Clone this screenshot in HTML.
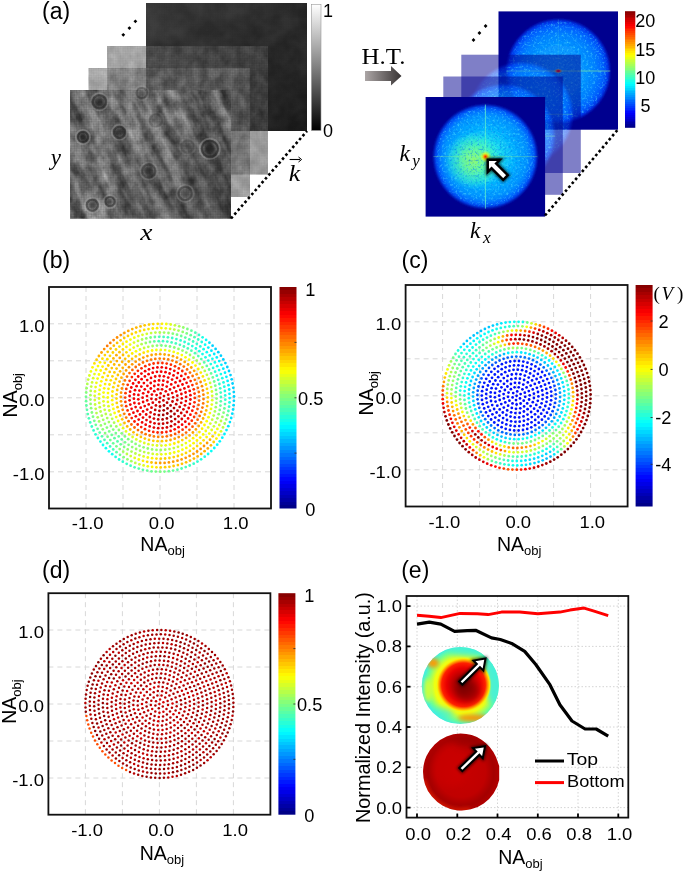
<!DOCTYPE html>
<html><head><meta charset="utf-8"><title>Figure</title>
<style>html,body{margin:0;padding:0;background:#fff;width:685px;height:873px;overflow:hidden}svg{display:block;font-family:"Liberation Sans",sans-serif;will-change:transform}</style>
</head><body>
<svg width="685" height="873" viewBox="0 0 685 873">
<defs>
<linearGradient id="jetv" x1="0" y1="1" x2="0" y2="0"><stop offset="0.0000" stop-color="#000087"/><stop offset="0.0156" stop-color="#000087"/><stop offset="0.0156" stop-color="#000097"/><stop offset="0.0312" stop-color="#000097"/><stop offset="0.0312" stop-color="#0000a7"/><stop offset="0.0469" stop-color="#0000a7"/><stop offset="0.0469" stop-color="#0000b7"/><stop offset="0.0625" stop-color="#0000b7"/><stop offset="0.0625" stop-color="#0000c7"/><stop offset="0.0781" stop-color="#0000c7"/><stop offset="0.0781" stop-color="#0000d7"/><stop offset="0.0938" stop-color="#0000d7"/><stop offset="0.0938" stop-color="#0000e7"/><stop offset="0.1094" stop-color="#0000e7"/><stop offset="0.1094" stop-color="#0000f7"/><stop offset="0.1250" stop-color="#0000f7"/><stop offset="0.1250" stop-color="#0008ff"/><stop offset="0.1406" stop-color="#0008ff"/><stop offset="0.1406" stop-color="#0018ff"/><stop offset="0.1562" stop-color="#0018ff"/><stop offset="0.1562" stop-color="#0028ff"/><stop offset="0.1719" stop-color="#0028ff"/><stop offset="0.1719" stop-color="#0038ff"/><stop offset="0.1875" stop-color="#0038ff"/><stop offset="0.1875" stop-color="#0048ff"/><stop offset="0.2031" stop-color="#0048ff"/><stop offset="0.2031" stop-color="#0058ff"/><stop offset="0.2188" stop-color="#0058ff"/><stop offset="0.2188" stop-color="#0068ff"/><stop offset="0.2344" stop-color="#0068ff"/><stop offset="0.2344" stop-color="#0078ff"/><stop offset="0.2500" stop-color="#0078ff"/><stop offset="0.2500" stop-color="#0087ff"/><stop offset="0.2656" stop-color="#0087ff"/><stop offset="0.2656" stop-color="#0097ff"/><stop offset="0.2812" stop-color="#0097ff"/><stop offset="0.2812" stop-color="#00a7ff"/><stop offset="0.2969" stop-color="#00a7ff"/><stop offset="0.2969" stop-color="#00b7ff"/><stop offset="0.3125" stop-color="#00b7ff"/><stop offset="0.3125" stop-color="#00c7ff"/><stop offset="0.3281" stop-color="#00c7ff"/><stop offset="0.3281" stop-color="#00d7ff"/><stop offset="0.3438" stop-color="#00d7ff"/><stop offset="0.3438" stop-color="#00e7ff"/><stop offset="0.3594" stop-color="#00e7ff"/><stop offset="0.3594" stop-color="#00f7ff"/><stop offset="0.3750" stop-color="#00f7ff"/><stop offset="0.3750" stop-color="#08fff7"/><stop offset="0.3906" stop-color="#08fff7"/><stop offset="0.3906" stop-color="#18ffe7"/><stop offset="0.4062" stop-color="#18ffe7"/><stop offset="0.4062" stop-color="#28ffd7"/><stop offset="0.4219" stop-color="#28ffd7"/><stop offset="0.4219" stop-color="#38ffc7"/><stop offset="0.4375" stop-color="#38ffc7"/><stop offset="0.4375" stop-color="#48ffb7"/><stop offset="0.4531" stop-color="#48ffb7"/><stop offset="0.4531" stop-color="#58ffa7"/><stop offset="0.4688" stop-color="#58ffa7"/><stop offset="0.4688" stop-color="#68ff97"/><stop offset="0.4844" stop-color="#68ff97"/><stop offset="0.4844" stop-color="#78ff87"/><stop offset="0.5000" stop-color="#78ff87"/><stop offset="0.5000" stop-color="#87ff78"/><stop offset="0.5156" stop-color="#87ff78"/><stop offset="0.5156" stop-color="#97ff68"/><stop offset="0.5312" stop-color="#97ff68"/><stop offset="0.5312" stop-color="#a7ff58"/><stop offset="0.5469" stop-color="#a7ff58"/><stop offset="0.5469" stop-color="#b7ff48"/><stop offset="0.5625" stop-color="#b7ff48"/><stop offset="0.5625" stop-color="#c7ff38"/><stop offset="0.5781" stop-color="#c7ff38"/><stop offset="0.5781" stop-color="#d7ff28"/><stop offset="0.5938" stop-color="#d7ff28"/><stop offset="0.5938" stop-color="#e7ff18"/><stop offset="0.6094" stop-color="#e7ff18"/><stop offset="0.6094" stop-color="#f7ff08"/><stop offset="0.6250" stop-color="#f7ff08"/><stop offset="0.6250" stop-color="#fff700"/><stop offset="0.6406" stop-color="#fff700"/><stop offset="0.6406" stop-color="#ffe700"/><stop offset="0.6562" stop-color="#ffe700"/><stop offset="0.6562" stop-color="#ffd700"/><stop offset="0.6719" stop-color="#ffd700"/><stop offset="0.6719" stop-color="#ffc700"/><stop offset="0.6875" stop-color="#ffc700"/><stop offset="0.6875" stop-color="#ffb700"/><stop offset="0.7031" stop-color="#ffb700"/><stop offset="0.7031" stop-color="#ffa700"/><stop offset="0.7188" stop-color="#ffa700"/><stop offset="0.7188" stop-color="#ff9700"/><stop offset="0.7344" stop-color="#ff9700"/><stop offset="0.7344" stop-color="#ff8700"/><stop offset="0.7500" stop-color="#ff8700"/><stop offset="0.7500" stop-color="#ff7800"/><stop offset="0.7656" stop-color="#ff7800"/><stop offset="0.7656" stop-color="#ff6800"/><stop offset="0.7812" stop-color="#ff6800"/><stop offset="0.7812" stop-color="#ff5800"/><stop offset="0.7969" stop-color="#ff5800"/><stop offset="0.7969" stop-color="#ff4800"/><stop offset="0.8125" stop-color="#ff4800"/><stop offset="0.8125" stop-color="#ff3800"/><stop offset="0.8281" stop-color="#ff3800"/><stop offset="0.8281" stop-color="#ff2800"/><stop offset="0.8438" stop-color="#ff2800"/><stop offset="0.8438" stop-color="#ff1800"/><stop offset="0.8594" stop-color="#ff1800"/><stop offset="0.8594" stop-color="#ff0800"/><stop offset="0.8750" stop-color="#ff0800"/><stop offset="0.8750" stop-color="#f70000"/><stop offset="0.8906" stop-color="#f70000"/><stop offset="0.8906" stop-color="#e70000"/><stop offset="0.9062" stop-color="#e70000"/><stop offset="0.9062" stop-color="#d70000"/><stop offset="0.9219" stop-color="#d70000"/><stop offset="0.9219" stop-color="#c70000"/><stop offset="0.9375" stop-color="#c70000"/><stop offset="0.9375" stop-color="#b70000"/><stop offset="0.9531" stop-color="#b70000"/><stop offset="0.9531" stop-color="#a70000"/><stop offset="0.9688" stop-color="#a70000"/><stop offset="0.9688" stop-color="#970000"/><stop offset="0.9844" stop-color="#970000"/><stop offset="0.9844" stop-color="#870000"/><stop offset="1.0000" stop-color="#870000"/></linearGradient>
<linearGradient id="grayv" x1="0" y1="1" x2="0" y2="0"><stop offset="0" stop-color="#000"/><stop offset="1" stop-color="#fff"/></linearGradient>
<linearGradient id="arrowg" x1="0" y1="0" x2="1" y2="0"><stop offset="0" stop-color="#aca6a6"/><stop offset="1" stop-color="#383434"/></linearGradient>
<filter id="noise" x="0" y="0" width="100%" height="100%">
  <feTurbulence type="fractalNoise" baseFrequency="0.9" numOctaves="2" seed="3" result="n"/>
  <feColorMatrix type="matrix" values="0 0 0 0 0  0 0 0 0 0  0 0 0 0 0  0.9 0 0 0 -0.2" result="na"/>
  <feComposite in="na" in2="SourceGraphic" operator="in"/>
</filter>
<filter id="speck" x="0" y="0" width="100%" height="100%">
  <feTurbulence type="fractalNoise" baseFrequency="0.8" numOctaves="1" seed="7" result="n"/>
  <feColorMatrix in="n" type="matrix" values="0 0 0 0 0.0  0 0 0 0 0.0  0 0 0 0 0.3  0 0 0 1.2 -0.55" result="na"/>
  <feComposite in="na" in2="SourceGraphic" operator="in"/>
</filter>
<radialGradient id="fft" cx="0.5" cy="0.5" r="0.5">
  <stop offset="0" stop-color="#30f0d0"/>
  <stop offset="0.3" stop-color="#18d8f0"/>
  <stop offset="0.55" stop-color="#00b0ff"/>
  <stop offset="0.8" stop-color="#0090ff"/>
  <stop offset="0.9" stop-color="#0064ff"/>
  <stop offset="0.96" stop-color="#0038e8"/>
  <stop offset="1" stop-color="#00008f"/>
</radialGradient>
<radialGradient id="fftb" cx="0.5" cy="0.5" r="0.5">
  <stop offset="0" stop-color="#10a8ff"/>
  <stop offset="0.45" stop-color="#0898ff"/>
  <stop offset="0.7" stop-color="#0080ff"/>
  <stop offset="0.86" stop-color="#005cff"/>
  <stop offset="0.95" stop-color="#0030e8"/>
  <stop offset="1" stop-color="#00008f"/>
</radialGradient>
<radialGradient id="spotb" cx="0.5" cy="0.5" r="0.5">
  <stop offset="0" stop-color="#d00000"/>
  <stop offset="0.35" stop-color="#ff4000"/>
  <stop offset="0.7" stop-color="#ffc000" stop-opacity="0.4"/>
  <stop offset="1" stop-color="#c0ff40" stop-opacity="0"/>
</radialGradient>
<radialGradient id="greenz" cx="0.5" cy="0.5" r="0.5">
  <stop offset="0" stop-color="#a0ff60" stop-opacity="0.9"/>
  <stop offset="0.4" stop-color="#70ff90" stop-opacity="0.8"/>
  <stop offset="0.75" stop-color="#40f8c0" stop-opacity="0.5"/>
  <stop offset="1" stop-color="#30f0e0" stop-opacity="0"/>
</radialGradient>
<radialGradient id="spot" cx="0.5" cy="0.5" r="0.5">
  <stop offset="0" stop-color="#ff2000"/>
  <stop offset="0.25" stop-color="#ff9000"/>
  <stop offset="0.55" stop-color="#ffff00" stop-opacity="0.6"/>
  <stop offset="1" stop-color="#c0ff40" stop-opacity="0"/>
</radialGradient>
<filter id="speckd" x="0" y="0" width="100%" height="100%">
  <feTurbulence type="fractalNoise" baseFrequency="0.45" numOctaves="2" seed="7" result="n"/>
  <feColorMatrix in="n" type="matrix" values="0 0 0 0 0  0 0 0 0 0.2  0 0 0 0 0.9  0 0 0 2.6 -1.3" result="na"/>
  <feComposite in="na" in2="SourceGraphic" operator="in"/>
</filter>
<filter id="speckl" x="0" y="0" width="100%" height="100%">
  <feTurbulence type="fractalNoise" baseFrequency="0.45" numOctaves="2" seed="19" result="n"/>
  <feColorMatrix in="n" type="matrix" values="0 0 0 0 0.1  0 0 0 0 0.8  0 0 0 0 1  0 0 0 2.6 -1.35" result="na"/>
  <feComposite in="na" in2="SourceGraphic" operator="in"/>
</filter>
<filter id="soft" x="-10%" y="-10%" width="120%" height="120%"><feGaussianBlur stdDeviation="1.2"/></filter>
<radialGradient id="ins1" cx="0.5" cy="0.5" r="0.5">
  <stop offset="0" stop-color="#7a0000"/>
  <stop offset="0.3" stop-color="#a80000"/>
  <stop offset="0.6" stop-color="#e80000"/>
  <stop offset="0.78" stop-color="#ff2000"/>
  <stop offset="0.86" stop-color="#ff9000"/>
  <stop offset="0.93" stop-color="#ffe800"/>
  <stop offset="1" stop-color="#d0ff40" stop-opacity="0"/>
</radialGradient>
<radialGradient id="ins1o" cx="0.53" cy="0.5" r="0.5">
  <stop offset="0" stop-color="#f0ff10"/>
  <stop offset="0.72" stop-color="#f0ff10"/>
  <stop offset="0.8" stop-color="#b8ff48"/>
  <stop offset="0.9" stop-color="#70ff90"/>
  <stop offset="1" stop-color="#48f0d8"/>
</radialGradient>
<radialGradient id="ins2" cx="0.5" cy="0.5" r="0.5">
  <stop offset="0" stop-color="#c80000"/>
  <stop offset="0.6" stop-color="#c00000"/>
  <stop offset="0.8" stop-color="#a40000"/>
  <stop offset="0.93" stop-color="#b00000"/>
  <stop offset="1" stop-color="#c00000"/>
</radialGradient>
<filter id="blur3" x="-50%" y="-50%" width="200%" height="200%"><feGaussianBlur stdDeviation="3"/></filter>
<filter id="blur2" x="-50%" y="-50%" width="200%" height="200%"><feGaussianBlur stdDeviation="2"/></filter>
<clipPath id="c_ins1"><circle cx="460.3" cy="685.5" r="38.6"/></clipPath>
<clipPath id="c_ins2"><path d="M460.5,733.5 A38.5,38.5 0 0 1 496,757 L499.2,766 L499.2,780 A38.5,38.5 0 1 1 460.5,733.5 Z"/></clipPath>
<linearGradient id="backg" x1="0" y1="0" x2="1" y2="1"><stop offset="0" stop-color="#383838"/><stop offset="0.5" stop-color="#282828"/><stop offset="1" stop-color="#181818"/></linearGradient>
<linearGradient id="f2g" x1="0" y1="0" x2="1" y2="1"><stop offset="0" stop-color="#666"/><stop offset="1" stop-color="#444"/></linearGradient>
<linearGradient id="f3g" x1="0" y1="0" x2="1" y2="1"><stop offset="0" stop-color="#7a7a7a"/><stop offset="1" stop-color="#626262"/></linearGradient>
<linearGradient id="frontv" x1="0" y1="0" x2="1" y2="0.6"><stop offset="0" stop-color="#000" stop-opacity="0.12"/><stop offset="0.45" stop-color="#000" stop-opacity="0"/><stop offset="1" stop-color="#000" stop-opacity="0.28"/></linearGradient>
<filter id="gnoise" x="0" y="0" width="100%" height="100%" color-interpolation-filters="sRGB">
  <feTurbulence type="fractalNoise" baseFrequency="0.11 0.09" numOctaves="3" seed="5"/>
  <feColorMatrix type="matrix" values="1.6 0 0 0 -0.3  1.6 0 0 0 -0.3  1.6 0 0 0 -0.3  0 0 0 0 1"/>
</filter>
<filter id="gnoise2" x="0" y="0" width="100%" height="100%" color-interpolation-filters="sRGB">
  <feTurbulence type="fractalNoise" baseFrequency="0.05" numOctaves="3" seed="11"/>
  <feColorMatrix type="matrix" values="2 0 0 0 -0.5  2 0 0 0 -0.5  2 0 0 0 -0.5  0 0 0 0 1"/>
</filter>
<pattern id="hatch" width="2.4" height="2.4" patternUnits="userSpaceOnUse" patternTransform="rotate(45)">
  <rect width="1.2" height="1.2" fill="rgba(0,0,0,0.2)"/><rect x="1.2" y="1.2" width="1.2" height="1.2" fill="rgba(0,0,0,0.2)"/>
</pattern>
<pattern id="bands" width="18" height="18" patternUnits="userSpaceOnUse" patternTransform="rotate(-30)">
  <rect width="18" height="5" fill="rgba(255,255,255,0.13)"/>
  <rect y="9" width="18" height="5" fill="rgba(0,0,0,0.10)"/>
</pattern>
<filter id="blur1" x="-50%" y="-50%" width="200%" height="200%"><feGaussianBlur stdDeviation="1.5"/></filter>
<filter id="streak" x="0" y="0" width="100%" height="100%" color-interpolation-filters="sRGB">
  <feTurbulence type="fractalNoise" baseFrequency="0.075 0.012" numOctaves="3" seed="23"/>
  <feColorMatrix type="matrix" values="2.4 0 0 0 -0.7  2.4 0 0 0 -0.7  2.4 0 0 0 -0.7  0 0 0 0 1"/>
</filter>
<pattern id="diag" width="6" height="6" patternUnits="userSpaceOnUse" patternTransform="rotate(45)">
  <rect width="6" height="3" fill="rgba(255,255,255,0.08)"/>
</pattern>
</defs>
<text x="42" y="19" font-size="23" font-family="Liberation Sans, sans-serif">(a)</text>
<rect x="146" y="3" width="161" height="128" fill="url(#backg)"/>
<rect x="146" y="3" width="161" height="128" filter="url(#gnoise2)" opacity="0.05"/>
<rect x="146" y="3" width="161" height="128" fill="url(#hatch)" opacity="0.3"/>
<g opacity="0.56"><rect x="107" y="46" width="161" height="128.5" fill="url(#f2g)"/><rect x="107" y="46" width="161" height="128.5" filter="url(#gnoise)" opacity="0.2"/><rect x="107" y="46" width="161" height="128.5" fill="url(#hatch)"/></g>
<g opacity="0.6"><rect x="88.6" y="68" width="161.4" height="129" fill="url(#f3g)"/><rect x="88.6" y="68" width="161.4" height="129" filter="url(#gnoise)" opacity="0.2"/><rect x="88.6" y="68" width="161.4" height="129" fill="url(#hatch)"/></g>
<rect x="70" y="90" width="161" height="128.6" fill="#747474"/>
<clipPath id="frontclip"><rect x="70" y="90" width="161" height="128.6"/></clipPath>
<g clip-path="url(#frontclip)"><g transform="rotate(-26 150 154)"><rect x="40" y="40" width="230" height="230" filter="url(#streak)" opacity="0.42"/></g></g>
<rect x="70" y="90" width="161" height="128.6" filter="url(#gnoise)" opacity="0.24"/>
<rect x="70" y="90" width="161" height="128.6" fill="url(#hatch)"/>
<rect x="70" y="90" width="161" height="128.6" fill="url(#frontv)"/>
<circle cx="99.4" cy="101.8" r="8.7" fill="none" stroke="#d8d8d8" stroke-width="1.6" opacity="0.20"/>
<circle cx="99.4" cy="101.8" r="6.5" fill="none" stroke="#262626" stroke-width="2" opacity="0.48"/>
<circle cx="99.4" cy="101.8" r="3.9" fill="#1a1a1a" opacity="0.60" filter="url(#blur1)"/>
<circle cx="82.9" cy="137.0" r="7.2" fill="none" stroke="#d8d8d8" stroke-width="1.6" opacity="0.25"/>
<circle cx="82.9" cy="137.0" r="5.0" fill="none" stroke="#262626" stroke-width="2" opacity="0.60"/>
<circle cx="82.9" cy="137.0" r="3.0" fill="#1a1a1a" opacity="0.75" filter="url(#blur1)"/>
<circle cx="119.4" cy="132.3" r="7.7" fill="none" stroke="#d8d8d8" stroke-width="1.6" opacity="0.20"/>
<circle cx="119.4" cy="132.3" r="5.5" fill="none" stroke="#262626" stroke-width="2" opacity="0.48"/>
<circle cx="119.4" cy="132.3" r="3.3" fill="#1a1a1a" opacity="0.60" filter="url(#blur1)"/>
<circle cx="209.8" cy="148.8" r="10.2" fill="none" stroke="#d8d8d8" stroke-width="1.6" opacity="0.25"/>
<circle cx="209.8" cy="148.8" r="8.0" fill="none" stroke="#262626" stroke-width="2" opacity="0.60"/>
<circle cx="209.8" cy="148.8" r="4.8" fill="#1a1a1a" opacity="0.75" filter="url(#blur1)"/>
<circle cx="148.7" cy="171.0" r="8.7" fill="none" stroke="#d8d8d8" stroke-width="1.6" opacity="0.15"/>
<circle cx="148.7" cy="171.0" r="6.5" fill="none" stroke="#262626" stroke-width="2" opacity="0.36"/>
<circle cx="148.7" cy="171.0" r="3.9" fill="#1a1a1a" opacity="0.45" filter="url(#blur1)"/>
<circle cx="185.2" cy="193.4" r="8.7" fill="none" stroke="#d8d8d8" stroke-width="1.6" opacity="0.15"/>
<circle cx="185.2" cy="193.4" r="6.5" fill="none" stroke="#262626" stroke-width="2" opacity="0.36"/>
<circle cx="185.2" cy="193.4" r="3.9" fill="#1a1a1a" opacity="0.45" filter="url(#blur1)"/>
<circle cx="92.3" cy="205.2" r="7.7" fill="none" stroke="#d8d8d8" stroke-width="1.6" opacity="0.20"/>
<circle cx="92.3" cy="205.2" r="5.5" fill="none" stroke="#262626" stroke-width="2" opacity="0.48"/>
<circle cx="92.3" cy="205.2" r="3.3" fill="#1a1a1a" opacity="0.60" filter="url(#blur1)"/>
<circle cx="110.0" cy="201.6" r="6.7" fill="none" stroke="#d8d8d8" stroke-width="1.6" opacity="0.20"/>
<circle cx="110.0" cy="201.6" r="4.5" fill="none" stroke="#262626" stroke-width="2" opacity="0.48"/>
<circle cx="110.0" cy="201.6" r="2.7" fill="#1a1a1a" opacity="0.60" filter="url(#blur1)"/>
<circle cx="141.7" cy="93.0" r="7.2" fill="none" stroke="#d8d8d8" stroke-width="1.6" opacity="0.12"/>
<circle cx="141.7" cy="93.0" r="5.0" fill="none" stroke="#262626" stroke-width="2" opacity="0.30"/>
<circle cx="141.7" cy="93.0" r="3.0" fill="#1a1a1a" opacity="0.38" filter="url(#blur1)"/>
<circle cx="155.8" cy="120.5" r="8.2" fill="none" stroke="#d8d8d8" stroke-width="1.6" opacity="0.07"/>
<circle cx="155.8" cy="120.5" r="6.0" fill="none" stroke="#262626" stroke-width="2" opacity="0.18"/>
<circle cx="155.8" cy="120.5" r="3.6" fill="#1a1a1a" opacity="0.22" filter="url(#blur1)"/>
<circle cx="187.5" cy="146.4" r="8.2" fill="none" stroke="#d8d8d8" stroke-width="1.6" opacity="0.07"/>
<circle cx="187.5" cy="146.4" r="6.0" fill="none" stroke="#262626" stroke-width="2" opacity="0.18"/>
<circle cx="187.5" cy="146.4" r="3.6" fill="#1a1a1a" opacity="0.22" filter="url(#blur1)"/>
<path d="M123.3,32.9 l1.9,1.9 l-1.9,1.9 l-1.9,-1.9 Z" fill="#000"/>
<path d="M129.4,26.2 l1.9,1.9 l-1.9,1.9 l-1.9,-1.9 Z" fill="#000"/>
<path d="M135.4,19.4 l1.9,1.9 l-1.9,1.9 l-1.9,-1.9 Z" fill="#000"/>
<line x1="231" y1="218.5" x2="307" y2="131" stroke="#000" stroke-width="2.6" stroke-dasharray="2.6 2.6"/>
<rect x="311.4" y="4.5" width="9.6" height="126" fill="url(#grayv)" stroke="#9a9a9a" stroke-width="0.6"/>
<text x="323" y="17" font-size="18" font-family="Liberation Sans, sans-serif">1</text>
<text x="323" y="137" font-size="18" font-family="Liberation Sans, sans-serif">0</text>
<text x="50.8" y="165.2" font-size="23" font-style="italic" font-family="Liberation Serif, serif">y</text>
<text x="140.2" y="240" font-size="23.5" font-style="italic" textLength="12.2" lengthAdjust="spacingAndGlyphs" font-family="Liberation Serif, serif">x</text>
<text x="288.8" y="180.5" font-size="23.5" font-style="italic" textLength="11.5" lengthAdjust="spacingAndGlyphs" font-family="Liberation Serif, serif">k</text>
<line x1="289.6" y1="159.5" x2="300" y2="159.5" stroke="#000" stroke-width="1.1"/>
<path d="M298.5,157 L301.6,159.5 L298.5,162" fill="none" stroke="#000" stroke-width="1"/>
<text x="361.6" y="63.9" font-size="23.4" textLength="43.8" lengthAdjust="spacingAndGlyphs" font-family="Liberation Serif, serif">H.T.</text>
<path d="M365,71 L391,71 L391,66 L401.5,76 L391,85.5 L391,81 L365,81 Z" fill="url(#arrowg)"/>
<path d="M473.5,38.1 l1.9,1.9 l-1.9,1.9 l-1.9,-1.9 Z" fill="#000"/>
<path d="M479.4,31.1 l1.9,1.9 l-1.9,1.9 l-1.9,-1.9 Z" fill="#000"/>
<path d="M485.6,24.1 l1.9,1.9 l-1.9,1.9 l-1.9,-1.9 Z" fill="#000"/>
<g opacity="1.00"><rect x="498.5" y="11.4" width="119.5" height="118.3" fill="#00008f"/><circle cx="558.3" cy="71.0" r="52.5" fill="url(#fftb)" filter="url(#soft)"/><circle cx="558.3" cy="71.0" r="50.5" fill="#000" filter="url(#speckd)" opacity="0.7"/><circle cx="558.3" cy="71.0" r="49" fill="#000" filter="url(#speckl)" opacity="0.6"/><line x1="558.3" y1="19.0" x2="558.3" y2="123.0" stroke="#70ffc0" stroke-width="0.9" opacity="0.15"/><line x1="506.3" y1="71.0" x2="610.3" y2="71.0" stroke="#a0ff80" stroke-width="0.9" opacity="0.60"/><ellipse cx="558.3" cy="71.0" rx="4.5" ry="2.6" fill="url(#spotb)"/></g>
<g opacity="0.50"><rect x="461.3" y="54.7" width="119.5" height="118.3" fill="#00008f"/><circle cx="521.1" cy="114.3" r="52.5" fill="url(#fftb)" filter="url(#soft)"/><circle cx="521.1" cy="114.3" r="50.5" fill="#000" filter="url(#speckd)" opacity="0.7"/><circle cx="521.1" cy="114.3" r="49" fill="#000" filter="url(#speckl)" opacity="0.6"/><line x1="521.1" y1="62.3" x2="521.1" y2="166.3" stroke="#70ffc0" stroke-width="0.9" opacity="0.15"/><line x1="469.1" y1="114.3" x2="573.1" y2="114.3" stroke="#a0ff80" stroke-width="0.9" opacity="0.60"/><ellipse cx="521.1" cy="114.3" rx="4.5" ry="2.6" fill="url(#spotb)"/></g>
<g opacity="0.50"><rect x="443.3" y="76.5" width="119.5" height="118.3" fill="#00008f"/><circle cx="503.1" cy="136.1" r="52.5" fill="url(#fftb)" filter="url(#soft)"/><circle cx="503.1" cy="136.1" r="50.5" fill="#000" filter="url(#speckd)" opacity="0.7"/><circle cx="503.1" cy="136.1" r="49" fill="#000" filter="url(#speckl)" opacity="0.6"/><line x1="503.1" y1="84.1" x2="503.1" y2="188.1" stroke="#70ffc0" stroke-width="0.9" opacity="0.15"/><line x1="451.1" y1="136.1" x2="555.1" y2="136.1" stroke="#a0ff80" stroke-width="0.9" opacity="0.60"/><ellipse cx="503.1" cy="136.1" rx="4.5" ry="2.6" fill="url(#spotb)"/></g>
<g opacity="1.00"><rect x="425.6" y="97.0" width="119.5" height="119.6" fill="#00008f"/><circle cx="485.4" cy="156.6" r="52.5" fill="url(#fft)" filter="url(#soft)"/><circle cx="473.4" cy="160.6" r="29" fill="url(#greenz)"/><circle cx="485.4" cy="156.6" r="50.5" fill="#000" filter="url(#speckd)" opacity="0.7"/><circle cx="485.4" cy="156.6" r="49" fill="#000" filter="url(#speckl)" opacity="0.6"/><line x1="485.4" y1="104.6" x2="485.4" y2="208.6" stroke="#70ffc0" stroke-width="0.9" opacity="0.75"/><line x1="433.4" y1="156.6" x2="537.4" y2="156.6" stroke="#a0ff80" stroke-width="0.9" opacity="0.35"/><circle cx="485.4" cy="156.6" r="6" fill="url(#spot)"/></g>
<g transform="translate(487.8,159.8) rotate(-45)"><path d="M0,0 L8.5,8.5 L3.2,8.5 L3.2,25 L-3.2,25 L-3.2,8.5 L-8.5,8.5 Z" fill="#000" stroke="#000" stroke-width="4" filter="url(#blur1)" opacity="0.8"/><path d="M0,0 L8.5,8.5 L3.2,8.5 L3.2,25 L-3.2,25 L-3.2,8.5 L-8.5,8.5 Z" fill="#fff" stroke="#000" stroke-width="2.4" stroke-linejoin="miter"/></g>
<line x1="545" y1="215.5" x2="617.5" y2="130" stroke="#000" stroke-width="2.6" stroke-dasharray="2.6 2.6"/>
<rect x="625" y="11.2" width="10.3" height="116.6" fill="url(#jetv)"/>
<text x="635.3" y="26.8" font-size="18" font-family="Liberation Sans, sans-serif">20</text>
<text x="635.3" y="55.5" font-size="18" font-family="Liberation Sans, sans-serif">15</text>
<text x="635.3" y="84.0" font-size="18" font-family="Liberation Sans, sans-serif">10</text>
<text x="640.6" y="112.0" font-size="18" font-family="Liberation Sans, sans-serif">5</text>
<text x="399.6" y="161.3" font-size="23.5" font-style="italic" font-family="Liberation Serif, serif">k<tspan font-size="17" dx="2.3" dy="5">y</tspan></text>
<text x="470" y="237.8" font-size="23.5" font-style="italic" font-family="Liberation Serif, serif">k<tspan font-size="17.5" dx="2.6" dy="5">x</tspan></text>
<text x="42.0" y="268.0" font-size="23" font-family="Liberation Sans, sans-serif">(b)</text>
<line x1="86.0" y1="287.0" x2="86.0" y2="508.5" stroke="#d8d8d8" stroke-width="1" stroke-dasharray="5 4"/>
<line x1="49.0" y1="471.8" x2="271.0" y2="471.8" stroke="#d8d8d8" stroke-width="1" stroke-dasharray="5 4"/>
<line x1="123.0" y1="287.0" x2="123.0" y2="508.5" stroke="#d8d8d8" stroke-width="1" stroke-dasharray="5 4"/>
<line x1="49.0" y1="434.8" x2="271.0" y2="434.8" stroke="#d8d8d8" stroke-width="1" stroke-dasharray="5 4"/>
<line x1="160.0" y1="287.0" x2="160.0" y2="508.5" stroke="#d8d8d8" stroke-width="1" stroke-dasharray="5 4"/>
<line x1="49.0" y1="397.8" x2="271.0" y2="397.8" stroke="#d8d8d8" stroke-width="1" stroke-dasharray="5 4"/>
<line x1="197.0" y1="287.0" x2="197.0" y2="508.5" stroke="#d8d8d8" stroke-width="1" stroke-dasharray="5 4"/>
<line x1="49.0" y1="360.8" x2="271.0" y2="360.8" stroke="#d8d8d8" stroke-width="1" stroke-dasharray="5 4"/>
<line x1="234.0" y1="287.0" x2="234.0" y2="508.5" stroke="#d8d8d8" stroke-width="1" stroke-dasharray="5 4"/>
<line x1="49.0" y1="323.8" x2="271.0" y2="323.8" stroke="#d8d8d8" stroke-width="1" stroke-dasharray="5 4"/>
<circle cx="160.0" cy="397.8" r="1.38" fill="#da0000"/>
<circle cx="164.0" cy="396.1" r="1.38" fill="#db0000"/>
<circle cx="160.6" cy="393.4" r="1.38" fill="#e70000"/>
<circle cx="156.6" cy="395.1" r="1.38" fill="#e70000"/>
<circle cx="156.0" cy="399.4" r="1.38" fill="#de0000"/>
<circle cx="159.4" cy="402.1" r="1.38" fill="#cb0000"/>
<circle cx="163.4" cy="400.4" r="1.38" fill="#c90000"/>
<circle cx="168.2" cy="394.7" r="1.38" fill="#df0000"/>
<circle cx="165.8" cy="391.3" r="1.38" fill="#e90000"/>
<circle cx="162.1" cy="389.3" r="1.38" fill="#ee0000"/>
<circle cx="158.0" cy="389.3" r="1.38" fill="#f00000"/>
<circle cx="154.3" cy="391.2" r="1.38" fill="#f00000"/>
<circle cx="151.9" cy="394.6" r="1.38" fill="#ee0000"/>
<circle cx="151.4" cy="398.8" r="1.38" fill="#e90000"/>
<circle cx="152.8" cy="402.7" r="1.38" fill="#df0000"/>
<circle cx="155.9" cy="405.4" r="1.38" fill="#cd0000"/>
<circle cx="160.0" cy="406.5" r="1.38" fill="#b90000"/>
<circle cx="164.0" cy="405.5" r="1.38" fill="#af0000"/>
<circle cx="167.1" cy="402.7" r="1.38" fill="#ba0000"/>
<circle cx="168.6" cy="398.8" r="1.38" fill="#ce0000"/>
<circle cx="173.1" cy="397.3" r="1.38" fill="#d90000"/>
<circle cx="172.2" cy="393.1" r="1.38" fill="#e60000"/>
<circle cx="170.0" cy="389.4" r="1.38" fill="#ed0000"/>
<circle cx="166.7" cy="386.6" r="1.38" fill="#f10000"/>
<circle cx="162.7" cy="385.0" r="1.38" fill="#f20000"/>
<circle cx="158.4" cy="384.8" r="1.38" fill="#f30000"/>
<circle cx="154.3" cy="386.0" r="1.38" fill="#f30000"/>
<circle cx="150.8" cy="388.5" r="1.38" fill="#f30000"/>
<circle cx="148.3" cy="392.0" r="1.38" fill="#f20000"/>
<circle cx="147.0" cy="396.1" r="1.38" fill="#f10000"/>
<circle cx="147.2" cy="400.4" r="1.38" fill="#ee0000"/>
<circle cx="148.7" cy="404.4" r="1.38" fill="#e70000"/>
<circle cx="151.5" cy="407.7" r="1.38" fill="#db0000"/>
<circle cx="155.2" cy="409.9" r="1.38" fill="#c80000"/>
<circle cx="159.4" cy="410.8" r="1.38" fill="#b10000"/>
<circle cx="163.7" cy="410.3" r="1.38" fill="#a10000"/>
<circle cx="167.5" cy="408.4" r="1.38" fill="#a00000"/>
<circle cx="170.6" cy="405.4" r="1.38" fill="#af0000"/>
<circle cx="172.5" cy="401.5" r="1.38" fill="#c60000"/>
<circle cx="177.3" cy="395.7" r="1.38" fill="#e50000"/>
<circle cx="176.2" cy="391.4" r="1.38" fill="#ec0000"/>
<circle cx="174.1" cy="387.6" r="1.38" fill="#f00000"/>
<circle cx="171.2" cy="384.4" r="1.38" fill="#f20000"/>
<circle cx="167.5" cy="382.0" r="1.38" fill="#f30000"/>
<circle cx="163.3" cy="380.7" r="1.38" fill="#f40000"/>
<circle cx="159.0" cy="380.4" r="1.38" fill="#f40000"/>
<circle cx="154.7" cy="381.2" r="1.38" fill="#f40000"/>
<circle cx="150.7" cy="383.0" r="1.38" fill="#f40000"/>
<circle cx="147.4" cy="385.8" r="1.38" fill="#f40000"/>
<circle cx="144.8" cy="389.3" r="1.38" fill="#f40000"/>
<circle cx="143.2" cy="393.3" r="1.38" fill="#f40000"/>
<circle cx="142.6" cy="397.7" r="1.38" fill="#f30000"/>
<circle cx="143.1" cy="402.0" r="1.38" fill="#f10000"/>
<circle cx="144.7" cy="406.1" r="1.38" fill="#ee0000"/>
<circle cx="147.2" cy="409.6" r="1.38" fill="#e70000"/>
<circle cx="150.6" cy="412.4" r="1.38" fill="#dc0000"/>
<circle cx="154.5" cy="414.3" r="1.38" fill="#ca0000"/>
<circle cx="158.8" cy="415.1" r="1.38" fill="#b50000"/>
<circle cx="163.2" cy="414.9" r="1.38" fill="#a20000"/>
<circle cx="167.3" cy="413.5" r="1.38" fill="#990000"/>
<circle cx="171.0" cy="411.2" r="1.38" fill="#9f0000"/>
<circle cx="174.0" cy="408.1" r="1.38" fill="#b00000"/>
<circle cx="176.2" cy="404.2" r="1.38" fill="#c60000"/>
<circle cx="177.3" cy="400.0" r="1.38" fill="#d80000"/>
<circle cx="181.4" cy="394.0" r="1.38" fill="#ed0000"/>
<circle cx="180.3" cy="389.8" r="1.38" fill="#f10000"/>
<circle cx="178.2" cy="385.9" r="1.38" fill="#f30000"/>
<circle cx="175.5" cy="382.4" r="1.38" fill="#f40000"/>
<circle cx="172.1" cy="379.6" r="1.38" fill="#f40000"/>
<circle cx="168.2" cy="377.6" r="1.38" fill="#f40000"/>
<circle cx="163.9" cy="376.3" r="1.38" fill="#f50000"/>
<circle cx="159.6" cy="376.0" r="1.38" fill="#f50000"/>
<circle cx="155.2" cy="376.5" r="1.38" fill="#f50000"/>
<circle cx="151.0" cy="377.9" r="1.38" fill="#f50000"/>
<circle cx="147.2" cy="380.1" r="1.38" fill="#f50000"/>
<circle cx="143.9" cy="383.1" r="1.38" fill="#f50000"/>
<circle cx="141.3" cy="386.6" r="1.38" fill="#f50000"/>
<circle cx="139.4" cy="390.6" r="1.38" fill="#f50000"/>
<circle cx="138.4" cy="394.9" r="1.38" fill="#f40000"/>
<circle cx="138.3" cy="399.3" r="1.38" fill="#f40000"/>
<circle cx="139.0" cy="403.6" r="1.38" fill="#f30000"/>
<circle cx="140.7" cy="407.7" r="1.38" fill="#f20000"/>
<circle cx="143.1" cy="411.4" r="1.38" fill="#ef0000"/>
<circle cx="146.2" cy="414.5" r="1.38" fill="#e90000"/>
<circle cx="149.8" cy="417.0" r="1.38" fill="#e00000"/>
<circle cx="153.9" cy="418.6" r="1.38" fill="#d30000"/>
<circle cx="158.2" cy="419.4" r="1.38" fill="#c20000"/>
<circle cx="162.6" cy="419.4" r="1.38" fill="#b20000"/>
<circle cx="166.9" cy="418.4" r="1.38" fill="#a60000"/>
<circle cx="170.9" cy="416.6" r="1.38" fill="#a40000"/>
<circle cx="174.5" cy="414.0" r="1.38" fill="#ad0000"/>
<circle cx="177.5" cy="410.7" r="1.38" fill="#bc0000"/>
<circle cx="179.7" cy="406.9" r="1.38" fill="#cd0000"/>
<circle cx="181.2" cy="402.8" r="1.38" fill="#dc0000"/>
<circle cx="181.8" cy="398.4" r="1.38" fill="#e60000"/>
<circle cx="186.1" cy="396.8" r="1.38" fill="#ef0000"/>
<circle cx="185.6" cy="392.5" r="1.38" fill="#f20000"/>
<circle cx="184.4" cy="388.4" r="1.38" fill="#f30000"/>
<circle cx="182.5" cy="384.5" r="1.38" fill="#f40000"/>
<circle cx="180.0" cy="381.0" r="1.38" fill="#f40000"/>
<circle cx="177.0" cy="377.9" r="1.38" fill="#f50000"/>
<circle cx="173.5" cy="375.4" r="1.38" fill="#f50000"/>
<circle cx="169.6" cy="373.5" r="1.38" fill="#f50000"/>
<circle cx="165.5" cy="372.2" r="1.38" fill="#f50000"/>
<circle cx="161.2" cy="371.7" r="1.38" fill="#f50000"/>
<circle cx="156.9" cy="371.8" r="1.38" fill="#f50000"/>
<circle cx="152.7" cy="372.7" r="1.38" fill="#f50000"/>
<circle cx="148.6" cy="374.2" r="1.38" fill="#f50000"/>
<circle cx="144.9" cy="376.4" r="1.38" fill="#f50000"/>
<circle cx="141.6" cy="379.2" r="1.38" fill="#f50000"/>
<circle cx="138.8" cy="382.5" r="1.38" fill="#f50000"/>
<circle cx="136.6" cy="386.2" r="1.38" fill="#f50000"/>
<circle cx="135.0" cy="390.2" r="1.38" fill="#f50000"/>
<circle cx="134.1" cy="394.4" r="1.38" fill="#f50000"/>
<circle cx="133.9" cy="398.7" r="1.38" fill="#f50000"/>
<circle cx="134.4" cy="403.0" r="1.38" fill="#f40000"/>
<circle cx="135.6" cy="407.1" r="1.38" fill="#f40000"/>
<circle cx="137.5" cy="411.0" r="1.38" fill="#f30000"/>
<circle cx="140.0" cy="414.5" r="1.38" fill="#f20000"/>
<circle cx="143.0" cy="417.6" r="1.38" fill="#ef0000"/>
<circle cx="146.5" cy="420.1" r="1.38" fill="#eb0000"/>
<circle cx="150.4" cy="422.0" r="1.38" fill="#e50000"/>
<circle cx="154.5" cy="423.3" r="1.38" fill="#db0000"/>
<circle cx="158.8" cy="423.8" r="1.38" fill="#d00000"/>
<circle cx="163.1" cy="423.7" r="1.38" fill="#c50000"/>
<circle cx="167.3" cy="422.8" r="1.38" fill="#bc0000"/>
<circle cx="171.4" cy="421.3" r="1.38" fill="#b80000"/>
<circle cx="175.1" cy="419.1" r="1.38" fill="#bb0000"/>
<circle cx="178.4" cy="416.3" r="1.38" fill="#c30000"/>
<circle cx="181.2" cy="413.0" r="1.38" fill="#ce0000"/>
<circle cx="183.4" cy="409.3" r="1.38" fill="#da0000"/>
<circle cx="185.0" cy="405.3" r="1.38" fill="#e30000"/>
<circle cx="185.9" cy="401.1" r="1.38" fill="#ea0000"/>
<circle cx="190.4" cy="395.2" r="1.38" fill="#f30000"/>
<circle cx="189.7" cy="390.9" r="1.38" fill="#f40000"/>
<circle cx="188.4" cy="386.7" r="1.38" fill="#f40000"/>
<circle cx="186.6" cy="382.8" r="1.38" fill="#f40000"/>
<circle cx="184.2" cy="379.2" r="1.38" fill="#f50000"/>
<circle cx="181.3" cy="375.9" r="1.38" fill="#f50000"/>
<circle cx="177.9" cy="373.1" r="1.38" fill="#f50000"/>
<circle cx="174.3" cy="370.8" r="1.38" fill="#f50000"/>
<circle cx="170.3" cy="369.1" r="1.38" fill="#f50000"/>
<circle cx="166.1" cy="367.9" r="1.38" fill="#f50000"/>
<circle cx="161.8" cy="367.3" r="1.38" fill="#f50000"/>
<circle cx="157.4" cy="367.4" r="1.38" fill="#f50000"/>
<circle cx="153.1" cy="368.1" r="1.38" fill="#f50000"/>
<circle cx="149.0" cy="369.3" r="1.38" fill="#f50000"/>
<circle cx="145.1" cy="371.2" r="1.38" fill="#f50000"/>
<circle cx="141.4" cy="373.6" r="1.38" fill="#f50000"/>
<circle cx="138.2" cy="376.5" r="1.38" fill="#f50000"/>
<circle cx="135.4" cy="379.8" r="1.38" fill="#f50000"/>
<circle cx="133.1" cy="383.5" r="1.38" fill="#f50000"/>
<circle cx="131.3" cy="387.5" r="1.38" fill="#f50000"/>
<circle cx="130.1" cy="391.7" r="1.38" fill="#f50000"/>
<circle cx="129.6" cy="396.0" r="1.38" fill="#f50000"/>
<circle cx="129.6" cy="400.3" r="1.38" fill="#f50000"/>
<circle cx="130.3" cy="404.6" r="1.38" fill="#f50000"/>
<circle cx="131.6" cy="408.8" r="1.38" fill="#f50000"/>
<circle cx="133.4" cy="412.7" r="1.38" fill="#f40000"/>
<circle cx="135.8" cy="416.3" r="1.38" fill="#f40000"/>
<circle cx="138.7" cy="419.6" r="1.38" fill="#f30000"/>
<circle cx="142.1" cy="422.4" r="1.38" fill="#f20000"/>
<circle cx="145.7" cy="424.7" r="1.38" fill="#ef0000"/>
<circle cx="149.7" cy="426.4" r="1.38" fill="#ec0000"/>
<circle cx="153.9" cy="427.6" r="1.38" fill="#e70000"/>
<circle cx="158.2" cy="428.2" r="1.38" fill="#e00000"/>
<circle cx="162.6" cy="428.1" r="1.38" fill="#d90000"/>
<circle cx="166.9" cy="427.4" r="1.38" fill="#d30000"/>
<circle cx="171.0" cy="426.2" r="1.38" fill="#d00000"/>
<circle cx="174.9" cy="424.3" r="1.38" fill="#cf0000"/>
<circle cx="178.6" cy="421.9" r="1.38" fill="#d20000"/>
<circle cx="181.8" cy="419.0" r="1.38" fill="#d70000"/>
<circle cx="184.6" cy="415.7" r="1.38" fill="#de0000"/>
<circle cx="186.9" cy="412.0" r="1.38" fill="#e50000"/>
<circle cx="188.7" cy="408.0" r="1.38" fill="#ea0000"/>
<circle cx="189.9" cy="403.8" r="1.38" fill="#ee0000"/>
<circle cx="190.4" cy="399.5" r="1.38" fill="#f10000"/>
<circle cx="194.6" cy="393.6" r="1.38" fill="#ff2b00"/>
<circle cx="193.8" cy="389.3" r="1.38" fill="#ff2900"/>
<circle cx="192.4" cy="385.1" r="1.38" fill="#ff2700"/>
<circle cx="190.6" cy="381.1" r="1.38" fill="#ff2600"/>
<circle cx="188.3" cy="377.4" r="1.38" fill="#ff2400"/>
<circle cx="185.5" cy="374.0" r="1.38" fill="#ff2200"/>
<circle cx="182.3" cy="371.0" r="1.38" fill="#ff2400"/>
<circle cx="178.8" cy="368.4" r="1.38" fill="#ff2600"/>
<circle cx="175.0" cy="366.3" r="1.38" fill="#ff2900"/>
<circle cx="170.9" cy="364.7" r="1.38" fill="#ff2b00"/>
<circle cx="166.7" cy="363.6" r="1.38" fill="#ff2e00"/>
<circle cx="162.4" cy="363.0" r="1.38" fill="#ff3000"/>
<circle cx="158.0" cy="363.0" r="1.38" fill="#ff3000"/>
<circle cx="153.6" cy="363.5" r="1.38" fill="#ff2e00"/>
<circle cx="149.4" cy="364.6" r="1.38" fill="#ff2b00"/>
<circle cx="145.3" cy="366.2" r="1.38" fill="#ff2900"/>
<circle cx="141.5" cy="368.3" r="1.38" fill="#ff2600"/>
<circle cx="137.9" cy="370.8" r="1.38" fill="#ff2400"/>
<circle cx="134.7" cy="373.8" r="1.38" fill="#ff2300"/>
<circle cx="131.9" cy="377.1" r="1.38" fill="#ff2700"/>
<circle cx="129.6" cy="380.8" r="1.38" fill="#ff2b00"/>
<circle cx="127.7" cy="384.8" r="1.38" fill="#ff2f00"/>
<circle cx="126.3" cy="388.9" r="1.38" fill="#ff3400"/>
<circle cx="125.5" cy="393.2" r="1.38" fill="#ff3800"/>
<circle cx="125.2" cy="397.6" r="1.38" fill="#ff3c00"/>
<circle cx="125.4" cy="401.9" r="1.38" fill="#ff3600"/>
<circle cx="126.2" cy="406.2" r="1.38" fill="#ff3100"/>
<circle cx="127.6" cy="410.4" r="1.38" fill="#ff2b00"/>
<circle cx="129.4" cy="414.4" r="1.38" fill="#ff2500"/>
<circle cx="131.7" cy="418.1" r="1.38" fill="#ff1f00"/>
<circle cx="134.5" cy="421.5" r="1.38" fill="#ff1900"/>
<circle cx="137.7" cy="424.5" r="1.38" fill="#ff1a00"/>
<circle cx="141.2" cy="427.1" r="1.38" fill="#ff1d00"/>
<circle cx="145.0" cy="429.2" r="1.38" fill="#ff1f00"/>
<circle cx="149.1" cy="430.8" r="1.38" fill="#ff2200"/>
<circle cx="153.3" cy="431.9" r="1.38" fill="#ff2400"/>
<circle cx="157.6" cy="432.5" r="1.38" fill="#ff2600"/>
<circle cx="162.0" cy="432.5" r="1.38" fill="#ff2200"/>
<circle cx="166.4" cy="432.0" r="1.38" fill="#ff1800"/>
<circle cx="170.6" cy="430.9" r="1.38" fill="#ff0f00"/>
<circle cx="174.7" cy="429.3" r="1.38" fill="#ff0600"/>
<circle cx="178.5" cy="427.2" r="1.38" fill="#fd0000"/>
<circle cx="182.1" cy="424.7" r="1.38" fill="#f50000"/>
<circle cx="185.3" cy="421.7" r="1.38" fill="#f20000"/>
<circle cx="188.1" cy="418.4" r="1.38" fill="#fc0000"/>
<circle cx="190.4" cy="414.7" r="1.38" fill="#ff0700"/>
<circle cx="192.3" cy="410.7" r="1.38" fill="#ff1100"/>
<circle cx="193.7" cy="406.6" r="1.38" fill="#ff1a00"/>
<circle cx="194.5" cy="402.3" r="1.38" fill="#ff2300"/>
<circle cx="194.8" cy="397.9" r="1.38" fill="#ff2c00"/>
<circle cx="199.2" cy="396.3" r="1.38" fill="#ff6a00"/>
<circle cx="198.8" cy="392.0" r="1.38" fill="#ff6a00"/>
<circle cx="197.9" cy="387.8" r="1.38" fill="#ff6a00"/>
<circle cx="196.6" cy="383.7" r="1.38" fill="#ff6a00"/>
<circle cx="194.8" cy="379.8" r="1.38" fill="#ff6a00"/>
<circle cx="192.6" cy="376.0" r="1.38" fill="#ff6a00"/>
<circle cx="190.0" cy="372.6" r="1.38" fill="#ff6a00"/>
<circle cx="187.1" cy="369.4" r="1.38" fill="#ff6b00"/>
<circle cx="183.8" cy="366.6" r="1.38" fill="#ff6e00"/>
<circle cx="180.2" cy="364.2" r="1.38" fill="#ff7100"/>
<circle cx="176.4" cy="362.2" r="1.38" fill="#ff7400"/>
<circle cx="172.4" cy="360.6" r="1.38" fill="#ff7700"/>
<circle cx="168.2" cy="359.4" r="1.38" fill="#ff7a00"/>
<circle cx="164.0" cy="358.8" r="1.38" fill="#ff7d00"/>
<circle cx="159.7" cy="358.6" r="1.38" fill="#ff8000"/>
<circle cx="155.3" cy="358.9" r="1.38" fill="#ff7c00"/>
<circle cx="151.1" cy="359.6" r="1.38" fill="#ff7800"/>
<circle cx="147.0" cy="360.8" r="1.38" fill="#ff7400"/>
<circle cx="143.0" cy="362.5" r="1.38" fill="#ff7000"/>
<circle cx="139.2" cy="364.6" r="1.38" fill="#ff6c00"/>
<circle cx="135.7" cy="367.0" r="1.38" fill="#ff6900"/>
<circle cx="132.4" cy="369.9" r="1.38" fill="#ff6500"/>
<circle cx="129.5" cy="373.1" r="1.38" fill="#ff6c00"/>
<circle cx="127.0" cy="376.6" r="1.38" fill="#ff7400"/>
<circle cx="124.9" cy="380.4" r="1.38" fill="#ff7c00"/>
<circle cx="123.2" cy="384.3" r="1.38" fill="#ff8400"/>
<circle cx="121.9" cy="388.5" r="1.38" fill="#ff8c00"/>
<circle cx="121.1" cy="392.7" r="1.38" fill="#ff9400"/>
<circle cx="120.8" cy="397.0" r="1.38" fill="#ff9c00"/>
<circle cx="121.0" cy="401.3" r="1.38" fill="#ff9700"/>
<circle cx="121.6" cy="405.6" r="1.38" fill="#ff8e00"/>
<circle cx="122.7" cy="409.8" r="1.38" fill="#ff8600"/>
<circle cx="124.3" cy="413.8" r="1.38" fill="#ff7e00"/>
<circle cx="126.2" cy="417.6" r="1.38" fill="#ff7500"/>
<circle cx="128.6" cy="421.2" r="1.38" fill="#ff6d00"/>
<circle cx="131.4" cy="424.5" r="1.38" fill="#ff6500"/>
<circle cx="134.5" cy="427.5" r="1.38" fill="#ff6600"/>
<circle cx="138.0" cy="430.1" r="1.38" fill="#ff6b00"/>
<circle cx="141.7" cy="432.4" r="1.38" fill="#ff7000"/>
<circle cx="145.6" cy="434.2" r="1.38" fill="#ff7600"/>
<circle cx="149.7" cy="435.5" r="1.38" fill="#ff7b00"/>
<circle cx="153.9" cy="436.4" r="1.38" fill="#ff8000"/>
<circle cx="158.2" cy="436.9" r="1.38" fill="#ff8600"/>
<circle cx="162.5" cy="436.8" r="1.38" fill="#ff7f00"/>
<circle cx="166.8" cy="436.3" r="1.38" fill="#ff6f00"/>
<circle cx="171.0" cy="435.4" r="1.38" fill="#ff6000"/>
<circle cx="175.1" cy="433.9" r="1.38" fill="#ff5000"/>
<circle cx="178.9" cy="432.0" r="1.38" fill="#ff4100"/>
<circle cx="182.6" cy="429.7" r="1.38" fill="#ff3100"/>
<circle cx="186.0" cy="427.1" r="1.38" fill="#ff2100"/>
<circle cx="189.1" cy="424.0" r="1.38" fill="#ff1e00"/>
<circle cx="191.8" cy="420.7" r="1.38" fill="#ff2900"/>
<circle cx="194.1" cy="417.0" r="1.38" fill="#ff3500"/>
<circle cx="196.0" cy="413.2" r="1.38" fill="#ff4000"/>
<circle cx="197.5" cy="409.1" r="1.38" fill="#ff4c00"/>
<circle cx="198.5" cy="404.9" r="1.38" fill="#ff5700"/>
<circle cx="199.1" cy="400.6" r="1.38" fill="#ff6200"/>
<circle cx="203.4" cy="394.7" r="1.38" fill="#ff8000"/>
<circle cx="202.9" cy="390.4" r="1.38" fill="#ff8500"/>
<circle cx="202.0" cy="386.2" r="1.38" fill="#ff8b00"/>
<circle cx="200.6" cy="382.0" r="1.38" fill="#ff9000"/>
<circle cx="198.8" cy="378.1" r="1.38" fill="#ff9500"/>
<circle cx="196.7" cy="374.3" r="1.38" fill="#ff9b00"/>
<circle cx="194.2" cy="370.8" r="1.38" fill="#ffa000"/>
<circle cx="191.3" cy="367.5" r="1.38" fill="#ffa600"/>
<circle cx="188.1" cy="364.5" r="1.38" fill="#ffa700"/>
<circle cx="184.7" cy="361.9" r="1.38" fill="#ffa700"/>
<circle cx="181.0" cy="359.6" r="1.38" fill="#ffa800"/>
<circle cx="177.1" cy="357.7" r="1.38" fill="#ffa800"/>
<circle cx="173.0" cy="356.2" r="1.38" fill="#ffa900"/>
<circle cx="168.8" cy="355.1" r="1.38" fill="#ffa900"/>
<circle cx="164.6" cy="354.5" r="1.38" fill="#ffaa00"/>
<circle cx="160.2" cy="354.2" r="1.38" fill="#ffaa00"/>
<circle cx="155.9" cy="354.4" r="1.38" fill="#ffa700"/>
<circle cx="151.6" cy="355.0" r="1.38" fill="#ffa500"/>
<circle cx="147.4" cy="356.1" r="1.38" fill="#ffa200"/>
<circle cx="143.3" cy="357.6" r="1.38" fill="#ff9f00"/>
<circle cx="139.4" cy="359.4" r="1.38" fill="#ff9d00"/>
<circle cx="135.7" cy="361.7" r="1.38" fill="#ff9a00"/>
<circle cx="132.2" cy="364.3" r="1.38" fill="#ff9700"/>
<circle cx="129.0" cy="367.2" r="1.38" fill="#ff9500"/>
<circle cx="126.1" cy="370.4" r="1.38" fill="#ff9e00"/>
<circle cx="123.6" cy="374.0" r="1.38" fill="#ffa700"/>
<circle cx="121.4" cy="377.7" r="1.38" fill="#ffaf00"/>
<circle cx="119.6" cy="381.6" r="1.38" fill="#ffb800"/>
<circle cx="118.2" cy="385.8" r="1.38" fill="#ffc100"/>
<circle cx="117.2" cy="390.0" r="1.38" fill="#ffca00"/>
<circle cx="116.6" cy="394.3" r="1.38" fill="#ffd200"/>
<circle cx="116.5" cy="398.6" r="1.38" fill="#ffd900"/>
<circle cx="116.8" cy="402.9" r="1.38" fill="#ffd400"/>
<circle cx="117.5" cy="407.2" r="1.38" fill="#ffd000"/>
<circle cx="118.7" cy="411.4" r="1.38" fill="#ffcb00"/>
<circle cx="120.2" cy="415.5" r="1.38" fill="#ffc700"/>
<circle cx="122.2" cy="419.3" r="1.38" fill="#ffc200"/>
<circle cx="124.5" cy="423.0" r="1.38" fill="#ffbe00"/>
<circle cx="127.2" cy="426.4" r="1.38" fill="#ffb900"/>
<circle cx="130.2" cy="429.5" r="1.38" fill="#ffb700"/>
<circle cx="133.5" cy="432.3" r="1.38" fill="#ffbb00"/>
<circle cx="137.1" cy="434.8" r="1.38" fill="#ffbf00"/>
<circle cx="140.9" cy="436.9" r="1.38" fill="#ffc400"/>
<circle cx="144.9" cy="438.6" r="1.38" fill="#ffc800"/>
<circle cx="149.0" cy="439.9" r="1.38" fill="#ffcc00"/>
<circle cx="153.3" cy="440.8" r="1.38" fill="#ffd000"/>
<circle cx="157.6" cy="441.2" r="1.38" fill="#ffd400"/>
<circle cx="162.0" cy="441.2" r="1.38" fill="#ffcf00"/>
<circle cx="166.3" cy="440.8" r="1.38" fill="#ffbe00"/>
<circle cx="170.5" cy="440.0" r="1.38" fill="#ffae00"/>
<circle cx="174.7" cy="438.7" r="1.38" fill="#ff9d00"/>
<circle cx="178.7" cy="437.1" r="1.38" fill="#ff8d00"/>
<circle cx="182.5" cy="435.0" r="1.38" fill="#ff7d00"/>
<circle cx="186.1" cy="432.6" r="1.38" fill="#ff6c00"/>
<circle cx="189.4" cy="429.8" r="1.38" fill="#ff5c00"/>
<circle cx="192.5" cy="426.7" r="1.38" fill="#ff5800"/>
<circle cx="195.2" cy="423.3" r="1.38" fill="#ff5d00"/>
<circle cx="197.6" cy="419.7" r="1.38" fill="#ff6200"/>
<circle cx="199.6" cy="415.9" r="1.38" fill="#ff6700"/>
<circle cx="201.2" cy="411.8" r="1.38" fill="#ff6c00"/>
<circle cx="202.4" cy="407.6" r="1.38" fill="#ff7100"/>
<circle cx="203.2" cy="403.4" r="1.38" fill="#ff7500"/>
<circle cx="203.5" cy="399.1" r="1.38" fill="#ff7a00"/>
<circle cx="207.9" cy="397.4" r="1.38" fill="#ffc800"/>
<circle cx="207.7" cy="393.1" r="1.38" fill="#ffce00"/>
<circle cx="207.0" cy="388.8" r="1.38" fill="#ffd400"/>
<circle cx="206.0" cy="384.5" r="1.38" fill="#ffda00"/>
<circle cx="204.6" cy="380.4" r="1.38" fill="#ffe000"/>
<circle cx="202.9" cy="376.4" r="1.38" fill="#ffe500"/>
<circle cx="200.8" cy="372.6" r="1.38" fill="#ffeb00"/>
<circle cx="198.3" cy="369.0" r="1.38" fill="#fff100"/>
<circle cx="195.5" cy="365.6" r="1.38" fill="#fff700"/>
<circle cx="192.5" cy="362.5" r="1.38" fill="#fffc00"/>
<circle cx="189.1" cy="359.7" r="1.38" fill="#ffff00"/>
<circle cx="185.5" cy="357.3" r="1.38" fill="#fdff02"/>
<circle cx="181.8" cy="355.1" r="1.38" fill="#faff05"/>
<circle cx="177.8" cy="353.3" r="1.38" fill="#f7ff08"/>
<circle cx="173.7" cy="351.9" r="1.38" fill="#f4ff0b"/>
<circle cx="169.4" cy="350.8" r="1.38" fill="#f2ff0d"/>
<circle cx="165.1" cy="350.1" r="1.38" fill="#efff10"/>
<circle cx="160.8" cy="349.9" r="1.38" fill="#ecff13"/>
<circle cx="156.4" cy="350.0" r="1.38" fill="#f6ff09"/>
<circle cx="152.1" cy="350.5" r="1.38" fill="#fffc00"/>
<circle cx="147.8" cy="351.4" r="1.38" fill="#fff000"/>
<circle cx="143.7" cy="352.7" r="1.38" fill="#ffe300"/>
<circle cx="139.7" cy="354.4" r="1.38" fill="#ffd700"/>
<circle cx="135.8" cy="356.4" r="1.38" fill="#ffca00"/>
<circle cx="132.1" cy="358.8" r="1.38" fill="#ffbe00"/>
<circle cx="128.7" cy="361.5" r="1.38" fill="#ffb200"/>
<circle cx="125.5" cy="364.5" r="1.38" fill="#ffa900"/>
<circle cx="122.7" cy="367.8" r="1.38" fill="#ffb200"/>
<circle cx="120.1" cy="371.3" r="1.38" fill="#ffbb00"/>
<circle cx="117.9" cy="375.0" r="1.38" fill="#ffc400"/>
<circle cx="116.0" cy="379.0" r="1.38" fill="#ffcd00"/>
<circle cx="114.4" cy="383.0" r="1.38" fill="#ffd600"/>
<circle cx="113.3" cy="387.2" r="1.38" fill="#ffde00"/>
<circle cx="112.5" cy="391.5" r="1.38" fill="#ffe700"/>
<circle cx="112.2" cy="395.9" r="1.38" fill="#fff000"/>
<circle cx="112.2" cy="400.2" r="1.38" fill="#fff700"/>
<circle cx="112.6" cy="404.6" r="1.38" fill="#fffb00"/>
<circle cx="113.4" cy="408.9" r="1.38" fill="#feff01"/>
<circle cx="114.6" cy="413.0" r="1.38" fill="#f9ff06"/>
<circle cx="116.2" cy="417.1" r="1.38" fill="#f4ff0b"/>
<circle cx="118.1" cy="421.0" r="1.38" fill="#efff10"/>
<circle cx="120.4" cy="424.7" r="1.38" fill="#ebff14"/>
<circle cx="123.1" cy="428.2" r="1.38" fill="#e6ff19"/>
<circle cx="126.0" cy="431.4" r="1.38" fill="#e1ff1e"/>
<circle cx="129.2" cy="434.4" r="1.38" fill="#e0ff1f"/>
<circle cx="132.6" cy="437.0" r="1.38" fill="#dfff20"/>
<circle cx="136.3" cy="439.4" r="1.38" fill="#deff21"/>
<circle cx="140.2" cy="441.3" r="1.38" fill="#deff21"/>
<circle cx="144.3" cy="443.0" r="1.38" fill="#ddff22"/>
<circle cx="148.4" cy="444.2" r="1.38" fill="#dcff23"/>
<circle cx="152.7" cy="445.1" r="1.38" fill="#dbff24"/>
<circle cx="157.0" cy="445.5" r="1.38" fill="#dbff24"/>
<circle cx="161.4" cy="445.6" r="1.38" fill="#dfff20"/>
<circle cx="165.7" cy="445.3" r="1.38" fill="#eeff11"/>
<circle cx="170.0" cy="444.6" r="1.38" fill="#feff01"/>
<circle cx="174.3" cy="443.5" r="1.38" fill="#fff100"/>
<circle cx="178.4" cy="442.0" r="1.38" fill="#ffe100"/>
<circle cx="182.3" cy="440.1" r="1.38" fill="#ffd200"/>
<circle cx="186.1" cy="437.9" r="1.38" fill="#ffc300"/>
<circle cx="189.6" cy="435.4" r="1.38" fill="#ffb300"/>
<circle cx="192.9" cy="432.5" r="1.38" fill="#ffa400"/>
<circle cx="195.9" cy="429.4" r="1.38" fill="#ffa300"/>
<circle cx="198.7" cy="426.0" r="1.38" fill="#ffa700"/>
<circle cx="201.1" cy="422.4" r="1.38" fill="#ffac00"/>
<circle cx="203.1" cy="418.5" r="1.38" fill="#ffb100"/>
<circle cx="204.8" cy="414.5" r="1.38" fill="#ffb500"/>
<circle cx="206.2" cy="410.4" r="1.38" fill="#ffba00"/>
<circle cx="207.1" cy="406.1" r="1.38" fill="#ffbf00"/>
<circle cx="207.7" cy="401.8" r="1.38" fill="#ffc300"/>
<circle cx="212.2" cy="395.8" r="1.38" fill="#daff25"/>
<circle cx="211.9" cy="391.5" r="1.38" fill="#d5ff2a"/>
<circle cx="211.1" cy="387.1" r="1.38" fill="#cfff30"/>
<circle cx="210.1" cy="382.9" r="1.38" fill="#caff35"/>
<circle cx="208.7" cy="378.8" r="1.38" fill="#c4ff3b"/>
<circle cx="206.9" cy="374.8" r="1.38" fill="#bfff40"/>
<circle cx="204.8" cy="370.9" r="1.38" fill="#b9ff46"/>
<circle cx="202.4" cy="367.3" r="1.38" fill="#b4ff4b"/>
<circle cx="199.7" cy="363.8" r="1.38" fill="#afff50"/>
<circle cx="196.7" cy="360.6" r="1.38" fill="#a9ff56"/>
<circle cx="193.5" cy="357.7" r="1.38" fill="#a4ff5b"/>
<circle cx="190.0" cy="355.0" r="1.38" fill="#9fff60"/>
<circle cx="186.3" cy="352.6" r="1.38" fill="#9aff65"/>
<circle cx="182.5" cy="350.6" r="1.38" fill="#95ff6a"/>
<circle cx="178.5" cy="348.9" r="1.38" fill="#90ff6f"/>
<circle cx="174.3" cy="347.5" r="1.38" fill="#8aff75"/>
<circle cx="170.0" cy="346.5" r="1.38" fill="#85ff7a"/>
<circle cx="165.7" cy="345.8" r="1.38" fill="#80ff7f"/>
<circle cx="161.4" cy="345.5" r="1.38" fill="#7bff84"/>
<circle cx="157.0" cy="345.6" r="1.38" fill="#89ff76"/>
<circle cx="152.6" cy="346.0" r="1.38" fill="#a0ff5f"/>
<circle cx="148.3" cy="346.8" r="1.38" fill="#b6ff49"/>
<circle cx="144.1" cy="348.0" r="1.38" fill="#cdff32"/>
<circle cx="140.0" cy="349.5" r="1.38" fill="#e3ff1c"/>
<circle cx="136.0" cy="351.3" r="1.38" fill="#faff05"/>
<circle cx="132.2" cy="353.5" r="1.38" fill="#ffee00"/>
<circle cx="128.6" cy="356.0" r="1.38" fill="#ffd700"/>
<circle cx="125.2" cy="358.8" r="1.38" fill="#ffc100"/>
<circle cx="122.1" cy="361.8" r="1.38" fill="#ffb400"/>
<circle cx="119.2" cy="365.1" r="1.38" fill="#ffbd00"/>
<circle cx="116.6" cy="368.6" r="1.38" fill="#ffc600"/>
<circle cx="114.4" cy="372.4" r="1.38" fill="#ffcf00"/>
<circle cx="112.4" cy="376.3" r="1.38" fill="#ffd800"/>
<circle cx="110.8" cy="380.3" r="1.38" fill="#ffe100"/>
<circle cx="109.5" cy="384.5" r="1.38" fill="#ffea00"/>
<circle cx="108.5" cy="388.8" r="1.38" fill="#fff300"/>
<circle cx="108.0" cy="393.1" r="1.38" fill="#fffc00"/>
<circle cx="107.8" cy="397.5" r="1.38" fill="#f9ff06"/>
<circle cx="107.9" cy="401.9" r="1.38" fill="#ecff13"/>
<circle cx="108.5" cy="406.2" r="1.38" fill="#dfff20"/>
<circle cx="109.3" cy="410.5" r="1.38" fill="#d2ff2d"/>
<circle cx="110.6" cy="414.7" r="1.38" fill="#c5ff3a"/>
<circle cx="112.2" cy="418.8" r="1.38" fill="#b7ff48"/>
<circle cx="114.1" cy="422.7" r="1.38" fill="#aaff55"/>
<circle cx="116.3" cy="426.4" r="1.38" fill="#9dff62"/>
<circle cx="118.9" cy="430.0" r="1.38" fill="#90ff6f"/>
<circle cx="121.7" cy="433.3" r="1.38" fill="#82ff7d"/>
<circle cx="124.9" cy="436.4" r="1.38" fill="#7eff81"/>
<circle cx="128.2" cy="439.2" r="1.38" fill="#82ff7d"/>
<circle cx="131.8" cy="441.7" r="1.38" fill="#85ff7a"/>
<circle cx="135.6" cy="443.9" r="1.38" fill="#88ff77"/>
<circle cx="139.5" cy="445.8" r="1.38" fill="#8cff73"/>
<circle cx="143.6" cy="447.3" r="1.38" fill="#8fff70"/>
<circle cx="147.8" cy="448.5" r="1.38" fill="#92ff6d"/>
<circle cx="152.1" cy="449.4" r="1.38" fill="#96ff69"/>
<circle cx="156.5" cy="449.9" r="1.38" fill="#99ff66"/>
<circle cx="160.8" cy="450.0" r="1.38" fill="#9eff61"/>
<circle cx="165.2" cy="449.7" r="1.38" fill="#abff54"/>
<circle cx="169.5" cy="449.1" r="1.38" fill="#b9ff46"/>
<circle cx="173.8" cy="448.1" r="1.38" fill="#c6ff39"/>
<circle cx="178.0" cy="446.8" r="1.38" fill="#d3ff2c"/>
<circle cx="182.0" cy="445.1" r="1.38" fill="#e0ff1f"/>
<circle cx="185.9" cy="443.1" r="1.38" fill="#edff12"/>
<circle cx="189.6" cy="440.8" r="1.38" fill="#faff05"/>
<circle cx="193.1" cy="438.2" r="1.38" fill="#fff600"/>
<circle cx="196.4" cy="435.3" r="1.38" fill="#ffe900"/>
<circle cx="199.4" cy="432.1" r="1.38" fill="#ffec00"/>
<circle cx="202.1" cy="428.7" r="1.38" fill="#fff200"/>
<circle cx="204.5" cy="425.0" r="1.38" fill="#fff800"/>
<circle cx="206.7" cy="421.2" r="1.38" fill="#ffff00"/>
<circle cx="208.5" cy="417.2" r="1.38" fill="#f9ff06"/>
<circle cx="209.9" cy="413.1" r="1.38" fill="#f3ff0c"/>
<circle cx="211.0" cy="408.9" r="1.38" fill="#edff12"/>
<circle cx="211.8" cy="404.6" r="1.38" fill="#e6ff19"/>
<circle cx="212.2" cy="400.2" r="1.38" fill="#e0ff1f"/>
<circle cx="216.5" cy="394.2" r="1.38" fill="#7eff81"/>
<circle cx="216.0" cy="389.9" r="1.38" fill="#79ff86"/>
<circle cx="215.3" cy="385.7" r="1.38" fill="#75ff8a"/>
<circle cx="214.2" cy="381.5" r="1.38" fill="#70ff8f"/>
<circle cx="212.8" cy="377.4" r="1.38" fill="#6bff94"/>
<circle cx="211.1" cy="373.4" r="1.38" fill="#66ff99"/>
<circle cx="209.1" cy="369.5" r="1.38" fill="#61ff9e"/>
<circle cx="206.8" cy="365.9" r="1.38" fill="#5cffa3"/>
<circle cx="204.2" cy="362.4" r="1.38" fill="#57ffa8"/>
<circle cx="201.3" cy="359.1" r="1.38" fill="#52ffad"/>
<circle cx="198.3" cy="356.1" r="1.38" fill="#4fffb0"/>
<circle cx="195.0" cy="353.2" r="1.38" fill="#4dffb2"/>
<circle cx="191.4" cy="350.7" r="1.38" fill="#4bffb4"/>
<circle cx="187.8" cy="348.4" r="1.38" fill="#49ffb6"/>
<circle cx="183.9" cy="346.5" r="1.38" fill="#47ffb8"/>
<circle cx="179.9" cy="344.8" r="1.38" fill="#46ffb9"/>
<circle cx="175.8" cy="343.4" r="1.38" fill="#44ffbb"/>
<circle cx="171.6" cy="342.4" r="1.38" fill="#42ffbd"/>
<circle cx="167.3" cy="341.6" r="1.38" fill="#40ffbf"/>
<circle cx="163.0" cy="341.2" r="1.38" fill="#3fffc0"/>
<circle cx="158.7" cy="341.2" r="1.38" fill="#46ffb9"/>
<circle cx="154.3" cy="341.4" r="1.38" fill="#62ff9d"/>
<circle cx="150.0" cy="342.0" r="1.38" fill="#7dff82"/>
<circle cx="145.8" cy="343.0" r="1.38" fill="#99ff66"/>
<circle cx="141.6" cy="344.2" r="1.38" fill="#b5ff4a"/>
<circle cx="137.6" cy="345.8" r="1.38" fill="#d0ff2f"/>
<circle cx="133.7" cy="347.6" r="1.38" fill="#ecff13"/>
<circle cx="129.9" cy="349.8" r="1.38" fill="#fff700"/>
<circle cx="126.4" cy="352.3" r="1.38" fill="#ffdb00"/>
<circle cx="123.0" cy="355.0" r="1.38" fill="#ffbf00"/>
<circle cx="119.8" cy="357.9" r="1.38" fill="#ffa600"/>
<circle cx="116.9" cy="361.1" r="1.38" fill="#ffb000"/>
<circle cx="114.2" cy="364.5" r="1.38" fill="#ffbb00"/>
<circle cx="111.8" cy="368.1" r="1.38" fill="#ffc600"/>
<circle cx="109.7" cy="371.9" r="1.38" fill="#ffd000"/>
<circle cx="107.8" cy="375.8" r="1.38" fill="#ffdb00"/>
<circle cx="106.3" cy="379.9" r="1.38" fill="#ffe500"/>
<circle cx="105.1" cy="384.1" r="1.38" fill="#fff000"/>
<circle cx="104.2" cy="388.3" r="1.38" fill="#fffa00"/>
<circle cx="103.6" cy="392.6" r="1.38" fill="#f9ff06"/>
<circle cx="103.4" cy="396.9" r="1.38" fill="#efff10"/>
<circle cx="103.5" cy="401.3" r="1.38" fill="#e1ff1e"/>
<circle cx="104.0" cy="405.6" r="1.38" fill="#d4ff2b"/>
<circle cx="104.7" cy="409.8" r="1.38" fill="#c6ff39"/>
<circle cx="105.8" cy="414.0" r="1.38" fill="#b8ff47"/>
<circle cx="107.2" cy="418.1" r="1.38" fill="#aaff55"/>
<circle cx="108.9" cy="422.1" r="1.38" fill="#9cff63"/>
<circle cx="110.9" cy="426.0" r="1.38" fill="#8eff71"/>
<circle cx="113.2" cy="429.6" r="1.38" fill="#80ff7f"/>
<circle cx="115.8" cy="433.1" r="1.38" fill="#72ff8d"/>
<circle cx="118.7" cy="436.4" r="1.38" fill="#65ff9a"/>
<circle cx="121.7" cy="439.4" r="1.38" fill="#66ff99"/>
<circle cx="125.0" cy="442.3" r="1.38" fill="#74ff8b"/>
<circle cx="128.6" cy="444.8" r="1.38" fill="#81ff7e"/>
<circle cx="132.2" cy="447.1" r="1.38" fill="#8fff70"/>
<circle cx="136.1" cy="449.0" r="1.38" fill="#9cff63"/>
<circle cx="140.1" cy="450.7" r="1.38" fill="#aaff55"/>
<circle cx="144.2" cy="452.1" r="1.38" fill="#b8ff47"/>
<circle cx="148.4" cy="453.1" r="1.38" fill="#c5ff3a"/>
<circle cx="152.7" cy="453.9" r="1.38" fill="#d3ff2c"/>
<circle cx="157.0" cy="454.3" r="1.38" fill="#e0ff1f"/>
<circle cx="161.3" cy="454.3" r="1.38" fill="#ebff14"/>
<circle cx="165.7" cy="454.1" r="1.38" fill="#eeff11"/>
<circle cx="170.0" cy="453.5" r="1.38" fill="#f1ff0e"/>
<circle cx="174.2" cy="452.5" r="1.38" fill="#f5ff0a"/>
<circle cx="178.4" cy="451.3" r="1.38" fill="#f8ff07"/>
<circle cx="182.4" cy="449.7" r="1.38" fill="#fbff04"/>
<circle cx="186.3" cy="447.9" r="1.38" fill="#feff01"/>
<circle cx="190.1" cy="445.7" r="1.38" fill="#fffc00"/>
<circle cx="193.6" cy="443.2" r="1.38" fill="#fff900"/>
<circle cx="197.0" cy="440.5" r="1.38" fill="#fff600"/>
<circle cx="200.2" cy="437.6" r="1.38" fill="#fff400"/>
<circle cx="203.1" cy="434.4" r="1.38" fill="#fdff02"/>
<circle cx="205.8" cy="431.0" r="1.38" fill="#f0ff0f"/>
<circle cx="208.2" cy="427.4" r="1.38" fill="#e2ff1d"/>
<circle cx="210.3" cy="423.6" r="1.38" fill="#d5ff2a"/>
<circle cx="212.2" cy="419.7" r="1.38" fill="#c8ff37"/>
<circle cx="213.7" cy="415.6" r="1.38" fill="#baff45"/>
<circle cx="214.9" cy="411.4" r="1.38" fill="#adff52"/>
<circle cx="215.8" cy="407.2" r="1.38" fill="#a0ff5f"/>
<circle cx="216.4" cy="402.9" r="1.38" fill="#92ff6d"/>
<circle cx="216.6" cy="398.6" r="1.38" fill="#85ff7a"/>
<circle cx="220.9" cy="397.0" r="1.38" fill="#40ffbf"/>
<circle cx="220.7" cy="392.6" r="1.38" fill="#3cffc3"/>
<circle cx="220.2" cy="388.3" r="1.38" fill="#38ffc7"/>
<circle cx="219.4" cy="384.0" r="1.38" fill="#34ffcb"/>
<circle cx="218.2" cy="379.8" r="1.38" fill="#30ffcf"/>
<circle cx="216.8" cy="375.7" r="1.38" fill="#2cffd3"/>
<circle cx="215.1" cy="371.7" r="1.38" fill="#28ffd7"/>
<circle cx="213.1" cy="367.9" r="1.38" fill="#24ffdb"/>
<circle cx="210.8" cy="364.1" r="1.38" fill="#20ffdf"/>
<circle cx="208.3" cy="360.6" r="1.38" fill="#1cffe3"/>
<circle cx="205.5" cy="357.3" r="1.38" fill="#18ffe7"/>
<circle cx="202.5" cy="354.1" r="1.38" fill="#15ffea"/>
<circle cx="199.3" cy="351.2" r="1.38" fill="#1affe5"/>
<circle cx="195.9" cy="348.5" r="1.38" fill="#1effe1"/>
<circle cx="192.3" cy="346.1" r="1.38" fill="#23ffdc"/>
<circle cx="188.5" cy="343.9" r="1.38" fill="#27ffd8"/>
<circle cx="184.6" cy="342.0" r="1.38" fill="#2bffd4"/>
<circle cx="180.6" cy="340.4" r="1.38" fill="#30ffcf"/>
<circle cx="176.4" cy="339.1" r="1.38" fill="#34ffcb"/>
<circle cx="172.2" cy="338.0" r="1.38" fill="#38ffc7"/>
<circle cx="167.9" cy="337.3" r="1.38" fill="#3dffc2"/>
<circle cx="163.6" cy="336.9" r="1.38" fill="#41ffbe"/>
<circle cx="159.2" cy="336.8" r="1.38" fill="#49ffb6"/>
<circle cx="154.9" cy="337.0" r="1.38" fill="#62ff9d"/>
<circle cx="150.6" cy="337.5" r="1.38" fill="#7aff85"/>
<circle cx="146.3" cy="338.4" r="1.38" fill="#92ff6d"/>
<circle cx="142.1" cy="339.5" r="1.38" fill="#abff54"/>
<circle cx="138.0" cy="340.9" r="1.38" fill="#c3ff3c"/>
<circle cx="134.0" cy="342.6" r="1.38" fill="#dcff23"/>
<circle cx="130.1" cy="344.6" r="1.38" fill="#f4ff0b"/>
<circle cx="126.4" cy="346.9" r="1.38" fill="#fff100"/>
<circle cx="122.9" cy="349.4" r="1.38" fill="#ffd900"/>
<circle cx="119.5" cy="352.2" r="1.38" fill="#ffc100"/>
<circle cx="116.4" cy="355.2" r="1.38" fill="#ffae00"/>
<circle cx="113.4" cy="358.4" r="1.38" fill="#ffb900"/>
<circle cx="110.7" cy="361.9" r="1.38" fill="#ffc300"/>
<circle cx="108.3" cy="365.5" r="1.38" fill="#ffcd00"/>
<circle cx="106.1" cy="369.2" r="1.38" fill="#ffd700"/>
<circle cx="104.2" cy="373.1" r="1.38" fill="#ffe200"/>
<circle cx="102.6" cy="377.2" r="1.38" fill="#ffec00"/>
<circle cx="101.3" cy="381.3" r="1.38" fill="#fff600"/>
<circle cx="100.3" cy="385.6" r="1.38" fill="#feff01"/>
<circle cx="99.6" cy="389.9" r="1.38" fill="#f3ff0c"/>
<circle cx="99.2" cy="394.2" r="1.38" fill="#e9ff16"/>
<circle cx="99.1" cy="398.5" r="1.38" fill="#deff21"/>
<circle cx="99.3" cy="402.9" r="1.38" fill="#d2ff2d"/>
<circle cx="99.8" cy="407.2" r="1.38" fill="#c5ff3a"/>
<circle cx="100.6" cy="411.5" r="1.38" fill="#b8ff47"/>
<circle cx="101.8" cy="415.7" r="1.38" fill="#abff54"/>
<circle cx="103.2" cy="419.8" r="1.38" fill="#9eff61"/>
<circle cx="104.9" cy="423.8" r="1.38" fill="#91ff6e"/>
<circle cx="106.9" cy="427.6" r="1.38" fill="#85ff7a"/>
<circle cx="109.2" cy="431.4" r="1.38" fill="#78ff87"/>
<circle cx="111.7" cy="434.9" r="1.38" fill="#6bff94"/>
<circle cx="114.5" cy="438.2" r="1.38" fill="#5effa1"/>
<circle cx="117.5" cy="441.4" r="1.38" fill="#57ffa8"/>
<circle cx="120.7" cy="444.3" r="1.38" fill="#6bff94"/>
<circle cx="124.1" cy="447.0" r="1.38" fill="#7fff80"/>
<circle cx="127.7" cy="449.4" r="1.38" fill="#93ff6c"/>
<circle cx="131.5" cy="451.6" r="1.38" fill="#a7ff58"/>
<circle cx="135.4" cy="453.5" r="1.38" fill="#bbff44"/>
<circle cx="139.4" cy="455.1" r="1.38" fill="#ceff31"/>
<circle cx="143.6" cy="456.4" r="1.38" fill="#e2ff1d"/>
<circle cx="147.8" cy="457.5" r="1.38" fill="#f6ff09"/>
<circle cx="152.1" cy="458.2" r="1.38" fill="#fff400"/>
<circle cx="156.4" cy="458.6" r="1.38" fill="#ffe000"/>
<circle cx="160.8" cy="458.7" r="1.38" fill="#ffd000"/>
<circle cx="165.1" cy="458.5" r="1.38" fill="#ffd100"/>
<circle cx="169.4" cy="458.0" r="1.38" fill="#ffd300"/>
<circle cx="173.7" cy="457.1" r="1.38" fill="#ffd400"/>
<circle cx="177.9" cy="456.0" r="1.38" fill="#ffd500"/>
<circle cx="182.0" cy="454.6" r="1.38" fill="#ffd600"/>
<circle cx="186.0" cy="452.9" r="1.38" fill="#ffd700"/>
<circle cx="189.9" cy="450.9" r="1.38" fill="#ffd900"/>
<circle cx="193.6" cy="448.6" r="1.38" fill="#ffda00"/>
<circle cx="197.1" cy="446.1" r="1.38" fill="#ffdb00"/>
<circle cx="200.5" cy="443.3" r="1.38" fill="#ffdc00"/>
<circle cx="203.6" cy="440.3" r="1.38" fill="#ffe100"/>
<circle cx="206.6" cy="437.1" r="1.38" fill="#fff500"/>
<circle cx="209.3" cy="433.6" r="1.38" fill="#f4ff0b"/>
<circle cx="211.7" cy="430.0" r="1.38" fill="#e0ff1f"/>
<circle cx="213.9" cy="426.3" r="1.38" fill="#ccff33"/>
<circle cx="215.8" cy="422.4" r="1.38" fill="#b7ff48"/>
<circle cx="217.4" cy="418.3" r="1.38" fill="#a3ff5c"/>
<circle cx="218.7" cy="414.2" r="1.38" fill="#8eff71"/>
<circle cx="219.7" cy="409.9" r="1.38" fill="#7aff85"/>
<circle cx="220.4" cy="405.6" r="1.38" fill="#66ff99"/>
<circle cx="220.8" cy="401.3" r="1.38" fill="#51ffae"/>
<circle cx="225.2" cy="395.4" r="1.38" fill="#21ffde"/>
<circle cx="224.9" cy="391.0" r="1.38" fill="#1fffe0"/>
<circle cx="224.3" cy="386.7" r="1.38" fill="#1dffe2"/>
<circle cx="223.5" cy="382.4" r="1.38" fill="#1bffe4"/>
<circle cx="222.3" cy="378.2" r="1.38" fill="#19ffe6"/>
<circle cx="220.9" cy="374.1" r="1.38" fill="#16ffe9"/>
<circle cx="219.1" cy="370.1" r="1.38" fill="#14ffeb"/>
<circle cx="217.2" cy="366.2" r="1.38" fill="#12ffed"/>
<circle cx="214.9" cy="362.4" r="1.38" fill="#10ffef"/>
<circle cx="212.4" cy="358.8" r="1.38" fill="#0efff1"/>
<circle cx="209.7" cy="355.4" r="1.38" fill="#0bfff4"/>
<circle cx="206.8" cy="352.2" r="1.38" fill="#09fff6"/>
<circle cx="203.6" cy="349.2" r="1.38" fill="#14ffeb"/>
<circle cx="200.3" cy="346.4" r="1.38" fill="#22ffdd"/>
<circle cx="196.8" cy="343.8" r="1.38" fill="#31ffce"/>
<circle cx="193.1" cy="341.5" r="1.38" fill="#3fffc0"/>
<circle cx="189.3" cy="339.4" r="1.38" fill="#4dffb2"/>
<circle cx="185.3" cy="337.6" r="1.38" fill="#5cffa3"/>
<circle cx="181.2" cy="336.0" r="1.38" fill="#6aff95"/>
<circle cx="177.0" cy="334.7" r="1.38" fill="#78ff87"/>
<circle cx="172.8" cy="333.7" r="1.38" fill="#87ff78"/>
<circle cx="168.5" cy="333.0" r="1.38" fill="#95ff6a"/>
<circle cx="164.1" cy="332.6" r="1.38" fill="#a3ff5c"/>
<circle cx="159.8" cy="332.5" r="1.38" fill="#b1ff4e"/>
<circle cx="155.4" cy="332.6" r="1.38" fill="#bcff43"/>
<circle cx="151.1" cy="333.1" r="1.38" fill="#c6ff39"/>
<circle cx="146.8" cy="333.8" r="1.38" fill="#d1ff2e"/>
<circle cx="142.5" cy="334.8" r="1.38" fill="#dcff23"/>
<circle cx="138.4" cy="336.1" r="1.38" fill="#e6ff19"/>
<circle cx="134.3" cy="337.7" r="1.38" fill="#f1ff0e"/>
<circle cx="130.4" cy="339.6" r="1.38" fill="#fcff03"/>
<circle cx="126.5" cy="341.7" r="1.38" fill="#fff800"/>
<circle cx="122.9" cy="344.0" r="1.38" fill="#ffed00"/>
<circle cx="119.4" cy="346.6" r="1.38" fill="#ffe300"/>
<circle cx="116.0" cy="349.5" r="1.38" fill="#ffd800"/>
<circle cx="112.9" cy="352.5" r="1.38" fill="#ffd300"/>
<circle cx="110.0" cy="355.8" r="1.38" fill="#ffda00"/>
<circle cx="107.3" cy="359.2" r="1.38" fill="#ffe200"/>
<circle cx="104.8" cy="362.8" r="1.38" fill="#ffe900"/>
<circle cx="102.6" cy="366.6" r="1.38" fill="#fff100"/>
<circle cx="100.7" cy="370.5" r="1.38" fill="#fff900"/>
<circle cx="99.0" cy="374.5" r="1.38" fill="#feff01"/>
<circle cx="97.6" cy="378.6" r="1.38" fill="#f6ff09"/>
<circle cx="96.4" cy="382.8" r="1.38" fill="#efff10"/>
<circle cx="95.6" cy="387.1" r="1.38" fill="#e7ff18"/>
<circle cx="95.0" cy="391.4" r="1.38" fill="#e0ff1f"/>
<circle cx="94.7" cy="395.8" r="1.38" fill="#d8ff27"/>
<circle cx="94.8" cy="400.1" r="1.38" fill="#d0ff2f"/>
<circle cx="95.1" cy="404.5" r="1.38" fill="#c6ff39"/>
<circle cx="95.7" cy="408.8" r="1.38" fill="#bdff42"/>
<circle cx="96.5" cy="413.1" r="1.38" fill="#b3ff4c"/>
<circle cx="97.7" cy="417.3" r="1.38" fill="#aaff55"/>
<circle cx="99.1" cy="421.4" r="1.38" fill="#a0ff5f"/>
<circle cx="100.9" cy="425.4" r="1.38" fill="#97ff68"/>
<circle cx="102.8" cy="429.3" r="1.38" fill="#8dff72"/>
<circle cx="105.1" cy="433.1" r="1.38" fill="#84ff7b"/>
<circle cx="107.6" cy="436.7" r="1.38" fill="#7aff85"/>
<circle cx="110.3" cy="440.1" r="1.38" fill="#71ff8e"/>
<circle cx="113.2" cy="443.3" r="1.38" fill="#68ff97"/>
<circle cx="116.4" cy="446.3" r="1.38" fill="#77ff88"/>
<circle cx="119.7" cy="449.1" r="1.38" fill="#8dff72"/>
<circle cx="123.2" cy="451.7" r="1.38" fill="#a2ff5d"/>
<circle cx="126.9" cy="454.0" r="1.38" fill="#b8ff47"/>
<circle cx="130.7" cy="456.1" r="1.38" fill="#ceff31"/>
<circle cx="134.7" cy="457.9" r="1.38" fill="#e3ff1c"/>
<circle cx="138.8" cy="459.5" r="1.38" fill="#f9ff06"/>
<circle cx="143.0" cy="460.8" r="1.38" fill="#ffef00"/>
<circle cx="147.2" cy="461.8" r="1.38" fill="#ffda00"/>
<circle cx="151.5" cy="462.5" r="1.38" fill="#ffc400"/>
<circle cx="155.9" cy="462.9" r="1.38" fill="#ffae00"/>
<circle cx="160.2" cy="463.0" r="1.38" fill="#ff9a00"/>
<circle cx="164.6" cy="462.9" r="1.38" fill="#ff9900"/>
<circle cx="168.9" cy="462.4" r="1.38" fill="#ff9900"/>
<circle cx="173.2" cy="461.7" r="1.38" fill="#ff9900"/>
<circle cx="177.5" cy="460.7" r="1.38" fill="#ff9800"/>
<circle cx="181.6" cy="459.4" r="1.38" fill="#ff9800"/>
<circle cx="185.7" cy="457.8" r="1.38" fill="#ff9700"/>
<circle cx="189.6" cy="455.9" r="1.38" fill="#ff9700"/>
<circle cx="193.5" cy="453.8" r="1.38" fill="#ff9700"/>
<circle cx="197.1" cy="451.5" r="1.38" fill="#ff9600"/>
<circle cx="200.6" cy="448.9" r="1.38" fill="#ff9600"/>
<circle cx="204.0" cy="446.0" r="1.38" fill="#ff9500"/>
<circle cx="207.1" cy="443.0" r="1.38" fill="#ff9d00"/>
<circle cx="210.0" cy="439.7" r="1.38" fill="#ffb900"/>
<circle cx="212.7" cy="436.3" r="1.38" fill="#ffd500"/>
<circle cx="215.2" cy="432.7" r="1.38" fill="#fff100"/>
<circle cx="217.4" cy="428.9" r="1.38" fill="#f1ff0e"/>
<circle cx="219.3" cy="425.0" r="1.38" fill="#d6ff29"/>
<circle cx="221.0" cy="421.0" r="1.38" fill="#baff45"/>
<circle cx="222.4" cy="416.9" r="1.38" fill="#9eff61"/>
<circle cx="223.6" cy="412.7" r="1.38" fill="#82ff7d"/>
<circle cx="224.4" cy="408.4" r="1.38" fill="#67ff98"/>
<circle cx="225.0" cy="404.1" r="1.38" fill="#4bffb4"/>
<circle cx="225.3" cy="399.7" r="1.38" fill="#2fffd0"/>
<circle cx="229.5" cy="393.8" r="1.38" fill="#00f6ff"/>
<circle cx="229.2" cy="389.5" r="1.38" fill="#00f5ff"/>
<circle cx="228.5" cy="385.2" r="1.38" fill="#00f4ff"/>
<circle cx="227.6" cy="380.9" r="1.38" fill="#00f3ff"/>
<circle cx="226.4" cy="376.8" r="1.38" fill="#00f2ff"/>
<circle cx="225.0" cy="372.7" r="1.38" fill="#00f1ff"/>
<circle cx="223.3" cy="368.7" r="1.38" fill="#00f0ff"/>
<circle cx="221.4" cy="364.8" r="1.38" fill="#00efff"/>
<circle cx="219.2" cy="361.1" r="1.38" fill="#00eeff"/>
<circle cx="216.8" cy="357.4" r="1.38" fill="#00edff"/>
<circle cx="214.2" cy="354.0" r="1.38" fill="#00edff"/>
<circle cx="211.4" cy="350.7" r="1.38" fill="#00ecff"/>
<circle cx="208.3" cy="347.6" r="1.38" fill="#00f2ff"/>
<circle cx="205.1" cy="344.7" r="1.38" fill="#09fff6"/>
<circle cx="201.7" cy="342.0" r="1.38" fill="#20ffdf"/>
<circle cx="198.2" cy="339.5" r="1.38" fill="#37ffc8"/>
<circle cx="194.5" cy="337.2" r="1.38" fill="#4effb1"/>
<circle cx="190.7" cy="335.2" r="1.38" fill="#65ff9a"/>
<circle cx="186.7" cy="333.4" r="1.38" fill="#7cff83"/>
<circle cx="182.7" cy="331.9" r="1.38" fill="#92ff6d"/>
<circle cx="178.5" cy="330.6" r="1.38" fill="#a9ff56"/>
<circle cx="174.3" cy="329.6" r="1.38" fill="#c0ff3f"/>
<circle cx="170.1" cy="328.8" r="1.38" fill="#d7ff28"/>
<circle cx="165.8" cy="328.3" r="1.38" fill="#eeff11"/>
<circle cx="161.4" cy="328.1" r="1.38" fill="#fffa00"/>
<circle cx="157.1" cy="328.2" r="1.38" fill="#ffef00"/>
<circle cx="152.8" cy="328.5" r="1.38" fill="#ffeb00"/>
<circle cx="148.5" cy="329.1" r="1.38" fill="#ffe600"/>
<circle cx="144.2" cy="329.9" r="1.38" fill="#ffe200"/>
<circle cx="140.0" cy="331.0" r="1.38" fill="#ffdd00"/>
<circle cx="135.9" cy="332.4" r="1.38" fill="#ffd900"/>
<circle cx="131.9" cy="334.0" r="1.38" fill="#ffd400"/>
<circle cx="128.0" cy="335.9" r="1.38" fill="#ffd000"/>
<circle cx="124.2" cy="338.0" r="1.38" fill="#ffcb00"/>
<circle cx="120.6" cy="340.3" r="1.38" fill="#ffc700"/>
<circle cx="117.1" cy="342.9" r="1.38" fill="#ffc200"/>
<circle cx="113.8" cy="345.7" r="1.38" fill="#ffbe00"/>
<circle cx="110.6" cy="348.6" r="1.38" fill="#ffba00"/>
<circle cx="107.7" cy="351.8" r="1.38" fill="#ffc700"/>
<circle cx="104.9" cy="355.1" r="1.38" fill="#ffd500"/>
<circle cx="102.4" cy="358.7" r="1.38" fill="#ffe200"/>
<circle cx="100.0" cy="362.3" r="1.38" fill="#ffef00"/>
<circle cx="98.0" cy="366.1" r="1.38" fill="#fffc00"/>
<circle cx="96.1" cy="370.0" r="1.38" fill="#f5ff0a"/>
<circle cx="94.5" cy="374.1" r="1.38" fill="#e8ff17"/>
<circle cx="93.2" cy="378.2" r="1.38" fill="#dbff24"/>
<circle cx="92.1" cy="382.4" r="1.38" fill="#ceff31"/>
<circle cx="91.2" cy="386.6" r="1.38" fill="#c1ff3e"/>
<circle cx="90.7" cy="390.9" r="1.38" fill="#b3ff4c"/>
<circle cx="90.4" cy="395.2" r="1.38" fill="#a6ff59"/>
<circle cx="90.4" cy="399.6" r="1.38" fill="#9bff64"/>
<circle cx="90.6" cy="403.9" r="1.38" fill="#93ff6c"/>
<circle cx="91.1" cy="408.2" r="1.38" fill="#8bff74"/>
<circle cx="91.9" cy="412.5" r="1.38" fill="#83ff7c"/>
<circle cx="93.0" cy="416.7" r="1.38" fill="#7bff84"/>
<circle cx="94.3" cy="420.8" r="1.38" fill="#73ff8c"/>
<circle cx="95.8" cy="424.8" r="1.38" fill="#6bff94"/>
<circle cx="97.6" cy="428.8" r="1.38" fill="#63ff9c"/>
<circle cx="99.7" cy="432.6" r="1.38" fill="#5bffa4"/>
<circle cx="102.0" cy="436.3" r="1.38" fill="#53ffac"/>
<circle cx="104.5" cy="439.8" r="1.38" fill="#4bffb4"/>
<circle cx="107.2" cy="443.2" r="1.38" fill="#42ffbd"/>
<circle cx="110.1" cy="446.4" r="1.38" fill="#3affc5"/>
<circle cx="113.2" cy="449.4" r="1.38" fill="#48ffb7"/>
<circle cx="116.5" cy="452.2" r="1.38" fill="#5bffa4"/>
<circle cx="120.0" cy="454.8" r="1.38" fill="#6eff91"/>
<circle cx="123.6" cy="457.2" r="1.38" fill="#81ff7e"/>
<circle cx="127.4" cy="459.3" r="1.38" fill="#94ff6b"/>
<circle cx="131.3" cy="461.2" r="1.38" fill="#a7ff58"/>
<circle cx="135.3" cy="462.9" r="1.38" fill="#baff45"/>
<circle cx="139.4" cy="464.3" r="1.38" fill="#cdff32"/>
<circle cx="143.6" cy="465.4" r="1.38" fill="#e0ff1f"/>
<circle cx="147.8" cy="466.3" r="1.38" fill="#f3ff0c"/>
<circle cx="152.1" cy="466.9" r="1.38" fill="#fff800"/>
<circle cx="156.4" cy="467.3" r="1.38" fill="#ffe500"/>
<circle cx="160.7" cy="467.4" r="1.38" fill="#ffd500"/>
<circle cx="165.1" cy="467.2" r="1.38" fill="#ffd100"/>
<circle cx="169.4" cy="466.8" r="1.38" fill="#ffce00"/>
<circle cx="173.6" cy="466.0" r="1.38" fill="#ffca00"/>
<circle cx="177.9" cy="465.1" r="1.38" fill="#ffc700"/>
<circle cx="182.0" cy="463.8" r="1.38" fill="#ffc300"/>
<circle cx="186.1" cy="462.3" r="1.38" fill="#ffc000"/>
<circle cx="190.0" cy="460.6" r="1.38" fill="#ffbc00"/>
<circle cx="193.9" cy="458.6" r="1.38" fill="#ffb900"/>
<circle cx="197.6" cy="456.4" r="1.38" fill="#ffb500"/>
<circle cx="201.2" cy="453.9" r="1.38" fill="#ffb200"/>
<circle cx="204.6" cy="451.2" r="1.38" fill="#ffaf00"/>
<circle cx="207.8" cy="448.4" r="1.38" fill="#ffab00"/>
<circle cx="210.9" cy="445.3" r="1.38" fill="#ffb900"/>
<circle cx="213.7" cy="442.0" r="1.38" fill="#ffd400"/>
<circle cx="216.4" cy="438.6" r="1.38" fill="#fff000"/>
<circle cx="218.8" cy="435.0" r="1.38" fill="#f3ff0c"/>
<circle cx="221.0" cy="431.3" r="1.38" fill="#d7ff28"/>
<circle cx="223.0" cy="427.4" r="1.38" fill="#bbff44"/>
<circle cx="224.7" cy="423.5" r="1.38" fill="#a0ff5f"/>
<circle cx="226.2" cy="419.4" r="1.38" fill="#84ff7b"/>
<circle cx="227.4" cy="415.2" r="1.38" fill="#69ff96"/>
<circle cx="228.4" cy="411.0" r="1.38" fill="#4dffb2"/>
<circle cx="229.1" cy="406.7" r="1.38" fill="#31ffce"/>
<circle cx="229.5" cy="402.4" r="1.38" fill="#16ffe9"/>
<circle cx="229.6" cy="398.1" r="1.38" fill="#00f9ff"/>
<circle cx="234.0" cy="396.5" r="1.38" fill="#00d1ff"/>
<circle cx="233.8" cy="392.1" r="1.38" fill="#00d1ff"/>
<circle cx="233.3" cy="387.8" r="1.38" fill="#00d1ff"/>
<circle cx="232.6" cy="383.5" r="1.38" fill="#00d1ff"/>
<circle cx="231.7" cy="379.3" r="1.38" fill="#00d1ff"/>
<circle cx="230.5" cy="375.1" r="1.38" fill="#00d1ff"/>
<circle cx="229.0" cy="371.0" r="1.38" fill="#00d1ff"/>
<circle cx="227.3" cy="367.0" r="1.38" fill="#00d1ff"/>
<circle cx="225.4" cy="363.1" r="1.38" fill="#00d1ff"/>
<circle cx="223.3" cy="359.4" r="1.38" fill="#00d1ff"/>
<circle cx="220.9" cy="355.7" r="1.38" fill="#00d1ff"/>
<circle cx="218.3" cy="352.2" r="1.38" fill="#00d1ff"/>
<circle cx="215.6" cy="348.9" r="1.38" fill="#00d1ff"/>
<circle cx="212.6" cy="345.7" r="1.38" fill="#00d1ff"/>
<circle cx="209.4" cy="342.7" r="1.38" fill="#00e7ff"/>
<circle cx="206.1" cy="339.9" r="1.38" fill="#01fffe"/>
<circle cx="202.6" cy="337.3" r="1.38" fill="#19ffe6"/>
<circle cx="199.0" cy="334.9" r="1.38" fill="#32ffcd"/>
<circle cx="195.3" cy="332.7" r="1.38" fill="#4affb5"/>
<circle cx="191.4" cy="330.7" r="1.38" fill="#62ff9d"/>
<circle cx="187.4" cy="329.0" r="1.38" fill="#7bff84"/>
<circle cx="183.3" cy="327.5" r="1.38" fill="#93ff6c"/>
<circle cx="179.2" cy="326.3" r="1.38" fill="#acff53"/>
<circle cx="174.9" cy="325.3" r="1.38" fill="#c4ff3b"/>
<circle cx="170.7" cy="324.5" r="1.38" fill="#dcff23"/>
<circle cx="166.3" cy="324.0" r="1.38" fill="#f5ff0a"/>
<circle cx="162.0" cy="323.8" r="1.38" fill="#fff100"/>
<circle cx="157.7" cy="323.8" r="1.38" fill="#ffe100"/>
<circle cx="153.3" cy="324.1" r="1.38" fill="#ffd900"/>
<circle cx="149.0" cy="324.6" r="1.38" fill="#ffd000"/>
<circle cx="144.7" cy="325.3" r="1.38" fill="#ffc800"/>
<circle cx="140.5" cy="326.4" r="1.38" fill="#ffbf00"/>
<circle cx="136.3" cy="327.6" r="1.38" fill="#ffb700"/>
<circle cx="132.3" cy="329.1" r="1.38" fill="#ffaf00"/>
<circle cx="128.3" cy="330.9" r="1.38" fill="#ffa600"/>
<circle cx="124.4" cy="332.9" r="1.38" fill="#ff9e00"/>
<circle cx="120.7" cy="335.1" r="1.38" fill="#ff9500"/>
<circle cx="117.1" cy="337.5" r="1.38" fill="#ff8d00"/>
<circle cx="113.6" cy="340.1" r="1.38" fill="#ff8500"/>
<circle cx="110.3" cy="342.9" r="1.38" fill="#ff7c00"/>
<circle cx="107.2" cy="345.9" r="1.38" fill="#ff7900"/>
<circle cx="104.2" cy="349.1" r="1.38" fill="#ff8e00"/>
<circle cx="101.5" cy="352.5" r="1.38" fill="#ffa400"/>
<circle cx="98.9" cy="356.0" r="1.38" fill="#ffb900"/>
<circle cx="96.6" cy="359.7" r="1.38" fill="#ffce00"/>
<circle cx="94.4" cy="363.4" r="1.38" fill="#ffe400"/>
<circle cx="92.5" cy="367.3" r="1.38" fill="#fff900"/>
<circle cx="90.9" cy="371.4" r="1.38" fill="#f0ff0f"/>
<circle cx="89.4" cy="375.5" r="1.38" fill="#daff25"/>
<circle cx="88.2" cy="379.6" r="1.38" fill="#c5ff3a"/>
<circle cx="87.3" cy="383.9" r="1.38" fill="#b0ff4f"/>
<circle cx="86.6" cy="388.2" r="1.38" fill="#9aff65"/>
<circle cx="86.2" cy="392.5" r="1.38" fill="#85ff7a"/>
<circle cx="86.0" cy="396.8" r="1.38" fill="#70ff8f"/>
<circle cx="86.1" cy="401.2" r="1.38" fill="#65ff9a"/>
<circle cx="86.4" cy="405.5" r="1.38" fill="#5dffa2"/>
<circle cx="87.0" cy="409.8" r="1.38" fill="#56ffa9"/>
<circle cx="87.8" cy="414.1" r="1.38" fill="#4effb1"/>
<circle cx="88.9" cy="418.3" r="1.38" fill="#47ffb8"/>
<circle cx="90.2" cy="422.4" r="1.38" fill="#3fffc0"/>
<circle cx="91.8" cy="426.5" r="1.38" fill="#37ffc8"/>
<circle cx="93.6" cy="430.4" r="1.38" fill="#30ffcf"/>
<circle cx="95.6" cy="434.3" r="1.38" fill="#28ffd7"/>
<circle cx="97.9" cy="438.0" r="1.38" fill="#20ffdf"/>
<circle cx="100.4" cy="441.6" r="1.38" fill="#19ffe6"/>
<circle cx="103.0" cy="445.0" r="1.38" fill="#11ffee"/>
<circle cx="105.9" cy="448.2" r="1.38" fill="#0afff5"/>
<circle cx="109.0" cy="451.3" r="1.38" fill="#09fff6"/>
<circle cx="112.2" cy="454.2" r="1.38" fill="#12ffed"/>
<circle cx="115.6" cy="456.9" r="1.38" fill="#1bffe4"/>
<circle cx="119.1" cy="459.5" r="1.38" fill="#24ffdb"/>
<circle cx="122.8" cy="461.7" r="1.38" fill="#2effd1"/>
<circle cx="126.7" cy="463.8" r="1.38" fill="#37ffc8"/>
<circle cx="130.6" cy="465.7" r="1.38" fill="#40ffbf"/>
<circle cx="134.6" cy="467.3" r="1.38" fill="#49ffb6"/>
<circle cx="138.8" cy="468.6" r="1.38" fill="#52ffad"/>
<circle cx="142.9" cy="469.8" r="1.38" fill="#5bffa4"/>
<circle cx="147.2" cy="470.6" r="1.38" fill="#64ff9b"/>
<circle cx="151.5" cy="471.3" r="1.38" fill="#6eff91"/>
<circle cx="155.8" cy="471.6" r="1.38" fill="#77ff88"/>
<circle cx="160.2" cy="471.7" r="1.38" fill="#7fff80"/>
<circle cx="164.5" cy="471.6" r="1.38" fill="#76ff89"/>
<circle cx="168.8" cy="471.2" r="1.38" fill="#6dff92"/>
<circle cx="173.1" cy="470.6" r="1.38" fill="#64ff9b"/>
<circle cx="177.4" cy="469.7" r="1.38" fill="#5bffa4"/>
<circle cx="181.6" cy="468.5" r="1.38" fill="#51ffae"/>
<circle cx="185.7" cy="467.1" r="1.38" fill="#48ffb7"/>
<circle cx="189.7" cy="465.5" r="1.38" fill="#3fffc0"/>
<circle cx="193.7" cy="463.7" r="1.38" fill="#36ffc9"/>
<circle cx="197.5" cy="461.6" r="1.38" fill="#2dffd2"/>
<circle cx="201.1" cy="459.3" r="1.38" fill="#24ffdb"/>
<circle cx="204.7" cy="456.7" r="1.38" fill="#1affe5"/>
<circle cx="208.1" cy="454.0" r="1.38" fill="#11ffee"/>
<circle cx="211.3" cy="451.1" r="1.38" fill="#08fff7"/>
<circle cx="214.3" cy="448.0" r="1.38" fill="#03fffc"/>
<circle cx="217.2" cy="444.7" r="1.38" fill="#00feff"/>
<circle cx="219.8" cy="441.3" r="1.38" fill="#00faff"/>
<circle cx="222.3" cy="437.7" r="1.38" fill="#00f6ff"/>
<circle cx="224.5" cy="434.0" r="1.38" fill="#00f2ff"/>
<circle cx="226.5" cy="430.1" r="1.38" fill="#00eeff"/>
<circle cx="228.3" cy="426.2" r="1.38" fill="#00ebff"/>
<circle cx="229.9" cy="422.1" r="1.38" fill="#00e7ff"/>
<circle cx="231.2" cy="418.0" r="1.38" fill="#00e3ff"/>
<circle cx="232.3" cy="413.7" r="1.38" fill="#00dfff"/>
<circle cx="233.1" cy="409.5" r="1.38" fill="#00dbff"/>
<circle cx="233.6" cy="405.2" r="1.38" fill="#00d8ff"/>
<circle cx="233.9" cy="400.8" r="1.38" fill="#00d4ff"/>
<rect x="49.0" y="287.0" width="222.0" height="221.5" fill="none" stroke="#111" stroke-width="1.8"/>
<text x="44.6" y="331.8" font-size="17" text-anchor="end" textLength="25.64" lengthAdjust="spacingAndGlyphs" font-family="Liberation Sans, sans-serif">1.0</text>
<text x="235.7" y="529.1" font-size="17" text-anchor="middle" textLength="25.64" lengthAdjust="spacingAndGlyphs" font-family="Liberation Sans, sans-serif">1.0</text>
<text x="44.6" y="405.8" font-size="17" text-anchor="end" textLength="25.64" lengthAdjust="spacingAndGlyphs" font-family="Liberation Sans, sans-serif">0.0</text>
<text x="161.7" y="529.1" font-size="17" text-anchor="middle" textLength="25.64" lengthAdjust="spacingAndGlyphs" font-family="Liberation Sans, sans-serif">0.0</text>
<text x="44.6" y="479.8" font-size="17" text-anchor="end" textLength="31.78" lengthAdjust="spacingAndGlyphs" font-family="Liberation Sans, sans-serif">-1.0</text>
<text x="87.7" y="529.1" font-size="17" text-anchor="middle" textLength="31.78" lengthAdjust="spacingAndGlyphs" font-family="Liberation Sans, sans-serif">-1.0</text>
<text x="162.6" y="550.8" font-size="19.5" text-anchor="middle" font-family="Liberation Sans, sans-serif">NA<tspan font-size="13" dy="4">obj</tspan></text>
<text transform="translate(16.8,395.2) rotate(-90)" font-size="19.5" text-anchor="middle" font-family="Liberation Sans, sans-serif">NA<tspan font-size="13" dy="5">obj</tspan></text>
<rect x="279.5" y="287.0" width="17" height="221.5" fill="url(#jetv)"/>
<text x="305.3" y="295.8" font-size="18.2" font-family="Liberation Sans, sans-serif">1</text>
<line x1="294.5" y1="397.8" x2="296.5" y2="397.8" stroke="#333" stroke-width="0.9"/>
<text x="298.1" y="404.6" font-size="18.2" font-family="Liberation Sans, sans-serif">0.5</text>
<text x="305.3" y="515.7" font-size="18.2" font-family="Liberation Sans, sans-serif">0</text>
<line x1="294.5" y1="342.4" x2="296.5" y2="342.4" stroke="#333" stroke-width="0.9"/>
<text x="296.5" y="349.2" font-size="18.2" font-family="Liberation Sans, sans-serif"></text>
<line x1="294.5" y1="453.1" x2="296.5" y2="453.1" stroke="#333" stroke-width="0.9"/>
<text x="296.5" y="459.9" font-size="18.2" font-family="Liberation Sans, sans-serif"></text>
<text x="401.5" y="268.0" font-size="23" font-family="Liberation Sans, sans-serif">(c)</text>
<line x1="442.6" y1="285.0" x2="442.6" y2="506.5" stroke="#d8d8d8" stroke-width="1" stroke-dasharray="5 4"/>
<line x1="405.6" y1="469.8" x2="627.6" y2="469.8" stroke="#d8d8d8" stroke-width="1" stroke-dasharray="5 4"/>
<line x1="479.6" y1="285.0" x2="479.6" y2="506.5" stroke="#d8d8d8" stroke-width="1" stroke-dasharray="5 4"/>
<line x1="405.6" y1="432.8" x2="627.6" y2="432.8" stroke="#d8d8d8" stroke-width="1" stroke-dasharray="5 4"/>
<line x1="516.6" y1="285.0" x2="516.6" y2="506.5" stroke="#d8d8d8" stroke-width="1" stroke-dasharray="5 4"/>
<line x1="405.6" y1="395.8" x2="627.6" y2="395.8" stroke="#d8d8d8" stroke-width="1" stroke-dasharray="5 4"/>
<line x1="553.6" y1="285.0" x2="553.6" y2="506.5" stroke="#d8d8d8" stroke-width="1" stroke-dasharray="5 4"/>
<line x1="405.6" y1="358.8" x2="627.6" y2="358.8" stroke="#d8d8d8" stroke-width="1" stroke-dasharray="5 4"/>
<line x1="590.6" y1="285.0" x2="590.6" y2="506.5" stroke="#d8d8d8" stroke-width="1" stroke-dasharray="5 4"/>
<line x1="405.6" y1="321.8" x2="627.6" y2="321.8" stroke="#d8d8d8" stroke-width="1" stroke-dasharray="5 4"/>
<circle cx="516.6" cy="395.8" r="1.38" fill="#0005ff"/>
<circle cx="520.6" cy="394.1" r="1.38" fill="#0007ff"/>
<circle cx="517.2" cy="391.4" r="1.38" fill="#0007ff"/>
<circle cx="513.2" cy="393.1" r="1.38" fill="#0007ff"/>
<circle cx="512.6" cy="397.4" r="1.38" fill="#0007ff"/>
<circle cx="516.0" cy="400.1" r="1.38" fill="#0007ff"/>
<circle cx="520.0" cy="398.4" r="1.38" fill="#0007ff"/>
<circle cx="524.8" cy="392.7" r="1.38" fill="#000aff"/>
<circle cx="522.4" cy="389.3" r="1.38" fill="#000aff"/>
<circle cx="518.7" cy="387.3" r="1.38" fill="#000aff"/>
<circle cx="514.6" cy="387.3" r="1.38" fill="#000aff"/>
<circle cx="510.9" cy="389.2" r="1.38" fill="#000aff"/>
<circle cx="508.5" cy="392.6" r="1.38" fill="#000aff"/>
<circle cx="508.0" cy="396.8" r="1.38" fill="#000aff"/>
<circle cx="509.4" cy="400.7" r="1.38" fill="#000aff"/>
<circle cx="512.5" cy="403.4" r="1.38" fill="#000aff"/>
<circle cx="516.6" cy="404.5" r="1.38" fill="#000aff"/>
<circle cx="520.6" cy="403.5" r="1.38" fill="#000aff"/>
<circle cx="523.7" cy="400.7" r="1.38" fill="#000aff"/>
<circle cx="525.2" cy="396.8" r="1.38" fill="#000aff"/>
<circle cx="529.7" cy="395.3" r="1.38" fill="#000cff"/>
<circle cx="528.8" cy="391.1" r="1.38" fill="#000cff"/>
<circle cx="526.6" cy="387.4" r="1.38" fill="#000cff"/>
<circle cx="523.3" cy="384.6" r="1.38" fill="#000cff"/>
<circle cx="519.3" cy="383.0" r="1.38" fill="#000cff"/>
<circle cx="515.0" cy="382.8" r="1.38" fill="#000cff"/>
<circle cx="510.9" cy="384.0" r="1.38" fill="#000cff"/>
<circle cx="507.4" cy="386.5" r="1.38" fill="#000cff"/>
<circle cx="504.9" cy="390.0" r="1.38" fill="#000cff"/>
<circle cx="503.6" cy="394.1" r="1.38" fill="#000cff"/>
<circle cx="503.8" cy="398.4" r="1.38" fill="#000cff"/>
<circle cx="505.3" cy="402.4" r="1.38" fill="#000cff"/>
<circle cx="508.1" cy="405.7" r="1.38" fill="#000cff"/>
<circle cx="511.8" cy="407.9" r="1.38" fill="#000cff"/>
<circle cx="516.0" cy="408.8" r="1.38" fill="#000cff"/>
<circle cx="520.3" cy="408.3" r="1.38" fill="#000cff"/>
<circle cx="524.1" cy="406.4" r="1.38" fill="#000cff"/>
<circle cx="527.2" cy="403.4" r="1.38" fill="#000cff"/>
<circle cx="529.1" cy="399.5" r="1.38" fill="#000cff"/>
<circle cx="533.9" cy="393.7" r="1.38" fill="#000fff"/>
<circle cx="532.8" cy="389.4" r="1.38" fill="#000fff"/>
<circle cx="530.7" cy="385.6" r="1.38" fill="#000fff"/>
<circle cx="527.8" cy="382.4" r="1.38" fill="#000fff"/>
<circle cx="524.1" cy="380.0" r="1.38" fill="#000fff"/>
<circle cx="519.9" cy="378.7" r="1.38" fill="#000fff"/>
<circle cx="515.6" cy="378.4" r="1.38" fill="#000fff"/>
<circle cx="511.3" cy="379.2" r="1.38" fill="#000fff"/>
<circle cx="507.3" cy="381.0" r="1.38" fill="#000fff"/>
<circle cx="504.0" cy="383.8" r="1.38" fill="#000fff"/>
<circle cx="501.4" cy="387.3" r="1.38" fill="#000fff"/>
<circle cx="499.8" cy="391.3" r="1.38" fill="#000fff"/>
<circle cx="499.2" cy="395.7" r="1.38" fill="#000fff"/>
<circle cx="499.7" cy="400.0" r="1.38" fill="#000fff"/>
<circle cx="501.3" cy="404.1" r="1.38" fill="#000fff"/>
<circle cx="503.8" cy="407.6" r="1.38" fill="#000fff"/>
<circle cx="507.2" cy="410.4" r="1.38" fill="#000fff"/>
<circle cx="511.1" cy="412.3" r="1.38" fill="#000fff"/>
<circle cx="515.4" cy="413.1" r="1.38" fill="#000fff"/>
<circle cx="519.8" cy="412.9" r="1.38" fill="#000fff"/>
<circle cx="523.9" cy="411.5" r="1.38" fill="#000fff"/>
<circle cx="527.6" cy="409.2" r="1.38" fill="#000fff"/>
<circle cx="530.6" cy="406.1" r="1.38" fill="#000fff"/>
<circle cx="532.8" cy="402.2" r="1.38" fill="#000fff"/>
<circle cx="533.9" cy="398.0" r="1.38" fill="#000fff"/>
<circle cx="538.0" cy="392.0" r="1.38" fill="#0011ff"/>
<circle cx="536.9" cy="387.8" r="1.38" fill="#0011ff"/>
<circle cx="534.8" cy="383.9" r="1.38" fill="#0011ff"/>
<circle cx="532.1" cy="380.4" r="1.38" fill="#0011ff"/>
<circle cx="528.7" cy="377.6" r="1.38" fill="#0011ff"/>
<circle cx="524.8" cy="375.6" r="1.38" fill="#0011ff"/>
<circle cx="520.5" cy="374.3" r="1.38" fill="#0011ff"/>
<circle cx="516.2" cy="374.0" r="1.38" fill="#0011ff"/>
<circle cx="511.8" cy="374.5" r="1.38" fill="#0011ff"/>
<circle cx="507.6" cy="375.9" r="1.38" fill="#0011ff"/>
<circle cx="503.8" cy="378.1" r="1.38" fill="#0011ff"/>
<circle cx="500.5" cy="381.1" r="1.38" fill="#0011ff"/>
<circle cx="497.9" cy="384.6" r="1.38" fill="#0011ff"/>
<circle cx="496.0" cy="388.6" r="1.38" fill="#0011ff"/>
<circle cx="495.0" cy="392.9" r="1.38" fill="#0011ff"/>
<circle cx="494.9" cy="397.3" r="1.38" fill="#0011ff"/>
<circle cx="495.6" cy="401.6" r="1.38" fill="#0011ff"/>
<circle cx="497.3" cy="405.7" r="1.38" fill="#0011ff"/>
<circle cx="499.7" cy="409.4" r="1.38" fill="#0011ff"/>
<circle cx="502.8" cy="412.5" r="1.38" fill="#0011ff"/>
<circle cx="506.4" cy="415.0" r="1.38" fill="#0011ff"/>
<circle cx="510.5" cy="416.6" r="1.38" fill="#0011ff"/>
<circle cx="514.8" cy="417.4" r="1.38" fill="#0011ff"/>
<circle cx="519.2" cy="417.4" r="1.38" fill="#0011ff"/>
<circle cx="523.5" cy="416.4" r="1.38" fill="#0011ff"/>
<circle cx="527.5" cy="414.6" r="1.38" fill="#0011ff"/>
<circle cx="531.1" cy="412.0" r="1.38" fill="#0011ff"/>
<circle cx="534.1" cy="408.7" r="1.38" fill="#0011ff"/>
<circle cx="536.3" cy="404.9" r="1.38" fill="#0011ff"/>
<circle cx="537.8" cy="400.8" r="1.38" fill="#0011ff"/>
<circle cx="538.4" cy="396.4" r="1.38" fill="#0011ff"/>
<circle cx="542.7" cy="394.8" r="1.38" fill="#0014ff"/>
<circle cx="542.2" cy="390.5" r="1.38" fill="#0014ff"/>
<circle cx="541.0" cy="386.4" r="1.38" fill="#0014ff"/>
<circle cx="539.1" cy="382.5" r="1.38" fill="#0014ff"/>
<circle cx="536.6" cy="379.0" r="1.38" fill="#0014ff"/>
<circle cx="533.6" cy="375.9" r="1.38" fill="#0014ff"/>
<circle cx="530.1" cy="373.4" r="1.38" fill="#0014ff"/>
<circle cx="526.2" cy="371.5" r="1.38" fill="#0014ff"/>
<circle cx="522.1" cy="370.2" r="1.38" fill="#0014ff"/>
<circle cx="517.8" cy="369.7" r="1.38" fill="#0014ff"/>
<circle cx="513.5" cy="369.8" r="1.38" fill="#0014ff"/>
<circle cx="509.3" cy="370.7" r="1.38" fill="#0014ff"/>
<circle cx="505.2" cy="372.2" r="1.38" fill="#0014ff"/>
<circle cx="501.5" cy="374.4" r="1.38" fill="#0014ff"/>
<circle cx="498.2" cy="377.2" r="1.38" fill="#0014ff"/>
<circle cx="495.4" cy="380.5" r="1.38" fill="#0014ff"/>
<circle cx="493.2" cy="384.2" r="1.38" fill="#0014ff"/>
<circle cx="491.6" cy="388.2" r="1.38" fill="#0014ff"/>
<circle cx="490.7" cy="392.4" r="1.38" fill="#0014ff"/>
<circle cx="490.5" cy="396.7" r="1.38" fill="#0014ff"/>
<circle cx="491.0" cy="401.0" r="1.38" fill="#0014ff"/>
<circle cx="492.2" cy="405.1" r="1.38" fill="#0014ff"/>
<circle cx="494.1" cy="409.0" r="1.38" fill="#0014ff"/>
<circle cx="496.6" cy="412.5" r="1.38" fill="#0014ff"/>
<circle cx="499.6" cy="415.6" r="1.38" fill="#0014ff"/>
<circle cx="503.1" cy="418.1" r="1.38" fill="#0014ff"/>
<circle cx="507.0" cy="420.0" r="1.38" fill="#0014ff"/>
<circle cx="511.1" cy="421.3" r="1.38" fill="#0014ff"/>
<circle cx="515.4" cy="421.8" r="1.38" fill="#0014ff"/>
<circle cx="519.7" cy="421.7" r="1.38" fill="#0014ff"/>
<circle cx="523.9" cy="420.8" r="1.38" fill="#0014ff"/>
<circle cx="528.0" cy="419.3" r="1.38" fill="#0014ff"/>
<circle cx="531.7" cy="417.1" r="1.38" fill="#0014ff"/>
<circle cx="535.0" cy="414.3" r="1.38" fill="#0014ff"/>
<circle cx="537.8" cy="411.0" r="1.38" fill="#0014ff"/>
<circle cx="540.0" cy="407.3" r="1.38" fill="#0014ff"/>
<circle cx="541.6" cy="403.3" r="1.38" fill="#0014ff"/>
<circle cx="542.5" cy="399.1" r="1.38" fill="#0014ff"/>
<circle cx="547.0" cy="393.2" r="1.38" fill="#0016ff"/>
<circle cx="546.3" cy="388.9" r="1.38" fill="#0016ff"/>
<circle cx="545.0" cy="384.7" r="1.38" fill="#0016ff"/>
<circle cx="543.2" cy="380.8" r="1.38" fill="#0016ff"/>
<circle cx="540.8" cy="377.2" r="1.38" fill="#0016ff"/>
<circle cx="537.9" cy="373.9" r="1.38" fill="#0016ff"/>
<circle cx="534.5" cy="371.1" r="1.38" fill="#0016ff"/>
<circle cx="530.9" cy="368.8" r="1.38" fill="#0016ff"/>
<circle cx="526.9" cy="367.1" r="1.38" fill="#0016ff"/>
<circle cx="522.7" cy="365.9" r="1.38" fill="#0016ff"/>
<circle cx="518.4" cy="365.3" r="1.38" fill="#0016ff"/>
<circle cx="514.0" cy="365.4" r="1.38" fill="#0016ff"/>
<circle cx="509.7" cy="366.1" r="1.38" fill="#0016ff"/>
<circle cx="505.6" cy="367.3" r="1.38" fill="#0016ff"/>
<circle cx="501.7" cy="369.2" r="1.38" fill="#0016ff"/>
<circle cx="498.0" cy="371.6" r="1.38" fill="#0016ff"/>
<circle cx="494.8" cy="374.5" r="1.38" fill="#0016ff"/>
<circle cx="492.0" cy="377.8" r="1.38" fill="#0016ff"/>
<circle cx="489.7" cy="381.5" r="1.38" fill="#0016ff"/>
<circle cx="487.9" cy="385.5" r="1.38" fill="#0016ff"/>
<circle cx="486.7" cy="389.7" r="1.38" fill="#0016ff"/>
<circle cx="486.2" cy="394.0" r="1.38" fill="#0016ff"/>
<circle cx="486.2" cy="398.3" r="1.38" fill="#0016ff"/>
<circle cx="486.9" cy="402.6" r="1.38" fill="#0016ff"/>
<circle cx="488.2" cy="406.8" r="1.38" fill="#0016ff"/>
<circle cx="490.0" cy="410.7" r="1.38" fill="#0016ff"/>
<circle cx="492.4" cy="414.3" r="1.38" fill="#0016ff"/>
<circle cx="495.3" cy="417.6" r="1.38" fill="#0016ff"/>
<circle cx="498.7" cy="420.4" r="1.38" fill="#0016ff"/>
<circle cx="502.3" cy="422.7" r="1.38" fill="#0016ff"/>
<circle cx="506.3" cy="424.4" r="1.38" fill="#0016ff"/>
<circle cx="510.5" cy="425.6" r="1.38" fill="#0016ff"/>
<circle cx="514.8" cy="426.2" r="1.38" fill="#0016ff"/>
<circle cx="519.2" cy="426.1" r="1.38" fill="#0016ff"/>
<circle cx="523.5" cy="425.4" r="1.38" fill="#0016ff"/>
<circle cx="527.6" cy="424.2" r="1.38" fill="#0016ff"/>
<circle cx="531.5" cy="422.3" r="1.38" fill="#0016ff"/>
<circle cx="535.2" cy="419.9" r="1.38" fill="#0016ff"/>
<circle cx="538.4" cy="417.0" r="1.38" fill="#0016ff"/>
<circle cx="541.2" cy="413.7" r="1.38" fill="#0016ff"/>
<circle cx="543.5" cy="410.0" r="1.38" fill="#0016ff"/>
<circle cx="545.3" cy="406.0" r="1.38" fill="#0016ff"/>
<circle cx="546.5" cy="401.8" r="1.38" fill="#0016ff"/>
<circle cx="547.0" cy="397.5" r="1.38" fill="#0016ff"/>
<circle cx="551.2" cy="391.6" r="1.38" fill="#0018ff"/>
<circle cx="550.4" cy="387.3" r="1.38" fill="#0018ff"/>
<circle cx="549.0" cy="383.1" r="1.38" fill="#0018ff"/>
<circle cx="547.2" cy="379.1" r="1.38" fill="#0018ff"/>
<circle cx="544.9" cy="375.4" r="1.38" fill="#0018ff"/>
<circle cx="542.1" cy="372.0" r="1.38" fill="#0018ff"/>
<circle cx="538.9" cy="369.0" r="1.38" fill="#0018ff"/>
<circle cx="535.4" cy="366.4" r="1.38" fill="#0018ff"/>
<circle cx="531.6" cy="364.3" r="1.38" fill="#0018ff"/>
<circle cx="527.5" cy="362.7" r="1.38" fill="#0018ff"/>
<circle cx="523.3" cy="361.6" r="1.38" fill="#0018ff"/>
<circle cx="519.0" cy="361.0" r="1.38" fill="#0018ff"/>
<circle cx="514.6" cy="361.0" r="1.38" fill="#0018ff"/>
<circle cx="510.2" cy="361.5" r="1.38" fill="#0018ff"/>
<circle cx="506.0" cy="362.6" r="1.38" fill="#0018ff"/>
<circle cx="501.9" cy="364.2" r="1.38" fill="#0018ff"/>
<circle cx="498.1" cy="366.3" r="1.38" fill="#0018ff"/>
<circle cx="494.5" cy="368.8" r="1.38" fill="#0018ff"/>
<circle cx="491.3" cy="371.8" r="1.38" fill="#0018ff"/>
<circle cx="488.5" cy="375.1" r="1.38" fill="#0018ff"/>
<circle cx="486.2" cy="378.8" r="1.38" fill="#0018ff"/>
<circle cx="484.3" cy="382.8" r="1.38" fill="#0018ff"/>
<circle cx="482.9" cy="386.9" r="1.38" fill="#0018ff"/>
<circle cx="482.1" cy="391.2" r="1.38" fill="#0018ff"/>
<circle cx="481.8" cy="395.6" r="1.38" fill="#0018ff"/>
<circle cx="482.0" cy="399.9" r="1.38" fill="#0018ff"/>
<circle cx="482.8" cy="404.2" r="1.38" fill="#0018ff"/>
<circle cx="484.2" cy="408.4" r="1.38" fill="#0018ff"/>
<circle cx="486.0" cy="412.4" r="1.38" fill="#0018ff"/>
<circle cx="488.3" cy="416.1" r="1.38" fill="#0018ff"/>
<circle cx="491.1" cy="419.5" r="1.38" fill="#0018ff"/>
<circle cx="494.3" cy="422.5" r="1.38" fill="#0018ff"/>
<circle cx="497.8" cy="425.1" r="1.38" fill="#0018ff"/>
<circle cx="501.6" cy="427.2" r="1.38" fill="#0018ff"/>
<circle cx="505.7" cy="428.8" r="1.38" fill="#0018ff"/>
<circle cx="509.9" cy="429.9" r="1.38" fill="#0018ff"/>
<circle cx="514.2" cy="430.5" r="1.38" fill="#0018ff"/>
<circle cx="518.6" cy="430.5" r="1.38" fill="#0018ff"/>
<circle cx="523.0" cy="430.0" r="1.38" fill="#0018ff"/>
<circle cx="527.2" cy="428.9" r="1.38" fill="#0018ff"/>
<circle cx="531.3" cy="427.3" r="1.38" fill="#0018ff"/>
<circle cx="535.1" cy="425.2" r="1.38" fill="#0018ff"/>
<circle cx="538.7" cy="422.7" r="1.38" fill="#0018ff"/>
<circle cx="541.9" cy="419.7" r="1.38" fill="#0018ff"/>
<circle cx="544.7" cy="416.4" r="1.38" fill="#0018ff"/>
<circle cx="547.0" cy="412.7" r="1.38" fill="#0018ff"/>
<circle cx="548.9" cy="408.7" r="1.38" fill="#0018ff"/>
<circle cx="550.3" cy="404.6" r="1.38" fill="#0018ff"/>
<circle cx="551.1" cy="400.3" r="1.38" fill="#0018ff"/>
<circle cx="551.4" cy="395.9" r="1.38" fill="#0018ff"/>
<circle cx="555.8" cy="394.3" r="1.38" fill="#0043ff"/>
<circle cx="555.4" cy="390.0" r="1.38" fill="#0043ff"/>
<circle cx="554.5" cy="385.8" r="1.38" fill="#0048ff"/>
<circle cx="553.2" cy="381.7" r="1.38" fill="#004fff"/>
<circle cx="551.4" cy="377.8" r="1.38" fill="#0055ff"/>
<circle cx="549.2" cy="374.0" r="1.38" fill="#005cff"/>
<circle cx="546.6" cy="370.6" r="1.38" fill="#0062ff"/>
<circle cx="543.7" cy="367.4" r="1.38" fill="#0068ff"/>
<circle cx="540.4" cy="364.6" r="1.38" fill="#006bff"/>
<circle cx="536.8" cy="362.2" r="1.38" fill="#006eff"/>
<circle cx="533.0" cy="360.2" r="1.38" fill="#0071ff"/>
<circle cx="529.0" cy="358.6" r="1.38" fill="#0073ff"/>
<circle cx="524.8" cy="357.4" r="1.38" fill="#0073ff"/>
<circle cx="520.6" cy="356.8" r="1.38" fill="#0073ff"/>
<circle cx="516.3" cy="356.6" r="1.38" fill="#0074ff"/>
<circle cx="511.9" cy="356.9" r="1.38" fill="#0070ff"/>
<circle cx="507.7" cy="357.6" r="1.38" fill="#0063ff"/>
<circle cx="503.6" cy="358.8" r="1.38" fill="#0057ff"/>
<circle cx="499.6" cy="360.5" r="1.38" fill="#0055ff"/>
<circle cx="495.8" cy="362.6" r="1.38" fill="#0055ff"/>
<circle cx="492.3" cy="365.0" r="1.38" fill="#0055ff"/>
<circle cx="489.0" cy="367.9" r="1.38" fill="#0055ff"/>
<circle cx="486.1" cy="371.1" r="1.38" fill="#0055ff"/>
<circle cx="483.6" cy="374.6" r="1.38" fill="#0055ff"/>
<circle cx="481.5" cy="378.4" r="1.38" fill="#0055ff"/>
<circle cx="479.8" cy="382.3" r="1.38" fill="#0055ff"/>
<circle cx="478.5" cy="386.5" r="1.38" fill="#0055ff"/>
<circle cx="477.7" cy="390.7" r="1.38" fill="#0055ff"/>
<circle cx="477.4" cy="395.0" r="1.38" fill="#0055ff"/>
<circle cx="477.6" cy="399.3" r="1.38" fill="#0056ff"/>
<circle cx="478.2" cy="403.6" r="1.38" fill="#005dff"/>
<circle cx="479.3" cy="407.8" r="1.38" fill="#0065ff"/>
<circle cx="480.9" cy="411.8" r="1.38" fill="#006aff"/>
<circle cx="482.8" cy="415.6" r="1.38" fill="#006dff"/>
<circle cx="485.2" cy="419.2" r="1.38" fill="#0070ff"/>
<circle cx="488.0" cy="422.5" r="1.38" fill="#0073ff"/>
<circle cx="491.1" cy="425.5" r="1.38" fill="#0071ff"/>
<circle cx="494.6" cy="428.1" r="1.38" fill="#006eff"/>
<circle cx="498.3" cy="430.4" r="1.38" fill="#006bff"/>
<circle cx="502.2" cy="432.2" r="1.38" fill="#0068ff"/>
<circle cx="506.3" cy="433.5" r="1.38" fill="#006bff"/>
<circle cx="510.5" cy="434.4" r="1.38" fill="#0070ff"/>
<circle cx="514.8" cy="434.9" r="1.38" fill="#0073ff"/>
<circle cx="519.1" cy="434.8" r="1.38" fill="#0073ff"/>
<circle cx="523.4" cy="434.3" r="1.38" fill="#0073ff"/>
<circle cx="527.6" cy="433.4" r="1.38" fill="#0073ff"/>
<circle cx="531.7" cy="431.9" r="1.38" fill="#0073ff"/>
<circle cx="535.5" cy="430.0" r="1.38" fill="#0073ff"/>
<circle cx="539.2" cy="427.7" r="1.38" fill="#006bff"/>
<circle cx="542.6" cy="425.1" r="1.38" fill="#0061ff"/>
<circle cx="545.7" cy="422.0" r="1.38" fill="#0057ff"/>
<circle cx="548.4" cy="418.7" r="1.38" fill="#004dff"/>
<circle cx="550.7" cy="415.0" r="1.38" fill="#0043ff"/>
<circle cx="552.6" cy="411.2" r="1.38" fill="#0043ff"/>
<circle cx="554.1" cy="407.1" r="1.38" fill="#0043ff"/>
<circle cx="555.1" cy="402.9" r="1.38" fill="#0043ff"/>
<circle cx="555.7" cy="398.6" r="1.38" fill="#0043ff"/>
<circle cx="560.0" cy="392.7" r="1.38" fill="#009fff"/>
<circle cx="559.5" cy="388.4" r="1.38" fill="#009fff"/>
<circle cx="558.6" cy="384.2" r="1.38" fill="#00a5ff"/>
<circle cx="557.2" cy="380.0" r="1.38" fill="#00abff"/>
<circle cx="555.4" cy="376.1" r="1.38" fill="#00b2ff"/>
<circle cx="553.3" cy="372.3" r="1.38" fill="#00b8ff"/>
<circle cx="550.8" cy="368.8" r="1.38" fill="#00beff"/>
<circle cx="547.9" cy="365.5" r="1.38" fill="#00c4ff"/>
<circle cx="544.7" cy="362.5" r="1.38" fill="#00c9ff"/>
<circle cx="541.3" cy="359.9" r="1.38" fill="#00ceff"/>
<circle cx="537.6" cy="357.6" r="1.38" fill="#00d2ff"/>
<circle cx="533.7" cy="355.7" r="1.38" fill="#00d7ff"/>
<circle cx="529.6" cy="354.2" r="1.38" fill="#00deff"/>
<circle cx="525.4" cy="353.1" r="1.38" fill="#00e6ff"/>
<circle cx="521.2" cy="352.5" r="1.38" fill="#00efff"/>
<circle cx="516.8" cy="352.2" r="1.38" fill="#0cfff3"/>
<circle cx="512.5" cy="352.4" r="1.38" fill="#25ffda"/>
<circle cx="508.2" cy="353.0" r="1.38" fill="#00f3ff"/>
<circle cx="504.0" cy="354.1" r="1.38" fill="#00c2ff"/>
<circle cx="499.9" cy="355.6" r="1.38" fill="#00a6ff"/>
<circle cx="496.0" cy="357.4" r="1.38" fill="#00a6ff"/>
<circle cx="492.3" cy="359.7" r="1.38" fill="#00a6ff"/>
<circle cx="488.8" cy="362.3" r="1.38" fill="#00a6ff"/>
<circle cx="485.6" cy="365.2" r="1.38" fill="#00a6ff"/>
<circle cx="482.7" cy="368.4" r="1.38" fill="#00a6ff"/>
<circle cx="480.2" cy="372.0" r="1.38" fill="#00a6ff"/>
<circle cx="478.0" cy="375.7" r="1.38" fill="#00a6ff"/>
<circle cx="476.2" cy="379.6" r="1.38" fill="#00a6ff"/>
<circle cx="474.8" cy="383.8" r="1.38" fill="#00a7ff"/>
<circle cx="473.8" cy="388.0" r="1.38" fill="#00a7ff"/>
<circle cx="473.2" cy="392.3" r="1.38" fill="#00a9ff"/>
<circle cx="473.1" cy="396.6" r="1.38" fill="#00c3ff"/>
<circle cx="473.4" cy="400.9" r="1.38" fill="#00d8ff"/>
<circle cx="474.1" cy="405.2" r="1.38" fill="#00e1ff"/>
<circle cx="475.3" cy="409.4" r="1.38" fill="#00e9ff"/>
<circle cx="476.8" cy="413.5" r="1.38" fill="#00e9ff"/>
<circle cx="478.8" cy="417.3" r="1.38" fill="#00e5ff"/>
<circle cx="481.1" cy="421.0" r="1.38" fill="#00e1ff"/>
<circle cx="483.8" cy="424.4" r="1.38" fill="#00dcff"/>
<circle cx="486.8" cy="427.5" r="1.38" fill="#00d7ff"/>
<circle cx="490.1" cy="430.3" r="1.38" fill="#00d1ff"/>
<circle cx="493.7" cy="432.8" r="1.38" fill="#00cbff"/>
<circle cx="497.5" cy="434.9" r="1.38" fill="#00c4ff"/>
<circle cx="501.5" cy="436.6" r="1.38" fill="#00beff"/>
<circle cx="505.6" cy="437.9" r="1.38" fill="#00d0ff"/>
<circle cx="509.9" cy="438.8" r="1.38" fill="#00e4ff"/>
<circle cx="514.2" cy="439.2" r="1.38" fill="#00f5ff"/>
<circle cx="518.6" cy="439.2" r="1.38" fill="#02fffd"/>
<circle cx="522.9" cy="438.8" r="1.38" fill="#0efff1"/>
<circle cx="527.1" cy="438.0" r="1.38" fill="#0bfff4"/>
<circle cx="531.3" cy="436.7" r="1.38" fill="#02fffd"/>
<circle cx="535.3" cy="435.1" r="1.38" fill="#00f8ff"/>
<circle cx="539.1" cy="433.0" r="1.38" fill="#00eeff"/>
<circle cx="542.7" cy="430.6" r="1.38" fill="#00deff"/>
<circle cx="546.0" cy="427.8" r="1.38" fill="#00cfff"/>
<circle cx="549.1" cy="424.7" r="1.38" fill="#00bfff"/>
<circle cx="551.8" cy="421.3" r="1.38" fill="#00b0ff"/>
<circle cx="554.2" cy="417.7" r="1.38" fill="#00a0ff"/>
<circle cx="556.2" cy="413.9" r="1.38" fill="#009fff"/>
<circle cx="557.8" cy="409.8" r="1.38" fill="#009fff"/>
<circle cx="559.0" cy="405.6" r="1.38" fill="#009fff"/>
<circle cx="559.8" cy="401.4" r="1.38" fill="#009fff"/>
<circle cx="560.1" cy="397.1" r="1.38" fill="#009fff"/>
<circle cx="564.5" cy="395.4" r="1.38" fill="#00e2ff"/>
<circle cx="564.3" cy="391.1" r="1.38" fill="#00e2ff"/>
<circle cx="563.6" cy="386.8" r="1.38" fill="#00e3ff"/>
<circle cx="562.6" cy="382.5" r="1.38" fill="#00e4ff"/>
<circle cx="561.2" cy="378.4" r="1.38" fill="#00e6ff"/>
<circle cx="559.5" cy="374.4" r="1.38" fill="#00e8ff"/>
<circle cx="557.4" cy="370.6" r="1.38" fill="#00eaff"/>
<circle cx="554.9" cy="367.0" r="1.38" fill="#00ebff"/>
<circle cx="552.1" cy="363.6" r="1.38" fill="#00edff"/>
<circle cx="549.1" cy="360.5" r="1.38" fill="#00faff"/>
<circle cx="545.7" cy="357.7" r="1.38" fill="#18ffe7"/>
<circle cx="542.1" cy="355.3" r="1.38" fill="#34ffcb"/>
<circle cx="538.4" cy="353.1" r="1.38" fill="#50ffaf"/>
<circle cx="534.4" cy="351.3" r="1.38" fill="#6dff92"/>
<circle cx="530.3" cy="349.9" r="1.38" fill="#77ff88"/>
<circle cx="526.0" cy="348.8" r="1.38" fill="#78ff87"/>
<circle cx="521.7" cy="348.1" r="1.38" fill="#78ff87"/>
<circle cx="517.4" cy="347.9" r="1.38" fill="#8dff72"/>
<circle cx="513.0" cy="348.0" r="1.38" fill="#a9ff56"/>
<circle cx="508.7" cy="348.5" r="1.38" fill="#8dff72"/>
<circle cx="504.4" cy="349.4" r="1.38" fill="#69ff96"/>
<circle cx="500.3" cy="350.7" r="1.38" fill="#44ffbb"/>
<circle cx="496.3" cy="352.4" r="1.38" fill="#32ffcd"/>
<circle cx="492.4" cy="354.4" r="1.38" fill="#20ffdf"/>
<circle cx="488.7" cy="356.8" r="1.38" fill="#0efff1"/>
<circle cx="485.3" cy="359.5" r="1.38" fill="#00fbff"/>
<circle cx="482.1" cy="362.5" r="1.38" fill="#00ebff"/>
<circle cx="479.3" cy="365.8" r="1.38" fill="#00e7ff"/>
<circle cx="476.7" cy="369.3" r="1.38" fill="#00e3ff"/>
<circle cx="474.5" cy="373.0" r="1.38" fill="#00dfff"/>
<circle cx="472.6" cy="377.0" r="1.38" fill="#00dbff"/>
<circle cx="471.0" cy="381.0" r="1.38" fill="#00d9ff"/>
<circle cx="469.9" cy="385.2" r="1.38" fill="#00d9ff"/>
<circle cx="469.1" cy="389.5" r="1.38" fill="#00d9ff"/>
<circle cx="468.8" cy="393.9" r="1.38" fill="#00eaff"/>
<circle cx="468.8" cy="398.2" r="1.38" fill="#0bfff4"/>
<circle cx="469.2" cy="402.6" r="1.38" fill="#22ffdd"/>
<circle cx="470.0" cy="406.9" r="1.38" fill="#33ffcc"/>
<circle cx="471.2" cy="411.0" r="1.38" fill="#44ffbb"/>
<circle cx="472.8" cy="415.1" r="1.38" fill="#48ffb7"/>
<circle cx="474.7" cy="419.0" r="1.38" fill="#48ffb7"/>
<circle cx="477.0" cy="422.7" r="1.38" fill="#47ffb8"/>
<circle cx="479.7" cy="426.2" r="1.38" fill="#47ffb8"/>
<circle cx="482.6" cy="429.4" r="1.38" fill="#47ffb8"/>
<circle cx="485.8" cy="432.4" r="1.38" fill="#39ffc6"/>
<circle cx="489.2" cy="435.0" r="1.38" fill="#2affd5"/>
<circle cx="492.9" cy="437.4" r="1.38" fill="#1cffe3"/>
<circle cx="496.8" cy="439.3" r="1.38" fill="#0efff1"/>
<circle cx="500.9" cy="441.0" r="1.38" fill="#08fff7"/>
<circle cx="505.0" cy="442.2" r="1.38" fill="#31ffce"/>
<circle cx="509.3" cy="443.1" r="1.38" fill="#5affa5"/>
<circle cx="513.6" cy="443.5" r="1.38" fill="#79ff86"/>
<circle cx="518.0" cy="443.6" r="1.38" fill="#79ff86"/>
<circle cx="522.3" cy="443.3" r="1.38" fill="#7aff85"/>
<circle cx="526.6" cy="442.6" r="1.38" fill="#7aff85"/>
<circle cx="530.9" cy="441.5" r="1.38" fill="#7aff85"/>
<circle cx="535.0" cy="440.0" r="1.38" fill="#79ff86"/>
<circle cx="538.9" cy="438.1" r="1.38" fill="#79ff86"/>
<circle cx="542.7" cy="435.9" r="1.38" fill="#6aff95"/>
<circle cx="546.2" cy="433.4" r="1.38" fill="#50ffaf"/>
<circle cx="549.5" cy="430.5" r="1.38" fill="#36ffc9"/>
<circle cx="552.5" cy="427.4" r="1.38" fill="#1cffe3"/>
<circle cx="555.3" cy="424.0" r="1.38" fill="#02fffd"/>
<circle cx="557.7" cy="420.4" r="1.38" fill="#00e7ff"/>
<circle cx="559.7" cy="416.5" r="1.38" fill="#00e2ff"/>
<circle cx="561.4" cy="412.5" r="1.38" fill="#00e2ff"/>
<circle cx="562.8" cy="408.4" r="1.38" fill="#00e2ff"/>
<circle cx="563.7" cy="404.1" r="1.38" fill="#00e2ff"/>
<circle cx="564.3" cy="399.8" r="1.38" fill="#00e2ff"/>
<circle cx="568.8" cy="393.8" r="1.38" fill="#27ffd8"/>
<circle cx="568.5" cy="389.5" r="1.38" fill="#24ffdb"/>
<circle cx="567.7" cy="385.1" r="1.38" fill="#2effd1"/>
<circle cx="566.7" cy="380.9" r="1.38" fill="#51ffae"/>
<circle cx="565.3" cy="376.8" r="1.38" fill="#75ff8a"/>
<circle cx="563.5" cy="372.8" r="1.38" fill="#98ff67"/>
<circle cx="561.4" cy="368.9" r="1.38" fill="#bbff44"/>
<circle cx="559.0" cy="365.3" r="1.38" fill="#deff21"/>
<circle cx="556.3" cy="361.8" r="1.38" fill="#fffd00"/>
<circle cx="553.3" cy="358.6" r="1.38" fill="#ffdb00"/>
<circle cx="550.1" cy="355.7" r="1.38" fill="#ffc500"/>
<circle cx="546.6" cy="353.0" r="1.38" fill="#ffae00"/>
<circle cx="542.9" cy="350.6" r="1.38" fill="#ff9800"/>
<circle cx="539.1" cy="348.6" r="1.38" fill="#ff8100"/>
<circle cx="535.1" cy="346.9" r="1.38" fill="#ff6b00"/>
<circle cx="530.9" cy="345.5" r="1.38" fill="#ff5e00"/>
<circle cx="526.6" cy="344.5" r="1.38" fill="#ff5400"/>
<circle cx="522.3" cy="343.8" r="1.38" fill="#ff4900"/>
<circle cx="518.0" cy="343.5" r="1.38" fill="#ff3500"/>
<circle cx="513.6" cy="343.6" r="1.38" fill="#ff1c00"/>
<circle cx="509.2" cy="344.0" r="1.38" fill="#ff5c00"/>
<circle cx="504.9" cy="344.8" r="1.38" fill="#ffcb00"/>
<circle cx="500.7" cy="346.0" r="1.38" fill="#c3ff3c"/>
<circle cx="496.6" cy="347.5" r="1.38" fill="#80ff7f"/>
<circle cx="492.6" cy="349.3" r="1.38" fill="#67ff98"/>
<circle cx="488.8" cy="351.5" r="1.38" fill="#4dffb2"/>
<circle cx="485.2" cy="354.0" r="1.38" fill="#33ffcc"/>
<circle cx="481.8" cy="356.8" r="1.38" fill="#19ffe6"/>
<circle cx="478.7" cy="359.8" r="1.38" fill="#08fff7"/>
<circle cx="475.8" cy="363.1" r="1.38" fill="#08fff7"/>
<circle cx="473.2" cy="366.6" r="1.38" fill="#09fff6"/>
<circle cx="471.0" cy="370.4" r="1.38" fill="#09fff6"/>
<circle cx="469.0" cy="374.3" r="1.38" fill="#09fff6"/>
<circle cx="467.4" cy="378.3" r="1.38" fill="#0afff5"/>
<circle cx="466.1" cy="382.5" r="1.38" fill="#09fff6"/>
<circle cx="465.1" cy="386.8" r="1.38" fill="#08fff7"/>
<circle cx="464.6" cy="391.1" r="1.38" fill="#08fff7"/>
<circle cx="464.4" cy="395.5" r="1.38" fill="#2bffd4"/>
<circle cx="464.5" cy="399.9" r="1.38" fill="#4fffb0"/>
<circle cx="465.1" cy="404.2" r="1.38" fill="#64ff9b"/>
<circle cx="465.9" cy="408.5" r="1.38" fill="#77ff88"/>
<circle cx="467.2" cy="412.7" r="1.38" fill="#8aff75"/>
<circle cx="468.8" cy="416.8" r="1.38" fill="#c7ff38"/>
<circle cx="470.7" cy="420.7" r="1.38" fill="#ffec00"/>
<circle cx="472.9" cy="424.4" r="1.38" fill="#ffa200"/>
<circle cx="475.5" cy="428.0" r="1.38" fill="#ff5700"/>
<circle cx="478.3" cy="431.3" r="1.38" fill="#ff0d00"/>
<circle cx="481.5" cy="434.4" r="1.38" fill="#ff1300"/>
<circle cx="484.8" cy="437.2" r="1.38" fill="#ff5700"/>
<circle cx="488.4" cy="439.7" r="1.38" fill="#ff9b00"/>
<circle cx="492.2" cy="441.9" r="1.38" fill="#ffdf00"/>
<circle cx="496.1" cy="443.8" r="1.38" fill="#dbff24"/>
<circle cx="500.2" cy="445.3" r="1.38" fill="#caff35"/>
<circle cx="504.4" cy="446.5" r="1.38" fill="#ffe800"/>
<circle cx="508.7" cy="447.4" r="1.38" fill="#ff9c00"/>
<circle cx="513.1" cy="447.9" r="1.38" fill="#ff6500"/>
<circle cx="517.4" cy="448.0" r="1.38" fill="#ff7300"/>
<circle cx="521.8" cy="447.7" r="1.38" fill="#ff8100"/>
<circle cx="526.1" cy="447.1" r="1.38" fill="#ff9100"/>
<circle cx="530.4" cy="446.1" r="1.38" fill="#ffb000"/>
<circle cx="534.6" cy="444.8" r="1.38" fill="#ffce00"/>
<circle cx="538.6" cy="443.1" r="1.38" fill="#ffec00"/>
<circle cx="542.5" cy="441.1" r="1.38" fill="#f3ff0c"/>
<circle cx="546.2" cy="438.8" r="1.38" fill="#d0ff2f"/>
<circle cx="549.7" cy="436.2" r="1.38" fill="#adff52"/>
<circle cx="553.0" cy="433.3" r="1.38" fill="#89ff76"/>
<circle cx="556.0" cy="430.1" r="1.38" fill="#66ff99"/>
<circle cx="558.7" cy="426.7" r="1.38" fill="#42ffbd"/>
<circle cx="561.1" cy="423.0" r="1.38" fill="#1fffe0"/>
<circle cx="563.3" cy="419.2" r="1.38" fill="#18ffe7"/>
<circle cx="565.1" cy="415.2" r="1.38" fill="#1fffe0"/>
<circle cx="566.5" cy="411.1" r="1.38" fill="#25ffda"/>
<circle cx="567.6" cy="406.9" r="1.38" fill="#2cffd3"/>
<circle cx="568.4" cy="402.6" r="1.38" fill="#2dffd2"/>
<circle cx="568.8" cy="398.2" r="1.38" fill="#2affd5"/>
<circle cx="573.1" cy="392.2" r="1.38" fill="#ffb100"/>
<circle cx="572.6" cy="387.9" r="1.38" fill="#ff9c00"/>
<circle cx="571.9" cy="383.7" r="1.38" fill="#ff8200"/>
<circle cx="570.8" cy="379.5" r="1.38" fill="#ff6400"/>
<circle cx="569.4" cy="375.4" r="1.38" fill="#ff4700"/>
<circle cx="567.7" cy="371.4" r="1.38" fill="#ff2900"/>
<circle cx="565.7" cy="367.5" r="1.38" fill="#ff0b00"/>
<circle cx="563.4" cy="363.9" r="1.38" fill="#ec0000"/>
<circle cx="560.8" cy="360.4" r="1.38" fill="#ce0000"/>
<circle cx="557.9" cy="357.1" r="1.38" fill="#b10000"/>
<circle cx="554.9" cy="354.1" r="1.38" fill="#a40000"/>
<circle cx="551.6" cy="351.2" r="1.38" fill="#a40000"/>
<circle cx="548.0" cy="348.7" r="1.38" fill="#a40000"/>
<circle cx="544.4" cy="346.4" r="1.38" fill="#a40000"/>
<circle cx="540.5" cy="344.5" r="1.38" fill="#a40000"/>
<circle cx="536.5" cy="342.8" r="1.38" fill="#a40000"/>
<circle cx="532.4" cy="341.4" r="1.38" fill="#9a0000"/>
<circle cx="528.2" cy="340.4" r="1.38" fill="#900000"/>
<circle cx="523.9" cy="339.6" r="1.38" fill="#850000"/>
<circle cx="519.6" cy="339.2" r="1.38" fill="#910000"/>
<circle cx="515.3" cy="339.2" r="1.38" fill="#b70000"/>
<circle cx="510.9" cy="339.4" r="1.38" fill="#e60000"/>
<circle cx="506.6" cy="340.0" r="1.38" fill="#ff4300"/>
<circle cx="502.4" cy="341.0" r="1.38" fill="#ff9e00"/>
<circle cx="498.2" cy="342.2" r="1.38" fill="#fffa00"/>
<circle cx="494.2" cy="343.8" r="1.38" fill="#d3ff2c"/>
<circle cx="490.3" cy="345.6" r="1.38" fill="#afff50"/>
<circle cx="486.5" cy="347.8" r="1.38" fill="#8cff73"/>
<circle cx="483.0" cy="350.3" r="1.38" fill="#68ff97"/>
<circle cx="479.6" cy="353.0" r="1.38" fill="#44ffbb"/>
<circle cx="476.4" cy="355.9" r="1.38" fill="#23ffdc"/>
<circle cx="473.5" cy="359.1" r="1.38" fill="#26ffd9"/>
<circle cx="470.8" cy="362.5" r="1.38" fill="#2affd5"/>
<circle cx="468.4" cy="366.1" r="1.38" fill="#2dffd2"/>
<circle cx="466.3" cy="369.9" r="1.38" fill="#31ffce"/>
<circle cx="464.4" cy="373.8" r="1.38" fill="#35ffca"/>
<circle cx="462.9" cy="377.9" r="1.38" fill="#34ffcb"/>
<circle cx="461.7" cy="382.1" r="1.38" fill="#2effd1"/>
<circle cx="460.8" cy="386.3" r="1.38" fill="#27ffd8"/>
<circle cx="460.2" cy="390.6" r="1.38" fill="#20ffdf"/>
<circle cx="460.0" cy="394.9" r="1.38" fill="#4effb1"/>
<circle cx="460.1" cy="399.3" r="1.38" fill="#7eff81"/>
<circle cx="460.6" cy="403.6" r="1.38" fill="#a9ff56"/>
<circle cx="461.3" cy="407.8" r="1.38" fill="#d2ff2d"/>
<circle cx="462.4" cy="412.0" r="1.38" fill="#faff05"/>
<circle cx="463.8" cy="416.1" r="1.38" fill="#ffd600"/>
<circle cx="465.5" cy="420.1" r="1.38" fill="#ff9700"/>
<circle cx="467.5" cy="424.0" r="1.38" fill="#ff5900"/>
<circle cx="469.8" cy="427.6" r="1.38" fill="#ff1a00"/>
<circle cx="472.4" cy="431.1" r="1.38" fill="#da0000"/>
<circle cx="475.3" cy="434.4" r="1.38" fill="#9b0000"/>
<circle cx="478.3" cy="437.4" r="1.38" fill="#8e0000"/>
<circle cx="481.6" cy="440.3" r="1.38" fill="#a80000"/>
<circle cx="485.2" cy="442.8" r="1.38" fill="#c20000"/>
<circle cx="488.8" cy="445.1" r="1.38" fill="#db0000"/>
<circle cx="492.7" cy="447.0" r="1.38" fill="#f50000"/>
<circle cx="496.7" cy="448.7" r="1.38" fill="#ff1000"/>
<circle cx="500.8" cy="450.1" r="1.38" fill="#ff5a00"/>
<circle cx="505.0" cy="451.1" r="1.38" fill="#ffab00"/>
<circle cx="509.3" cy="451.9" r="1.38" fill="#fffb00"/>
<circle cx="513.6" cy="452.3" r="1.38" fill="#d5ff2a"/>
<circle cx="517.9" cy="452.3" r="1.38" fill="#d3ff2c"/>
<circle cx="522.3" cy="452.1" r="1.38" fill="#d0ff2f"/>
<circle cx="526.6" cy="451.5" r="1.38" fill="#ceff31"/>
<circle cx="530.8" cy="450.5" r="1.38" fill="#bfff40"/>
<circle cx="535.0" cy="449.3" r="1.38" fill="#b0ff4f"/>
<circle cx="539.0" cy="447.7" r="1.38" fill="#a2ff5d"/>
<circle cx="542.9" cy="445.9" r="1.38" fill="#93ff6c"/>
<circle cx="546.7" cy="443.7" r="1.38" fill="#8dff72"/>
<circle cx="550.2" cy="441.2" r="1.38" fill="#91ff6e"/>
<circle cx="553.6" cy="438.5" r="1.38" fill="#95ff6a"/>
<circle cx="556.8" cy="435.6" r="1.38" fill="#99ff66"/>
<circle cx="559.7" cy="432.4" r="1.38" fill="#9dff62"/>
<circle cx="562.4" cy="429.0" r="1.38" fill="#a1ff5e"/>
<circle cx="564.8" cy="425.4" r="1.38" fill="#a5ff5a"/>
<circle cx="566.9" cy="421.6" r="1.38" fill="#b5ff4a"/>
<circle cx="568.8" cy="417.7" r="1.38" fill="#ccff33"/>
<circle cx="570.3" cy="413.6" r="1.38" fill="#e2ff1d"/>
<circle cx="571.5" cy="409.4" r="1.38" fill="#f9ff06"/>
<circle cx="572.4" cy="405.2" r="1.38" fill="#ffef00"/>
<circle cx="573.0" cy="400.9" r="1.38" fill="#ffda00"/>
<circle cx="573.2" cy="396.6" r="1.38" fill="#ffc500"/>
<circle cx="577.5" cy="395.0" r="1.38" fill="#c20000"/>
<circle cx="577.3" cy="390.6" r="1.38" fill="#a40000"/>
<circle cx="576.8" cy="386.3" r="1.38" fill="#870000"/>
<circle cx="576.0" cy="382.0" r="1.38" fill="#800000"/>
<circle cx="574.8" cy="377.8" r="1.38" fill="#800000"/>
<circle cx="573.4" cy="373.7" r="1.38" fill="#800000"/>
<circle cx="571.7" cy="369.7" r="1.38" fill="#800000"/>
<circle cx="569.7" cy="365.9" r="1.38" fill="#800000"/>
<circle cx="567.4" cy="362.1" r="1.38" fill="#800000"/>
<circle cx="564.9" cy="358.6" r="1.38" fill="#800000"/>
<circle cx="562.1" cy="355.3" r="1.38" fill="#800000"/>
<circle cx="559.1" cy="352.1" r="1.38" fill="#800000"/>
<circle cx="555.9" cy="349.2" r="1.38" fill="#800000"/>
<circle cx="552.5" cy="346.5" r="1.38" fill="#800000"/>
<circle cx="548.9" cy="344.1" r="1.38" fill="#800000"/>
<circle cx="545.1" cy="341.9" r="1.38" fill="#800000"/>
<circle cx="541.2" cy="340.0" r="1.38" fill="#800000"/>
<circle cx="537.2" cy="338.4" r="1.38" fill="#810000"/>
<circle cx="533.0" cy="337.1" r="1.38" fill="#940000"/>
<circle cx="528.8" cy="336.0" r="1.38" fill="#a80000"/>
<circle cx="524.5" cy="335.3" r="1.38" fill="#bc0000"/>
<circle cx="520.2" cy="334.9" r="1.38" fill="#d10000"/>
<circle cx="515.8" cy="334.8" r="1.38" fill="#ea0000"/>
<circle cx="511.5" cy="335.0" r="1.38" fill="#ff0400"/>
<circle cx="507.2" cy="335.5" r="1.38" fill="#ff5c00"/>
<circle cx="502.9" cy="336.4" r="1.38" fill="#ffb800"/>
<circle cx="498.7" cy="337.5" r="1.38" fill="#ebff14"/>
<circle cx="494.6" cy="338.9" r="1.38" fill="#a5ff5a"/>
<circle cx="490.6" cy="340.6" r="1.38" fill="#8fff70"/>
<circle cx="486.7" cy="342.6" r="1.38" fill="#7aff85"/>
<circle cx="483.0" cy="344.9" r="1.38" fill="#65ff9a"/>
<circle cx="479.5" cy="347.4" r="1.38" fill="#50ffaf"/>
<circle cx="476.1" cy="350.2" r="1.38" fill="#3bffc4"/>
<circle cx="473.0" cy="353.2" r="1.38" fill="#2bffd4"/>
<circle cx="470.0" cy="356.4" r="1.38" fill="#35ffca"/>
<circle cx="467.3" cy="359.9" r="1.38" fill="#3fffc0"/>
<circle cx="464.9" cy="363.5" r="1.38" fill="#48ffb7"/>
<circle cx="462.7" cy="367.2" r="1.38" fill="#52ffad"/>
<circle cx="460.8" cy="371.1" r="1.38" fill="#5cffa3"/>
<circle cx="459.2" cy="375.2" r="1.38" fill="#64ff9b"/>
<circle cx="457.9" cy="379.3" r="1.38" fill="#60ff9f"/>
<circle cx="456.9" cy="383.6" r="1.38" fill="#5bffa4"/>
<circle cx="456.2" cy="387.9" r="1.38" fill="#57ffa8"/>
<circle cx="455.8" cy="392.2" r="1.38" fill="#69ff96"/>
<circle cx="455.7" cy="396.5" r="1.38" fill="#9eff61"/>
<circle cx="455.9" cy="400.9" r="1.38" fill="#d2ff2d"/>
<circle cx="456.4" cy="405.2" r="1.38" fill="#fffb00"/>
<circle cx="457.2" cy="409.5" r="1.38" fill="#ffcb00"/>
<circle cx="458.4" cy="413.7" r="1.38" fill="#ff9a00"/>
<circle cx="459.8" cy="417.8" r="1.38" fill="#ff7400"/>
<circle cx="461.5" cy="421.8" r="1.38" fill="#ff6700"/>
<circle cx="463.5" cy="425.6" r="1.38" fill="#ff5a00"/>
<circle cx="465.8" cy="429.4" r="1.38" fill="#ff4d00"/>
<circle cx="468.3" cy="432.9" r="1.38" fill="#ff4000"/>
<circle cx="471.1" cy="436.2" r="1.38" fill="#ff3300"/>
<circle cx="474.1" cy="439.4" r="1.38" fill="#ff2e00"/>
<circle cx="477.3" cy="442.3" r="1.38" fill="#ff4c00"/>
<circle cx="480.7" cy="445.0" r="1.38" fill="#ff6a00"/>
<circle cx="484.3" cy="447.4" r="1.38" fill="#ff8800"/>
<circle cx="488.1" cy="449.6" r="1.38" fill="#ffa600"/>
<circle cx="492.0" cy="451.5" r="1.38" fill="#ffc400"/>
<circle cx="496.0" cy="453.1" r="1.38" fill="#ffe300"/>
<circle cx="500.2" cy="454.4" r="1.38" fill="#e5ff1a"/>
<circle cx="504.4" cy="455.5" r="1.38" fill="#afff50"/>
<circle cx="508.7" cy="456.2" r="1.38" fill="#79ff86"/>
<circle cx="513.0" cy="456.6" r="1.38" fill="#55ffaa"/>
<circle cx="517.4" cy="456.7" r="1.38" fill="#4bffb4"/>
<circle cx="521.7" cy="456.5" r="1.38" fill="#41ffbe"/>
<circle cx="526.0" cy="456.0" r="1.38" fill="#37ffc8"/>
<circle cx="530.3" cy="455.1" r="1.38" fill="#2effd1"/>
<circle cx="534.5" cy="454.0" r="1.38" fill="#26ffd9"/>
<circle cx="538.6" cy="452.6" r="1.38" fill="#1effe1"/>
<circle cx="542.6" cy="450.9" r="1.38" fill="#16ffe9"/>
<circle cx="546.5" cy="448.9" r="1.38" fill="#0efff1"/>
<circle cx="550.2" cy="446.6" r="1.38" fill="#2dffd2"/>
<circle cx="553.7" cy="444.1" r="1.38" fill="#53ffac"/>
<circle cx="557.1" cy="441.3" r="1.38" fill="#7aff85"/>
<circle cx="560.2" cy="438.3" r="1.38" fill="#a0ff5f"/>
<circle cx="563.2" cy="435.1" r="1.38" fill="#c6ff39"/>
<circle cx="565.9" cy="431.6" r="1.38" fill="#edff12"/>
<circle cx="568.3" cy="428.0" r="1.38" fill="#ffeb00"/>
<circle cx="570.5" cy="424.3" r="1.38" fill="#ffc300"/>
<circle cx="572.4" cy="420.4" r="1.38" fill="#ff9a00"/>
<circle cx="574.0" cy="416.3" r="1.38" fill="#ff7100"/>
<circle cx="575.3" cy="412.2" r="1.38" fill="#ff4800"/>
<circle cx="576.3" cy="407.9" r="1.38" fill="#ff1f00"/>
<circle cx="577.0" cy="403.6" r="1.38" fill="#fc0000"/>
<circle cx="577.4" cy="399.3" r="1.38" fill="#df0000"/>
<circle cx="581.8" cy="393.4" r="1.38" fill="#870000"/>
<circle cx="581.5" cy="389.0" r="1.38" fill="#830000"/>
<circle cx="580.9" cy="384.7" r="1.38" fill="#800000"/>
<circle cx="580.1" cy="380.4" r="1.38" fill="#800000"/>
<circle cx="578.9" cy="376.2" r="1.38" fill="#800000"/>
<circle cx="577.5" cy="372.1" r="1.38" fill="#800000"/>
<circle cx="575.7" cy="368.1" r="1.38" fill="#800000"/>
<circle cx="573.8" cy="364.2" r="1.38" fill="#800000"/>
<circle cx="571.5" cy="360.4" r="1.38" fill="#800000"/>
<circle cx="569.0" cy="356.8" r="1.38" fill="#800000"/>
<circle cx="566.3" cy="353.4" r="1.38" fill="#800000"/>
<circle cx="563.4" cy="350.2" r="1.38" fill="#800000"/>
<circle cx="560.2" cy="347.2" r="1.38" fill="#800000"/>
<circle cx="556.9" cy="344.4" r="1.38" fill="#800000"/>
<circle cx="553.4" cy="341.8" r="1.38" fill="#800000"/>
<circle cx="549.7" cy="339.5" r="1.38" fill="#800000"/>
<circle cx="545.9" cy="337.4" r="1.38" fill="#800000"/>
<circle cx="541.9" cy="335.6" r="1.38" fill="#800000"/>
<circle cx="537.8" cy="334.0" r="1.38" fill="#930000"/>
<circle cx="533.6" cy="332.7" r="1.38" fill="#dc0000"/>
<circle cx="529.4" cy="331.7" r="1.38" fill="#ff2600"/>
<circle cx="525.1" cy="331.0" r="1.38" fill="#ff6f00"/>
<circle cx="520.7" cy="330.6" r="1.38" fill="#ffae00"/>
<circle cx="516.4" cy="330.5" r="1.38" fill="#ffde00"/>
<circle cx="512.0" cy="330.6" r="1.38" fill="#f0ff0f"/>
<circle cx="507.7" cy="331.1" r="1.38" fill="#c5ff3a"/>
<circle cx="503.4" cy="331.8" r="1.38" fill="#9aff65"/>
<circle cx="499.1" cy="332.8" r="1.38" fill="#6fff90"/>
<circle cx="495.0" cy="334.1" r="1.38" fill="#45ffba"/>
<circle cx="490.9" cy="335.7" r="1.38" fill="#37ffc8"/>
<circle cx="487.0" cy="337.6" r="1.38" fill="#30ffcf"/>
<circle cx="483.1" cy="339.7" r="1.38" fill="#28ffd7"/>
<circle cx="479.5" cy="342.0" r="1.38" fill="#21ffde"/>
<circle cx="476.0" cy="344.6" r="1.38" fill="#19ffe6"/>
<circle cx="472.6" cy="347.5" r="1.38" fill="#12ffed"/>
<circle cx="469.5" cy="350.5" r="1.38" fill="#12ffed"/>
<circle cx="466.6" cy="353.8" r="1.38" fill="#26ffd9"/>
<circle cx="463.9" cy="357.2" r="1.38" fill="#3affc5"/>
<circle cx="461.4" cy="360.8" r="1.38" fill="#4dffb2"/>
<circle cx="459.2" cy="364.6" r="1.38" fill="#61ff9e"/>
<circle cx="457.3" cy="368.5" r="1.38" fill="#75ff8a"/>
<circle cx="455.6" cy="372.5" r="1.38" fill="#88ff77"/>
<circle cx="454.2" cy="376.6" r="1.38" fill="#91ff6e"/>
<circle cx="453.0" cy="380.8" r="1.38" fill="#96ff69"/>
<circle cx="452.2" cy="385.1" r="1.38" fill="#9bff64"/>
<circle cx="451.6" cy="389.4" r="1.38" fill="#a0ff5f"/>
<circle cx="451.3" cy="393.8" r="1.38" fill="#cbff34"/>
<circle cx="451.4" cy="398.1" r="1.38" fill="#fcff03"/>
<circle cx="451.7" cy="402.5" r="1.38" fill="#ffd400"/>
<circle cx="452.3" cy="406.8" r="1.38" fill="#ffb300"/>
<circle cx="453.1" cy="411.1" r="1.38" fill="#ff9200"/>
<circle cx="454.3" cy="415.3" r="1.38" fill="#ff7000"/>
<circle cx="455.7" cy="419.4" r="1.38" fill="#ff6200"/>
<circle cx="457.5" cy="423.4" r="1.38" fill="#ff7d00"/>
<circle cx="459.4" cy="427.3" r="1.38" fill="#ff9700"/>
<circle cx="461.7" cy="431.1" r="1.38" fill="#ffb200"/>
<circle cx="464.2" cy="434.7" r="1.38" fill="#ffcc00"/>
<circle cx="466.9" cy="438.1" r="1.38" fill="#ffe700"/>
<circle cx="469.8" cy="441.3" r="1.38" fill="#fdff02"/>
<circle cx="473.0" cy="444.3" r="1.38" fill="#ebff14"/>
<circle cx="476.3" cy="447.1" r="1.38" fill="#dbff24"/>
<circle cx="479.8" cy="449.7" r="1.38" fill="#ccff33"/>
<circle cx="483.5" cy="452.0" r="1.38" fill="#bcff43"/>
<circle cx="487.3" cy="454.1" r="1.38" fill="#acff53"/>
<circle cx="491.3" cy="455.9" r="1.38" fill="#9dff62"/>
<circle cx="495.4" cy="457.5" r="1.38" fill="#8aff75"/>
<circle cx="499.6" cy="458.8" r="1.38" fill="#6dff92"/>
<circle cx="503.8" cy="459.8" r="1.38" fill="#50ffaf"/>
<circle cx="508.1" cy="460.5" r="1.38" fill="#33ffcc"/>
<circle cx="512.5" cy="460.9" r="1.38" fill="#1bffe4"/>
<circle cx="516.8" cy="461.0" r="1.38" fill="#0cfff3"/>
<circle cx="521.2" cy="460.9" r="1.38" fill="#00fcff"/>
<circle cx="525.5" cy="460.4" r="1.38" fill="#00ecff"/>
<circle cx="529.8" cy="459.7" r="1.38" fill="#00e2ff"/>
<circle cx="534.1" cy="458.7" r="1.38" fill="#00dfff"/>
<circle cx="538.2" cy="457.4" r="1.38" fill="#00dbff"/>
<circle cx="542.3" cy="455.8" r="1.38" fill="#00d8ff"/>
<circle cx="546.2" cy="453.9" r="1.38" fill="#00d4ff"/>
<circle cx="550.1" cy="451.8" r="1.38" fill="#00ddff"/>
<circle cx="553.7" cy="449.5" r="1.38" fill="#13ffec"/>
<circle cx="557.2" cy="446.9" r="1.38" fill="#49ffb6"/>
<circle cx="560.6" cy="444.0" r="1.38" fill="#7eff81"/>
<circle cx="563.7" cy="441.0" r="1.38" fill="#b3ff4c"/>
<circle cx="566.6" cy="437.7" r="1.38" fill="#e8ff17"/>
<circle cx="569.3" cy="434.3" r="1.38" fill="#ffe100"/>
<circle cx="571.8" cy="430.7" r="1.38" fill="#ffac00"/>
<circle cx="574.0" cy="426.9" r="1.38" fill="#ff7900"/>
<circle cx="575.9" cy="423.0" r="1.38" fill="#ff4900"/>
<circle cx="577.6" cy="419.0" r="1.38" fill="#ff1a00"/>
<circle cx="579.0" cy="414.9" r="1.38" fill="#e90000"/>
<circle cx="580.2" cy="410.7" r="1.38" fill="#b90000"/>
<circle cx="581.0" cy="406.4" r="1.38" fill="#910000"/>
<circle cx="581.6" cy="402.1" r="1.38" fill="#8d0000"/>
<circle cx="581.9" cy="397.7" r="1.38" fill="#8a0000"/>
<circle cx="586.1" cy="391.8" r="1.38" fill="#800000"/>
<circle cx="585.8" cy="387.5" r="1.38" fill="#800000"/>
<circle cx="585.1" cy="383.2" r="1.38" fill="#800000"/>
<circle cx="584.2" cy="378.9" r="1.38" fill="#800000"/>
<circle cx="583.0" cy="374.8" r="1.38" fill="#800000"/>
<circle cx="581.6" cy="370.7" r="1.38" fill="#800000"/>
<circle cx="579.9" cy="366.7" r="1.38" fill="#800000"/>
<circle cx="578.0" cy="362.8" r="1.38" fill="#800000"/>
<circle cx="575.8" cy="359.1" r="1.38" fill="#800000"/>
<circle cx="573.4" cy="355.4" r="1.38" fill="#800000"/>
<circle cx="570.8" cy="352.0" r="1.38" fill="#800000"/>
<circle cx="568.0" cy="348.7" r="1.38" fill="#800000"/>
<circle cx="564.9" cy="345.6" r="1.38" fill="#820000"/>
<circle cx="561.7" cy="342.7" r="1.38" fill="#8c0000"/>
<circle cx="558.3" cy="340.0" r="1.38" fill="#950000"/>
<circle cx="554.8" cy="337.5" r="1.38" fill="#9f0000"/>
<circle cx="551.1" cy="335.2" r="1.38" fill="#a90000"/>
<circle cx="547.3" cy="333.2" r="1.38" fill="#b20000"/>
<circle cx="543.3" cy="331.4" r="1.38" fill="#bc0000"/>
<circle cx="539.3" cy="329.9" r="1.38" fill="#de0000"/>
<circle cx="535.1" cy="328.6" r="1.38" fill="#ff4200"/>
<circle cx="530.9" cy="327.6" r="1.38" fill="#ffa500"/>
<circle cx="526.7" cy="326.8" r="1.38" fill="#f6ff09"/>
<circle cx="522.4" cy="326.3" r="1.38" fill="#98ff67"/>
<circle cx="518.0" cy="326.1" r="1.38" fill="#70ff8f"/>
<circle cx="513.7" cy="326.2" r="1.38" fill="#48ffb7"/>
<circle cx="509.4" cy="326.5" r="1.38" fill="#29ffd6"/>
<circle cx="505.1" cy="327.1" r="1.38" fill="#21ffde"/>
<circle cx="500.8" cy="327.9" r="1.38" fill="#19ffe6"/>
<circle cx="496.6" cy="329.0" r="1.38" fill="#10ffef"/>
<circle cx="492.5" cy="330.4" r="1.38" fill="#09fff6"/>
<circle cx="488.5" cy="332.0" r="1.38" fill="#06fff9"/>
<circle cx="484.6" cy="333.9" r="1.38" fill="#03fffc"/>
<circle cx="480.8" cy="336.0" r="1.38" fill="#00ffff"/>
<circle cx="477.2" cy="338.3" r="1.38" fill="#00fcff"/>
<circle cx="473.7" cy="340.9" r="1.38" fill="#00f9ff"/>
<circle cx="470.4" cy="343.7" r="1.38" fill="#00f6ff"/>
<circle cx="467.2" cy="346.6" r="1.38" fill="#00f4ff"/>
<circle cx="464.3" cy="349.8" r="1.38" fill="#10ffef"/>
<circle cx="461.5" cy="353.1" r="1.38" fill="#2affd5"/>
<circle cx="459.0" cy="356.7" r="1.38" fill="#45ffba"/>
<circle cx="456.6" cy="360.3" r="1.38" fill="#5fffa0"/>
<circle cx="454.6" cy="364.1" r="1.38" fill="#79ff86"/>
<circle cx="452.7" cy="368.0" r="1.38" fill="#94ff6b"/>
<circle cx="451.1" cy="372.1" r="1.38" fill="#adff52"/>
<circle cx="449.8" cy="376.2" r="1.38" fill="#a8ff57"/>
<circle cx="448.7" cy="380.4" r="1.38" fill="#a4ff5b"/>
<circle cx="447.8" cy="384.6" r="1.38" fill="#9fff60"/>
<circle cx="447.3" cy="388.9" r="1.38" fill="#9aff65"/>
<circle cx="447.0" cy="393.2" r="1.38" fill="#d9ff26"/>
<circle cx="447.0" cy="397.6" r="1.38" fill="#ffd800"/>
<circle cx="447.2" cy="401.9" r="1.38" fill="#ff8b00"/>
<circle cx="447.7" cy="406.2" r="1.38" fill="#ff6500"/>
<circle cx="448.5" cy="410.5" r="1.38" fill="#ff3f00"/>
<circle cx="449.6" cy="414.7" r="1.38" fill="#ff1900"/>
<circle cx="450.9" cy="418.8" r="1.38" fill="#f20000"/>
<circle cx="452.4" cy="422.8" r="1.38" fill="#e60000"/>
<circle cx="454.2" cy="426.8" r="1.38" fill="#e10000"/>
<circle cx="456.3" cy="430.6" r="1.38" fill="#dc0000"/>
<circle cx="458.6" cy="434.3" r="1.38" fill="#d70000"/>
<circle cx="461.1" cy="437.8" r="1.38" fill="#d20000"/>
<circle cx="463.8" cy="441.2" r="1.38" fill="#cd0000"/>
<circle cx="466.7" cy="444.4" r="1.38" fill="#c90000"/>
<circle cx="469.8" cy="447.4" r="1.38" fill="#fe0000"/>
<circle cx="473.1" cy="450.2" r="1.38" fill="#ff4300"/>
<circle cx="476.6" cy="452.8" r="1.38" fill="#ff8800"/>
<circle cx="480.2" cy="455.2" r="1.38" fill="#ffcc00"/>
<circle cx="484.0" cy="457.3" r="1.38" fill="#edff12"/>
<circle cx="487.9" cy="459.2" r="1.38" fill="#a9ff56"/>
<circle cx="491.9" cy="460.9" r="1.38" fill="#64ff9b"/>
<circle cx="496.0" cy="462.3" r="1.38" fill="#4affb5"/>
<circle cx="500.2" cy="463.4" r="1.38" fill="#3cffc3"/>
<circle cx="504.4" cy="464.3" r="1.38" fill="#2effd1"/>
<circle cx="508.7" cy="464.9" r="1.38" fill="#20ffdf"/>
<circle cx="513.0" cy="465.3" r="1.38" fill="#12ffed"/>
<circle cx="517.3" cy="465.4" r="1.38" fill="#04fffb"/>
<circle cx="521.7" cy="465.2" r="1.38" fill="#00f6ff"/>
<circle cx="526.0" cy="464.8" r="1.38" fill="#00e9ff"/>
<circle cx="530.2" cy="464.0" r="1.38" fill="#00ddff"/>
<circle cx="534.5" cy="463.1" r="1.38" fill="#00d6ff"/>
<circle cx="538.6" cy="461.8" r="1.38" fill="#00ceff"/>
<circle cx="542.7" cy="460.3" r="1.38" fill="#00c7ff"/>
<circle cx="546.6" cy="458.6" r="1.38" fill="#00bfff"/>
<circle cx="550.5" cy="456.6" r="1.38" fill="#00b8ff"/>
<circle cx="554.2" cy="454.4" r="1.38" fill="#00e9ff"/>
<circle cx="557.8" cy="451.9" r="1.38" fill="#2dffd2"/>
<circle cx="561.2" cy="449.2" r="1.38" fill="#70ff8f"/>
<circle cx="564.4" cy="446.4" r="1.38" fill="#b4ff4b"/>
<circle cx="567.5" cy="443.3" r="1.38" fill="#f7ff08"/>
<circle cx="570.3" cy="440.0" r="1.38" fill="#ffc400"/>
<circle cx="573.0" cy="436.6" r="1.38" fill="#ff8000"/>
<circle cx="575.4" cy="433.0" r="1.38" fill="#ff3d00"/>
<circle cx="577.6" cy="429.3" r="1.38" fill="#ff0800"/>
<circle cx="579.6" cy="425.4" r="1.38" fill="#ed0000"/>
<circle cx="581.3" cy="421.5" r="1.38" fill="#d40000"/>
<circle cx="582.8" cy="417.4" r="1.38" fill="#ba0000"/>
<circle cx="584.0" cy="413.2" r="1.38" fill="#a00000"/>
<circle cx="585.0" cy="409.0" r="1.38" fill="#870000"/>
<circle cx="585.7" cy="404.7" r="1.38" fill="#800000"/>
<circle cx="586.1" cy="400.4" r="1.38" fill="#800000"/>
<circle cx="586.2" cy="396.1" r="1.38" fill="#800000"/>
<circle cx="590.6" cy="394.5" r="1.38" fill="#800000"/>
<circle cx="590.4" cy="390.1" r="1.38" fill="#800000"/>
<circle cx="589.9" cy="385.8" r="1.38" fill="#800000"/>
<circle cx="589.2" cy="381.5" r="1.38" fill="#800000"/>
<circle cx="588.3" cy="377.3" r="1.38" fill="#800000"/>
<circle cx="587.1" cy="373.1" r="1.38" fill="#800000"/>
<circle cx="585.6" cy="369.0" r="1.38" fill="#800000"/>
<circle cx="583.9" cy="365.0" r="1.38" fill="#800000"/>
<circle cx="582.0" cy="361.1" r="1.38" fill="#800000"/>
<circle cx="579.9" cy="357.4" r="1.38" fill="#800000"/>
<circle cx="577.5" cy="353.7" r="1.38" fill="#800000"/>
<circle cx="574.9" cy="350.2" r="1.38" fill="#800000"/>
<circle cx="572.2" cy="346.9" r="1.38" fill="#800000"/>
<circle cx="569.2" cy="343.7" r="1.38" fill="#800000"/>
<circle cx="566.0" cy="340.7" r="1.38" fill="#990000"/>
<circle cx="562.7" cy="337.9" r="1.38" fill="#b40000"/>
<circle cx="559.2" cy="335.3" r="1.38" fill="#d00000"/>
<circle cx="555.6" cy="332.9" r="1.38" fill="#eb0000"/>
<circle cx="551.9" cy="330.7" r="1.38" fill="#ff0700"/>
<circle cx="548.0" cy="328.7" r="1.38" fill="#ff2300"/>
<circle cx="544.0" cy="327.0" r="1.38" fill="#ff3e00"/>
<circle cx="539.9" cy="325.5" r="1.38" fill="#ff7900"/>
<circle cx="535.8" cy="324.3" r="1.38" fill="#ffd400"/>
<circle cx="531.5" cy="323.3" r="1.38" fill="#ceff31"/>
<circle cx="527.3" cy="322.5" r="1.38" fill="#73ff8c"/>
<circle cx="522.9" cy="322.0" r="1.38" fill="#19ffe6"/>
<circle cx="518.6" cy="321.8" r="1.38" fill="#12ffed"/>
<circle cx="514.3" cy="321.8" r="1.38" fill="#0cfff3"/>
<circle cx="509.9" cy="322.1" r="1.38" fill="#04fffb"/>
<circle cx="505.6" cy="322.6" r="1.38" fill="#00f6ff"/>
<circle cx="501.3" cy="323.3" r="1.38" fill="#00e8ff"/>
<circle cx="497.1" cy="324.4" r="1.38" fill="#00daff"/>
<circle cx="492.9" cy="325.6" r="1.38" fill="#00ccff"/>
<circle cx="488.9" cy="327.1" r="1.38" fill="#00c7ff"/>
<circle cx="484.9" cy="328.9" r="1.38" fill="#00c7ff"/>
<circle cx="481.0" cy="330.9" r="1.38" fill="#00c7ff"/>
<circle cx="477.3" cy="333.1" r="1.38" fill="#00c7ff"/>
<circle cx="473.7" cy="335.5" r="1.38" fill="#00c7ff"/>
<circle cx="470.2" cy="338.1" r="1.38" fill="#00c7ff"/>
<circle cx="466.9" cy="340.9" r="1.38" fill="#00c7ff"/>
<circle cx="463.8" cy="343.9" r="1.38" fill="#00ceff"/>
<circle cx="460.8" cy="347.1" r="1.38" fill="#00f7ff"/>
<circle cx="458.1" cy="350.5" r="1.38" fill="#21ffde"/>
<circle cx="455.5" cy="354.0" r="1.38" fill="#4affb5"/>
<circle cx="453.2" cy="357.7" r="1.38" fill="#73ff8c"/>
<circle cx="451.0" cy="361.4" r="1.38" fill="#9dff62"/>
<circle cx="449.1" cy="365.3" r="1.38" fill="#c6ff39"/>
<circle cx="447.5" cy="369.4" r="1.38" fill="#efff10"/>
<circle cx="446.0" cy="373.5" r="1.38" fill="#ffe900"/>
<circle cx="444.8" cy="377.6" r="1.38" fill="#ffc500"/>
<circle cx="443.9" cy="381.9" r="1.38" fill="#ffa000"/>
<circle cx="443.2" cy="386.2" r="1.38" fill="#ff7b00"/>
<circle cx="442.8" cy="390.5" r="1.38" fill="#ff5700"/>
<circle cx="442.6" cy="394.8" r="1.38" fill="#ff3500"/>
<circle cx="442.7" cy="399.2" r="1.38" fill="#ff1300"/>
<circle cx="443.0" cy="403.5" r="1.38" fill="#f20000"/>
<circle cx="443.6" cy="407.8" r="1.38" fill="#d60000"/>
<circle cx="444.4" cy="412.1" r="1.38" fill="#bb0000"/>
<circle cx="445.5" cy="416.3" r="1.38" fill="#9f0000"/>
<circle cx="446.8" cy="420.4" r="1.38" fill="#840000"/>
<circle cx="448.4" cy="424.5" r="1.38" fill="#800000"/>
<circle cx="450.2" cy="428.4" r="1.38" fill="#800000"/>
<circle cx="452.2" cy="432.3" r="1.38" fill="#800000"/>
<circle cx="454.5" cy="436.0" r="1.38" fill="#800000"/>
<circle cx="457.0" cy="439.6" r="1.38" fill="#800000"/>
<circle cx="459.6" cy="443.0" r="1.38" fill="#800000"/>
<circle cx="462.5" cy="446.2" r="1.38" fill="#800000"/>
<circle cx="465.6" cy="449.3" r="1.38" fill="#860000"/>
<circle cx="468.8" cy="452.2" r="1.38" fill="#970000"/>
<circle cx="472.2" cy="454.9" r="1.38" fill="#a70000"/>
<circle cx="475.7" cy="457.5" r="1.38" fill="#b80000"/>
<circle cx="479.4" cy="459.7" r="1.38" fill="#c80000"/>
<circle cx="483.3" cy="461.8" r="1.38" fill="#d90000"/>
<circle cx="487.2" cy="463.7" r="1.38" fill="#e90000"/>
<circle cx="491.2" cy="465.3" r="1.38" fill="#fa0000"/>
<circle cx="495.4" cy="466.6" r="1.38" fill="#ff1100"/>
<circle cx="499.5" cy="467.8" r="1.38" fill="#ff2800"/>
<circle cx="503.8" cy="468.6" r="1.38" fill="#ff3f00"/>
<circle cx="508.1" cy="469.3" r="1.38" fill="#ff5600"/>
<circle cx="512.4" cy="469.6" r="1.38" fill="#ff5200"/>
<circle cx="516.8" cy="469.7" r="1.38" fill="#ff3700"/>
<circle cx="521.1" cy="469.6" r="1.38" fill="#ff1c00"/>
<circle cx="525.4" cy="469.2" r="1.38" fill="#ff0000"/>
<circle cx="529.7" cy="468.6" r="1.38" fill="#e40000"/>
<circle cx="534.0" cy="467.7" r="1.38" fill="#d30000"/>
<circle cx="538.2" cy="466.5" r="1.38" fill="#c20000"/>
<circle cx="542.3" cy="465.1" r="1.38" fill="#b10000"/>
<circle cx="546.3" cy="463.5" r="1.38" fill="#a00000"/>
<circle cx="550.3" cy="461.7" r="1.38" fill="#8f0000"/>
<circle cx="554.1" cy="459.6" r="1.38" fill="#800000"/>
<circle cx="557.7" cy="457.3" r="1.38" fill="#800000"/>
<circle cx="561.3" cy="454.7" r="1.38" fill="#800000"/>
<circle cx="564.7" cy="452.0" r="1.38" fill="#800000"/>
<circle cx="567.9" cy="449.1" r="1.38" fill="#800000"/>
<circle cx="570.9" cy="446.0" r="1.38" fill="#800000"/>
<circle cx="573.8" cy="442.7" r="1.38" fill="#800000"/>
<circle cx="576.4" cy="439.3" r="1.38" fill="#800000"/>
<circle cx="578.9" cy="435.7" r="1.38" fill="#800000"/>
<circle cx="581.1" cy="432.0" r="1.38" fill="#800000"/>
<circle cx="583.1" cy="428.1" r="1.38" fill="#800000"/>
<circle cx="584.9" cy="424.2" r="1.38" fill="#800000"/>
<circle cx="586.5" cy="420.1" r="1.38" fill="#800000"/>
<circle cx="587.8" cy="416.0" r="1.38" fill="#800000"/>
<circle cx="588.9" cy="411.7" r="1.38" fill="#800000"/>
<circle cx="589.7" cy="407.5" r="1.38" fill="#800000"/>
<circle cx="590.2" cy="403.2" r="1.38" fill="#800000"/>
<circle cx="590.5" cy="398.8" r="1.38" fill="#800000"/>
<rect x="405.6" y="285.0" width="222.0" height="221.5" fill="none" stroke="#111" stroke-width="1.8"/>
<text x="401.2" y="329.8" font-size="17" text-anchor="end" textLength="25.64" lengthAdjust="spacingAndGlyphs" font-family="Liberation Sans, sans-serif">1.0</text>
<text x="592.3" y="528.0" font-size="17" text-anchor="middle" textLength="25.64" lengthAdjust="spacingAndGlyphs" font-family="Liberation Sans, sans-serif">1.0</text>
<text x="401.2" y="403.8" font-size="17" text-anchor="end" textLength="25.64" lengthAdjust="spacingAndGlyphs" font-family="Liberation Sans, sans-serif">0.0</text>
<text x="518.3" y="528.0" font-size="17" text-anchor="middle" textLength="25.64" lengthAdjust="spacingAndGlyphs" font-family="Liberation Sans, sans-serif">0.0</text>
<text x="401.2" y="477.8" font-size="17" text-anchor="end" textLength="31.78" lengthAdjust="spacingAndGlyphs" font-family="Liberation Sans, sans-serif">-1.0</text>
<text x="444.3" y="528.0" font-size="17" text-anchor="middle" textLength="31.78" lengthAdjust="spacingAndGlyphs" font-family="Liberation Sans, sans-serif">-1.0</text>
<text x="519.2" y="550.8" font-size="19.5" text-anchor="middle" font-family="Liberation Sans, sans-serif">NA<tspan font-size="13" dy="4">obj</tspan></text>
<text transform="translate(373.4,393.2) rotate(-90)" font-size="19.5" text-anchor="middle" font-family="Liberation Sans, sans-serif">NA<tspan font-size="13" dy="5">obj</tspan></text>
<rect x="635.6" y="285.0" width="17" height="221.5" fill="url(#jetv)"/>
<line x1="650.6" y1="321.0" x2="652.6" y2="321.0" stroke="#333" stroke-width="0.9"/>
<text x="658.6" y="327.8" font-size="18.2" font-family="Liberation Sans, sans-serif">2</text>
<line x1="650.6" y1="369.4" x2="652.6" y2="369.4" stroke="#333" stroke-width="0.9"/>
<text x="658.6" y="376.2" font-size="18.2" font-family="Liberation Sans, sans-serif">0</text>
<line x1="650.6" y1="417.5" x2="652.6" y2="417.5" stroke="#333" stroke-width="0.9"/>
<text x="655.2" y="424.3" font-size="18.2" font-family="Liberation Sans, sans-serif">-2</text>
<line x1="650.6" y1="464.3" x2="652.6" y2="464.3" stroke="#333" stroke-width="0.9"/>
<text x="655.2" y="471.1" font-size="18.2" font-family="Liberation Sans, sans-serif">-4</text>
<text x="653.5" y="300" font-size="19" font-family="Liberation Serif, serif">(</text><text x="661.5" y="300" font-size="19" font-style="italic" font-family="Liberation Serif, serif">V</text><text x="677" y="300" font-size="19" font-family="Liberation Serif, serif">)</text>
<text x="42.0" y="578.0" font-size="23" font-family="Liberation Sans, sans-serif">(d)</text>
<line x1="85.4" y1="593.2" x2="85.4" y2="814.7" stroke="#d8d8d8" stroke-width="1" stroke-dasharray="5 4"/>
<line x1="48.4" y1="778.0" x2="270.4" y2="778.0" stroke="#d8d8d8" stroke-width="1" stroke-dasharray="5 4"/>
<line x1="122.4" y1="593.2" x2="122.4" y2="814.7" stroke="#d8d8d8" stroke-width="1" stroke-dasharray="5 4"/>
<line x1="48.4" y1="741.0" x2="270.4" y2="741.0" stroke="#d8d8d8" stroke-width="1" stroke-dasharray="5 4"/>
<line x1="159.4" y1="593.2" x2="159.4" y2="814.7" stroke="#d8d8d8" stroke-width="1" stroke-dasharray="5 4"/>
<line x1="48.4" y1="704.0" x2="270.4" y2="704.0" stroke="#d8d8d8" stroke-width="1" stroke-dasharray="5 4"/>
<line x1="196.4" y1="593.2" x2="196.4" y2="814.7" stroke="#d8d8d8" stroke-width="1" stroke-dasharray="5 4"/>
<line x1="48.4" y1="667.0" x2="270.4" y2="667.0" stroke="#d8d8d8" stroke-width="1" stroke-dasharray="5 4"/>
<line x1="233.4" y1="593.2" x2="233.4" y2="814.7" stroke="#d8d8d8" stroke-width="1" stroke-dasharray="5 4"/>
<line x1="48.4" y1="630.0" x2="270.4" y2="630.0" stroke="#d8d8d8" stroke-width="1" stroke-dasharray="5 4"/>
<circle cx="159.4" cy="704.0" r="1.25" fill="#db0000"/>
<circle cx="163.4" cy="702.3" r="1.25" fill="#d90000"/>
<circle cx="160.0" cy="699.6" r="1.25" fill="#d90000"/>
<circle cx="156.0" cy="701.3" r="1.25" fill="#c00000"/>
<circle cx="155.4" cy="705.6" r="1.25" fill="#ab0000"/>
<circle cx="158.8" cy="708.3" r="1.25" fill="#ab0000"/>
<circle cx="162.8" cy="706.6" r="1.25" fill="#c00000"/>
<circle cx="167.6" cy="700.9" r="1.25" fill="#be0000"/>
<circle cx="165.2" cy="697.5" r="1.25" fill="#be0000"/>
<circle cx="161.5" cy="695.5" r="1.25" fill="#be0000"/>
<circle cx="157.4" cy="695.5" r="1.25" fill="#be0000"/>
<circle cx="153.7" cy="697.4" r="1.25" fill="#be0000"/>
<circle cx="151.3" cy="700.8" r="1.25" fill="#be0000"/>
<circle cx="150.8" cy="705.0" r="1.25" fill="#be0000"/>
<circle cx="152.2" cy="708.9" r="1.25" fill="#d70000"/>
<circle cx="155.3" cy="711.6" r="1.25" fill="#be0000"/>
<circle cx="159.4" cy="712.7" r="1.25" fill="#d70000"/>
<circle cx="163.4" cy="711.7" r="1.25" fill="#d70000"/>
<circle cx="166.5" cy="708.9" r="1.25" fill="#be0000"/>
<circle cx="168.0" cy="705.0" r="1.25" fill="#be0000"/>
<circle cx="172.5" cy="703.5" r="1.25" fill="#d50000"/>
<circle cx="171.6" cy="699.3" r="1.25" fill="#bb0000"/>
<circle cx="169.4" cy="695.6" r="1.25" fill="#bb0000"/>
<circle cx="166.1" cy="692.8" r="1.25" fill="#bb0000"/>
<circle cx="162.1" cy="691.2" r="1.25" fill="#bb0000"/>
<circle cx="157.8" cy="691.0" r="1.25" fill="#a70000"/>
<circle cx="153.7" cy="692.2" r="1.25" fill="#bb0000"/>
<circle cx="150.2" cy="694.7" r="1.25" fill="#a70000"/>
<circle cx="147.7" cy="698.2" r="1.25" fill="#bb0000"/>
<circle cx="146.4" cy="702.3" r="1.25" fill="#bb0000"/>
<circle cx="146.6" cy="706.6" r="1.25" fill="#a70000"/>
<circle cx="148.1" cy="710.6" r="1.25" fill="#bb0000"/>
<circle cx="150.9" cy="713.9" r="1.25" fill="#bb0000"/>
<circle cx="154.6" cy="716.1" r="1.25" fill="#a70000"/>
<circle cx="158.8" cy="717.0" r="1.25" fill="#d50000"/>
<circle cx="163.1" cy="716.5" r="1.25" fill="#bb0000"/>
<circle cx="166.9" cy="714.6" r="1.25" fill="#a70000"/>
<circle cx="170.0" cy="711.6" r="1.25" fill="#bb0000"/>
<circle cx="171.9" cy="707.7" r="1.25" fill="#bb0000"/>
<circle cx="176.7" cy="701.9" r="1.25" fill="#b90000"/>
<circle cx="175.6" cy="697.6" r="1.25" fill="#b90000"/>
<circle cx="173.5" cy="693.8" r="1.25" fill="#a50000"/>
<circle cx="170.6" cy="690.6" r="1.25" fill="#b90000"/>
<circle cx="166.9" cy="688.2" r="1.25" fill="#b90000"/>
<circle cx="162.7" cy="686.9" r="1.25" fill="#b90000"/>
<circle cx="158.4" cy="686.6" r="1.25" fill="#d30000"/>
<circle cx="154.1" cy="687.4" r="1.25" fill="#d30000"/>
<circle cx="150.1" cy="689.2" r="1.25" fill="#d30000"/>
<circle cx="146.8" cy="692.0" r="1.25" fill="#b90000"/>
<circle cx="144.2" cy="695.5" r="1.25" fill="#d30000"/>
<circle cx="142.6" cy="699.5" r="1.25" fill="#b90000"/>
<circle cx="142.0" cy="703.9" r="1.25" fill="#d30000"/>
<circle cx="142.5" cy="708.2" r="1.25" fill="#b90000"/>
<circle cx="144.1" cy="712.3" r="1.25" fill="#b90000"/>
<circle cx="146.6" cy="715.8" r="1.25" fill="#a50000"/>
<circle cx="150.0" cy="718.6" r="1.25" fill="#b90000"/>
<circle cx="153.9" cy="720.5" r="1.25" fill="#b90000"/>
<circle cx="158.2" cy="721.3" r="1.25" fill="#d30000"/>
<circle cx="162.6" cy="721.1" r="1.25" fill="#b90000"/>
<circle cx="166.7" cy="719.7" r="1.25" fill="#b90000"/>
<circle cx="170.4" cy="717.4" r="1.25" fill="#b90000"/>
<circle cx="173.4" cy="714.3" r="1.25" fill="#d30000"/>
<circle cx="175.6" cy="710.4" r="1.25" fill="#b90000"/>
<circle cx="176.7" cy="706.2" r="1.25" fill="#b90000"/>
<circle cx="180.8" cy="700.2" r="1.25" fill="#a30000"/>
<circle cx="179.7" cy="696.0" r="1.25" fill="#b70000"/>
<circle cx="177.6" cy="692.1" r="1.25" fill="#b70000"/>
<circle cx="174.9" cy="688.6" r="1.25" fill="#a30000"/>
<circle cx="171.5" cy="685.8" r="1.25" fill="#a30000"/>
<circle cx="167.6" cy="683.8" r="1.25" fill="#b70000"/>
<circle cx="163.3" cy="682.5" r="1.25" fill="#a30000"/>
<circle cx="159.0" cy="682.2" r="1.25" fill="#b70000"/>
<circle cx="154.6" cy="682.7" r="1.25" fill="#b70000"/>
<circle cx="150.4" cy="684.1" r="1.25" fill="#b70000"/>
<circle cx="146.6" cy="686.3" r="1.25" fill="#b70000"/>
<circle cx="143.3" cy="689.3" r="1.25" fill="#b70000"/>
<circle cx="140.7" cy="692.8" r="1.25" fill="#d10000"/>
<circle cx="138.8" cy="696.8" r="1.25" fill="#b70000"/>
<circle cx="137.8" cy="701.1" r="1.25" fill="#a30000"/>
<circle cx="137.7" cy="705.5" r="1.25" fill="#b70000"/>
<circle cx="138.4" cy="709.8" r="1.25" fill="#b70000"/>
<circle cx="140.1" cy="713.9" r="1.25" fill="#b70000"/>
<circle cx="142.5" cy="717.6" r="1.25" fill="#d10000"/>
<circle cx="145.6" cy="720.7" r="1.25" fill="#b70000"/>
<circle cx="149.2" cy="723.2" r="1.25" fill="#b70000"/>
<circle cx="153.3" cy="724.8" r="1.25" fill="#b70000"/>
<circle cx="157.6" cy="725.6" r="1.25" fill="#d10000"/>
<circle cx="162.0" cy="725.6" r="1.25" fill="#b70000"/>
<circle cx="166.3" cy="724.6" r="1.25" fill="#b70000"/>
<circle cx="170.3" cy="722.8" r="1.25" fill="#b70000"/>
<circle cx="173.9" cy="720.2" r="1.25" fill="#b70000"/>
<circle cx="176.9" cy="716.9" r="1.25" fill="#b70000"/>
<circle cx="179.1" cy="713.1" r="1.25" fill="#d10000"/>
<circle cx="180.6" cy="709.0" r="1.25" fill="#b70000"/>
<circle cx="181.2" cy="704.6" r="1.25" fill="#a30000"/>
<circle cx="185.5" cy="703.0" r="1.25" fill="#b50000"/>
<circle cx="185.0" cy="698.7" r="1.25" fill="#a10000"/>
<circle cx="183.8" cy="694.6" r="1.25" fill="#b50000"/>
<circle cx="181.9" cy="690.7" r="1.25" fill="#cf0000"/>
<circle cx="179.4" cy="687.2" r="1.25" fill="#b50000"/>
<circle cx="176.4" cy="684.1" r="1.25" fill="#b50000"/>
<circle cx="172.9" cy="681.6" r="1.25" fill="#b50000"/>
<circle cx="169.0" cy="679.7" r="1.25" fill="#b50000"/>
<circle cx="164.9" cy="678.4" r="1.25" fill="#b50000"/>
<circle cx="160.6" cy="677.9" r="1.25" fill="#a10000"/>
<circle cx="156.3" cy="678.0" r="1.25" fill="#a10000"/>
<circle cx="152.1" cy="678.9" r="1.25" fill="#b50000"/>
<circle cx="148.0" cy="680.4" r="1.25" fill="#b50000"/>
<circle cx="144.3" cy="682.6" r="1.25" fill="#a10000"/>
<circle cx="141.0" cy="685.4" r="1.25" fill="#a10000"/>
<circle cx="138.2" cy="688.7" r="1.25" fill="#b50000"/>
<circle cx="136.0" cy="692.4" r="1.25" fill="#b50000"/>
<circle cx="134.4" cy="696.4" r="1.25" fill="#b50000"/>
<circle cx="133.5" cy="700.6" r="1.25" fill="#b50000"/>
<circle cx="133.3" cy="704.9" r="1.25" fill="#b50000"/>
<circle cx="133.8" cy="709.2" r="1.25" fill="#cf0000"/>
<circle cx="135.0" cy="713.3" r="1.25" fill="#b50000"/>
<circle cx="136.9" cy="717.2" r="1.25" fill="#a10000"/>
<circle cx="139.4" cy="720.7" r="1.25" fill="#b50000"/>
<circle cx="142.4" cy="723.8" r="1.25" fill="#b50000"/>
<circle cx="145.9" cy="726.3" r="1.25" fill="#b50000"/>
<circle cx="149.8" cy="728.2" r="1.25" fill="#b50000"/>
<circle cx="153.9" cy="729.5" r="1.25" fill="#b50000"/>
<circle cx="158.2" cy="730.0" r="1.25" fill="#cf0000"/>
<circle cx="162.5" cy="729.9" r="1.25" fill="#cf0000"/>
<circle cx="166.7" cy="729.0" r="1.25" fill="#b50000"/>
<circle cx="170.8" cy="727.5" r="1.25" fill="#b50000"/>
<circle cx="174.5" cy="725.3" r="1.25" fill="#cf0000"/>
<circle cx="177.8" cy="722.5" r="1.25" fill="#cf0000"/>
<circle cx="180.6" cy="719.2" r="1.25" fill="#b50000"/>
<circle cx="182.8" cy="715.5" r="1.25" fill="#b50000"/>
<circle cx="184.4" cy="711.5" r="1.25" fill="#b50000"/>
<circle cx="185.3" cy="707.3" r="1.25" fill="#b50000"/>
<circle cx="189.8" cy="701.4" r="1.25" fill="#b30000"/>
<circle cx="189.1" cy="697.1" r="1.25" fill="#cd0000"/>
<circle cx="187.8" cy="692.9" r="1.25" fill="#cd0000"/>
<circle cx="186.0" cy="689.0" r="1.25" fill="#b30000"/>
<circle cx="183.6" cy="685.4" r="1.25" fill="#b30000"/>
<circle cx="180.7" cy="682.1" r="1.25" fill="#cd0000"/>
<circle cx="177.3" cy="679.3" r="1.25" fill="#cd0000"/>
<circle cx="173.7" cy="677.0" r="1.25" fill="#b30000"/>
<circle cx="169.7" cy="675.3" r="1.25" fill="#cd0000"/>
<circle cx="165.5" cy="674.1" r="1.25" fill="#b30000"/>
<circle cx="161.2" cy="673.5" r="1.25" fill="#b30000"/>
<circle cx="156.8" cy="673.6" r="1.25" fill="#b30000"/>
<circle cx="152.5" cy="674.3" r="1.25" fill="#b30000"/>
<circle cx="148.4" cy="675.5" r="1.25" fill="#9f0000"/>
<circle cx="144.5" cy="677.4" r="1.25" fill="#b30000"/>
<circle cx="140.8" cy="679.8" r="1.25" fill="#b30000"/>
<circle cx="137.6" cy="682.7" r="1.25" fill="#cd0000"/>
<circle cx="134.8" cy="686.0" r="1.25" fill="#b30000"/>
<circle cx="132.5" cy="689.7" r="1.25" fill="#b30000"/>
<circle cx="130.7" cy="693.7" r="1.25" fill="#b30000"/>
<circle cx="129.5" cy="697.9" r="1.25" fill="#b30000"/>
<circle cx="129.0" cy="702.2" r="1.25" fill="#9f0000"/>
<circle cx="129.0" cy="706.5" r="1.25" fill="#b30000"/>
<circle cx="129.7" cy="710.8" r="1.25" fill="#9f0000"/>
<circle cx="131.0" cy="715.0" r="1.25" fill="#9f0000"/>
<circle cx="132.8" cy="718.9" r="1.25" fill="#cd0000"/>
<circle cx="135.2" cy="722.5" r="1.25" fill="#b30000"/>
<circle cx="138.1" cy="725.8" r="1.25" fill="#9f0000"/>
<circle cx="141.5" cy="728.6" r="1.25" fill="#9f0000"/>
<circle cx="145.1" cy="730.9" r="1.25" fill="#b30000"/>
<circle cx="149.1" cy="732.6" r="1.25" fill="#9f0000"/>
<circle cx="153.3" cy="733.8" r="1.25" fill="#b30000"/>
<circle cx="157.6" cy="734.4" r="1.25" fill="#b30000"/>
<circle cx="162.0" cy="734.3" r="1.25" fill="#b30000"/>
<circle cx="166.3" cy="733.6" r="1.25" fill="#b30000"/>
<circle cx="170.4" cy="732.4" r="1.25" fill="#cd0000"/>
<circle cx="174.3" cy="730.5" r="1.25" fill="#b30000"/>
<circle cx="178.0" cy="728.1" r="1.25" fill="#b30000"/>
<circle cx="181.2" cy="725.2" r="1.25" fill="#9f0000"/>
<circle cx="184.0" cy="721.9" r="1.25" fill="#b30000"/>
<circle cx="186.3" cy="718.2" r="1.25" fill="#b30000"/>
<circle cx="188.1" cy="714.2" r="1.25" fill="#b30000"/>
<circle cx="189.3" cy="710.0" r="1.25" fill="#b30000"/>
<circle cx="189.8" cy="705.7" r="1.25" fill="#cd0000"/>
<circle cx="194.0" cy="699.8" r="1.25" fill="#b10000"/>
<circle cx="193.2" cy="695.5" r="1.25" fill="#ca0000"/>
<circle cx="191.8" cy="691.3" r="1.25" fill="#b10000"/>
<circle cx="190.0" cy="687.3" r="1.25" fill="#9d0000"/>
<circle cx="187.7" cy="683.6" r="1.25" fill="#b10000"/>
<circle cx="184.9" cy="680.2" r="1.25" fill="#b10000"/>
<circle cx="181.7" cy="677.2" r="1.25" fill="#b10000"/>
<circle cx="178.2" cy="674.6" r="1.25" fill="#9d0000"/>
<circle cx="174.4" cy="672.5" r="1.25" fill="#b10000"/>
<circle cx="170.3" cy="670.9" r="1.25" fill="#b10000"/>
<circle cx="166.1" cy="669.8" r="1.25" fill="#b10000"/>
<circle cx="161.8" cy="669.2" r="1.25" fill="#b10000"/>
<circle cx="157.4" cy="669.2" r="1.25" fill="#9d0000"/>
<circle cx="153.0" cy="669.7" r="1.25" fill="#b10000"/>
<circle cx="148.8" cy="670.8" r="1.25" fill="#ca0000"/>
<circle cx="144.7" cy="672.4" r="1.25" fill="#b10000"/>
<circle cx="140.9" cy="674.5" r="1.25" fill="#b10000"/>
<circle cx="137.3" cy="677.0" r="1.25" fill="#b10000"/>
<circle cx="134.1" cy="680.0" r="1.25" fill="#ca0000"/>
<circle cx="131.3" cy="683.3" r="1.25" fill="#ca0000"/>
<circle cx="129.0" cy="687.0" r="1.25" fill="#b10000"/>
<circle cx="127.1" cy="691.0" r="1.25" fill="#ca0000"/>
<circle cx="125.7" cy="695.1" r="1.25" fill="#b10000"/>
<circle cx="124.9" cy="699.4" r="1.25" fill="#b10000"/>
<circle cx="124.6" cy="703.8" r="1.25" fill="#b10000"/>
<circle cx="124.8" cy="708.1" r="1.25" fill="#b10000"/>
<circle cx="125.6" cy="712.4" r="1.25" fill="#b10000"/>
<circle cx="127.0" cy="716.6" r="1.25" fill="#b10000"/>
<circle cx="128.8" cy="720.6" r="1.25" fill="#ca0000"/>
<circle cx="131.1" cy="724.3" r="1.25" fill="#b10000"/>
<circle cx="133.9" cy="727.7" r="1.25" fill="#b10000"/>
<circle cx="137.1" cy="730.7" r="1.25" fill="#b10000"/>
<circle cx="140.6" cy="733.3" r="1.25" fill="#ca0000"/>
<circle cx="144.4" cy="735.4" r="1.25" fill="#b10000"/>
<circle cx="148.5" cy="737.0" r="1.25" fill="#b10000"/>
<circle cx="152.7" cy="738.1" r="1.25" fill="#b10000"/>
<circle cx="157.0" cy="738.7" r="1.25" fill="#b10000"/>
<circle cx="161.4" cy="738.7" r="1.25" fill="#ca0000"/>
<circle cx="165.8" cy="738.2" r="1.25" fill="#b10000"/>
<circle cx="170.0" cy="737.1" r="1.25" fill="#b10000"/>
<circle cx="174.1" cy="735.5" r="1.25" fill="#b10000"/>
<circle cx="177.9" cy="733.4" r="1.25" fill="#b10000"/>
<circle cx="181.5" cy="730.9" r="1.25" fill="#b10000"/>
<circle cx="184.7" cy="727.9" r="1.25" fill="#9d0000"/>
<circle cx="187.5" cy="724.6" r="1.25" fill="#b10000"/>
<circle cx="189.8" cy="720.9" r="1.25" fill="#b10000"/>
<circle cx="191.7" cy="716.9" r="1.25" fill="#9d0000"/>
<circle cx="193.1" cy="712.8" r="1.25" fill="#b10000"/>
<circle cx="193.9" cy="708.5" r="1.25" fill="#b10000"/>
<circle cx="194.2" cy="704.1" r="1.25" fill="#b10000"/>
<circle cx="198.6" cy="702.5" r="1.25" fill="#af0000"/>
<circle cx="198.2" cy="698.2" r="1.25" fill="#af0000"/>
<circle cx="197.3" cy="694.0" r="1.25" fill="#c80000"/>
<circle cx="196.0" cy="689.9" r="1.25" fill="#af0000"/>
<circle cx="194.2" cy="686.0" r="1.25" fill="#af0000"/>
<circle cx="192.0" cy="682.2" r="1.25" fill="#af0000"/>
<circle cx="189.4" cy="678.8" r="1.25" fill="#af0000"/>
<circle cx="186.5" cy="675.6" r="1.25" fill="#af0000"/>
<circle cx="183.2" cy="672.8" r="1.25" fill="#af0000"/>
<circle cx="179.6" cy="670.4" r="1.25" fill="#af0000"/>
<circle cx="175.8" cy="668.4" r="1.25" fill="#af0000"/>
<circle cx="171.8" cy="666.8" r="1.25" fill="#af0000"/>
<circle cx="167.6" cy="665.6" r="1.25" fill="#af0000"/>
<circle cx="163.4" cy="665.0" r="1.25" fill="#af0000"/>
<circle cx="159.1" cy="664.8" r="1.25" fill="#c80000"/>
<circle cx="154.7" cy="665.1" r="1.25" fill="#9a0000"/>
<circle cx="150.5" cy="665.8" r="1.25" fill="#af0000"/>
<circle cx="146.4" cy="667.0" r="1.25" fill="#af0000"/>
<circle cx="142.4" cy="668.7" r="1.25" fill="#af0000"/>
<circle cx="138.6" cy="670.8" r="1.25" fill="#af0000"/>
<circle cx="135.1" cy="673.2" r="1.25" fill="#af0000"/>
<circle cx="131.8" cy="676.1" r="1.25" fill="#af0000"/>
<circle cx="128.9" cy="679.3" r="1.25" fill="#af0000"/>
<circle cx="126.4" cy="682.8" r="1.25" fill="#c80000"/>
<circle cx="124.3" cy="686.6" r="1.25" fill="#af0000"/>
<circle cx="122.6" cy="690.5" r="1.25" fill="#9a0000"/>
<circle cx="121.3" cy="694.7" r="1.25" fill="#af0000"/>
<circle cx="120.5" cy="698.9" r="1.25" fill="#af0000"/>
<circle cx="120.2" cy="703.2" r="1.25" fill="#af0000"/>
<circle cx="120.4" cy="707.5" r="1.25" fill="#c80000"/>
<circle cx="121.0" cy="711.8" r="1.25" fill="#af0000"/>
<circle cx="122.1" cy="716.0" r="1.25" fill="#9a0000"/>
<circle cx="123.7" cy="720.0" r="1.25" fill="#af0000"/>
<circle cx="125.6" cy="723.8" r="1.25" fill="#af0000"/>
<circle cx="128.0" cy="727.4" r="1.25" fill="#af0000"/>
<circle cx="130.8" cy="730.7" r="1.25" fill="#af0000"/>
<circle cx="133.9" cy="733.7" r="1.25" fill="#af0000"/>
<circle cx="137.4" cy="736.3" r="1.25" fill="#c80000"/>
<circle cx="141.1" cy="738.6" r="1.25" fill="#c80000"/>
<circle cx="145.0" cy="740.4" r="1.25" fill="#af0000"/>
<circle cx="149.1" cy="741.7" r="1.25" fill="#af0000"/>
<circle cx="153.3" cy="742.6" r="1.25" fill="#9a0000"/>
<circle cx="157.6" cy="743.1" r="1.25" fill="#af0000"/>
<circle cx="161.9" cy="743.0" r="1.25" fill="#af0000"/>
<circle cx="166.2" cy="742.5" r="1.25" fill="#af0000"/>
<circle cx="170.4" cy="741.6" r="1.25" fill="#af0000"/>
<circle cx="174.5" cy="740.1" r="1.25" fill="#af0000"/>
<circle cx="178.3" cy="738.2" r="1.25" fill="#af0000"/>
<circle cx="182.0" cy="735.9" r="1.25" fill="#9a0000"/>
<circle cx="185.4" cy="733.3" r="1.25" fill="#af0000"/>
<circle cx="188.5" cy="730.2" r="1.25" fill="#c80000"/>
<circle cx="191.2" cy="726.9" r="1.25" fill="#af0000"/>
<circle cx="193.5" cy="723.2" r="1.25" fill="#af0000"/>
<circle cx="195.4" cy="719.4" r="1.25" fill="#9a0000"/>
<circle cx="196.9" cy="715.3" r="1.25" fill="#9a0000"/>
<circle cx="197.9" cy="711.1" r="1.25" fill="#9a0000"/>
<circle cx="198.5" cy="706.8" r="1.25" fill="#af0000"/>
<circle cx="202.8" cy="700.9" r="1.25" fill="#ad0000"/>
<circle cx="202.3" cy="696.6" r="1.25" fill="#ad0000"/>
<circle cx="201.4" cy="692.4" r="1.25" fill="#ad0000"/>
<circle cx="200.0" cy="688.2" r="1.25" fill="#ad0000"/>
<circle cx="198.2" cy="684.3" r="1.25" fill="#ad0000"/>
<circle cx="196.1" cy="680.5" r="1.25" fill="#c60000"/>
<circle cx="193.6" cy="677.0" r="1.25" fill="#ad0000"/>
<circle cx="190.7" cy="673.7" r="1.25" fill="#ad0000"/>
<circle cx="187.5" cy="670.7" r="1.25" fill="#ad0000"/>
<circle cx="184.1" cy="668.1" r="1.25" fill="#ad0000"/>
<circle cx="180.4" cy="665.8" r="1.25" fill="#ad0000"/>
<circle cx="176.5" cy="663.9" r="1.25" fill="#ad0000"/>
<circle cx="172.4" cy="662.4" r="1.25" fill="#ad0000"/>
<circle cx="168.2" cy="661.3" r="1.25" fill="#ad0000"/>
<circle cx="164.0" cy="660.7" r="1.25" fill="#ad0000"/>
<circle cx="159.6" cy="660.4" r="1.25" fill="#ad0000"/>
<circle cx="155.3" cy="660.6" r="1.25" fill="#ad0000"/>
<circle cx="151.0" cy="661.2" r="1.25" fill="#ad0000"/>
<circle cx="146.8" cy="662.3" r="1.25" fill="#980000"/>
<circle cx="142.7" cy="663.8" r="1.25" fill="#980000"/>
<circle cx="138.8" cy="665.6" r="1.25" fill="#ad0000"/>
<circle cx="135.1" cy="667.9" r="1.25" fill="#ad0000"/>
<circle cx="131.6" cy="670.5" r="1.25" fill="#ad0000"/>
<circle cx="128.4" cy="673.4" r="1.25" fill="#980000"/>
<circle cx="125.5" cy="676.6" r="1.25" fill="#980000"/>
<circle cx="123.0" cy="680.2" r="1.25" fill="#c60000"/>
<circle cx="120.8" cy="683.9" r="1.25" fill="#ad0000"/>
<circle cx="119.0" cy="687.8" r="1.25" fill="#ad0000"/>
<circle cx="117.6" cy="692.0" r="1.25" fill="#ad0000"/>
<circle cx="116.6" cy="696.2" r="1.25" fill="#c60000"/>
<circle cx="116.0" cy="700.5" r="1.25" fill="#980000"/>
<circle cx="115.9" cy="704.8" r="1.25" fill="#c60000"/>
<circle cx="116.2" cy="709.1" r="1.25" fill="#ad0000"/>
<circle cx="116.9" cy="713.4" r="1.25" fill="#ad0000"/>
<circle cx="118.1" cy="717.6" r="1.25" fill="#c60000"/>
<circle cx="119.6" cy="721.7" r="1.25" fill="#ad0000"/>
<circle cx="121.6" cy="725.5" r="1.25" fill="#ad0000"/>
<circle cx="123.9" cy="729.2" r="1.25" fill="#ad0000"/>
<circle cx="126.6" cy="732.6" r="1.25" fill="#980000"/>
<circle cx="129.6" cy="735.7" r="1.25" fill="#c60000"/>
<circle cx="132.9" cy="738.5" r="1.25" fill="#ad0000"/>
<circle cx="136.5" cy="741.0" r="1.25" fill="#ad0000"/>
<circle cx="140.3" cy="743.1" r="1.25" fill="#980000"/>
<circle cx="144.3" cy="744.8" r="1.25" fill="#ad0000"/>
<circle cx="148.4" cy="746.1" r="1.25" fill="#ad0000"/>
<circle cx="152.7" cy="747.0" r="1.25" fill="#ad0000"/>
<circle cx="157.0" cy="747.4" r="1.25" fill="#ad0000"/>
<circle cx="161.4" cy="747.4" r="1.25" fill="#980000"/>
<circle cx="165.7" cy="747.0" r="1.25" fill="#c60000"/>
<circle cx="169.9" cy="746.2" r="1.25" fill="#980000"/>
<circle cx="174.1" cy="744.9" r="1.25" fill="#ad0000"/>
<circle cx="178.1" cy="743.3" r="1.25" fill="#980000"/>
<circle cx="181.9" cy="741.2" r="1.25" fill="#ad0000"/>
<circle cx="185.5" cy="738.8" r="1.25" fill="#ad0000"/>
<circle cx="188.8" cy="736.0" r="1.25" fill="#980000"/>
<circle cx="191.9" cy="732.9" r="1.25" fill="#c60000"/>
<circle cx="194.6" cy="729.5" r="1.25" fill="#980000"/>
<circle cx="197.0" cy="725.9" r="1.25" fill="#980000"/>
<circle cx="199.0" cy="722.1" r="1.25" fill="#c60000"/>
<circle cx="200.6" cy="718.0" r="1.25" fill="#ad0000"/>
<circle cx="201.8" cy="713.8" r="1.25" fill="#980000"/>
<circle cx="202.6" cy="709.6" r="1.25" fill="#c60000"/>
<circle cx="202.9" cy="705.3" r="1.25" fill="#980000"/>
<circle cx="207.3" cy="703.6" r="1.25" fill="#ab0000"/>
<circle cx="207.1" cy="699.3" r="1.25" fill="#ab0000"/>
<circle cx="206.4" cy="695.0" r="1.25" fill="#ab0000"/>
<circle cx="205.4" cy="690.7" r="1.25" fill="#960000"/>
<circle cx="204.0" cy="686.6" r="1.25" fill="#c40000"/>
<circle cx="202.3" cy="682.6" r="1.25" fill="#ab0000"/>
<circle cx="200.2" cy="678.8" r="1.25" fill="#ab0000"/>
<circle cx="197.7" cy="675.2" r="1.25" fill="#ab0000"/>
<circle cx="194.9" cy="671.8" r="1.25" fill="#c40000"/>
<circle cx="191.9" cy="668.7" r="1.25" fill="#960000"/>
<circle cx="188.5" cy="665.9" r="1.25" fill="#c40000"/>
<circle cx="184.9" cy="663.5" r="1.25" fill="#ab0000"/>
<circle cx="181.2" cy="661.3" r="1.25" fill="#ab0000"/>
<circle cx="177.2" cy="659.5" r="1.25" fill="#ab0000"/>
<circle cx="173.1" cy="658.1" r="1.25" fill="#c40000"/>
<circle cx="168.8" cy="657.0" r="1.25" fill="#ab0000"/>
<circle cx="164.5" cy="656.3" r="1.25" fill="#960000"/>
<circle cx="160.2" cy="656.1" r="1.25" fill="#960000"/>
<circle cx="155.8" cy="656.2" r="1.25" fill="#ab0000"/>
<circle cx="151.5" cy="656.7" r="1.25" fill="#ab0000"/>
<circle cx="147.2" cy="657.6" r="1.25" fill="#c40000"/>
<circle cx="143.1" cy="658.9" r="1.25" fill="#ab0000"/>
<circle cx="139.1" cy="660.6" r="1.25" fill="#ab0000"/>
<circle cx="135.2" cy="662.6" r="1.25" fill="#ab0000"/>
<circle cx="131.5" cy="665.0" r="1.25" fill="#ab0000"/>
<circle cx="128.1" cy="667.7" r="1.25" fill="#ab0000"/>
<circle cx="124.9" cy="670.7" r="1.25" fill="#ab0000"/>
<circle cx="122.1" cy="674.0" r="1.25" fill="#ab0000"/>
<circle cx="119.5" cy="677.5" r="1.25" fill="#ab0000"/>
<circle cx="117.3" cy="681.2" r="1.25" fill="#ab0000"/>
<circle cx="115.4" cy="685.2" r="1.25" fill="#c40000"/>
<circle cx="113.8" cy="689.2" r="1.25" fill="#ab0000"/>
<circle cx="112.7" cy="693.4" r="1.25" fill="#ab0000"/>
<circle cx="111.9" cy="697.7" r="1.25" fill="#c40000"/>
<circle cx="111.6" cy="702.1" r="1.25" fill="#ab0000"/>
<circle cx="111.6" cy="706.4" r="1.25" fill="#ab0000"/>
<circle cx="112.0" cy="710.8" r="1.25" fill="#ab0000"/>
<circle cx="112.8" cy="715.1" r="1.25" fill="#ab0000"/>
<circle cx="114.0" cy="719.2" r="1.25" fill="#c40000"/>
<circle cx="115.6" cy="723.3" r="1.25" fill="#ab0000"/>
<circle cx="117.5" cy="727.2" r="1.25" fill="#ab0000"/>
<circle cx="119.8" cy="730.9" r="1.25" fill="#ab0000"/>
<circle cx="122.5" cy="734.4" r="1.25" fill="#c40000"/>
<circle cx="125.4" cy="737.6" r="1.25" fill="#ab0000"/>
<circle cx="128.6" cy="740.6" r="1.25" fill="#ab0000"/>
<circle cx="132.0" cy="743.2" r="1.25" fill="#960000"/>
<circle cx="135.7" cy="745.6" r="1.25" fill="#ab0000"/>
<circle cx="139.6" cy="747.5" r="1.25" fill="#ab0000"/>
<circle cx="143.7" cy="749.2" r="1.25" fill="#ab0000"/>
<circle cx="147.8" cy="750.4" r="1.25" fill="#ab0000"/>
<circle cx="152.1" cy="751.3" r="1.25" fill="#c40000"/>
<circle cx="156.4" cy="751.7" r="1.25" fill="#960000"/>
<circle cx="160.8" cy="751.8" r="1.25" fill="#ab0000"/>
<circle cx="165.1" cy="751.5" r="1.25" fill="#ab0000"/>
<circle cx="169.4" cy="750.8" r="1.25" fill="#ab0000"/>
<circle cx="173.7" cy="749.7" r="1.25" fill="#960000"/>
<circle cx="177.8" cy="748.2" r="1.25" fill="#ab0000"/>
<circle cx="181.7" cy="746.3" r="1.25" fill="#ab0000"/>
<circle cx="185.5" cy="744.1" r="1.25" fill="#ab0000"/>
<circle cx="189.0" cy="741.6" r="1.25" fill="#ab0000"/>
<circle cx="192.3" cy="738.7" r="1.25" fill="#ab0000"/>
<circle cx="195.3" cy="735.6" r="1.25" fill="#ab0000"/>
<circle cx="198.1" cy="732.2" r="1.25" fill="#c40000"/>
<circle cx="200.5" cy="728.6" r="1.25" fill="#c40000"/>
<circle cx="202.5" cy="724.7" r="1.25" fill="#ab0000"/>
<circle cx="204.2" cy="720.7" r="1.25" fill="#960000"/>
<circle cx="205.6" cy="716.6" r="1.25" fill="#c40000"/>
<circle cx="206.5" cy="712.3" r="1.25" fill="#ab0000"/>
<circle cx="207.1" cy="708.0" r="1.25" fill="#ab0000"/>
<circle cx="211.6" cy="702.0" r="1.25" fill="#a90000"/>
<circle cx="211.3" cy="697.7" r="1.25" fill="#a90000"/>
<circle cx="210.5" cy="693.3" r="1.25" fill="#a90000"/>
<circle cx="209.5" cy="689.1" r="1.25" fill="#a90000"/>
<circle cx="208.1" cy="685.0" r="1.25" fill="#a90000"/>
<circle cx="206.3" cy="681.0" r="1.25" fill="#c20000"/>
<circle cx="204.2" cy="677.1" r="1.25" fill="#a90000"/>
<circle cx="201.8" cy="673.5" r="1.25" fill="#940000"/>
<circle cx="199.1" cy="670.0" r="1.25" fill="#a90000"/>
<circle cx="196.1" cy="666.8" r="1.25" fill="#a90000"/>
<circle cx="192.9" cy="663.9" r="1.25" fill="#a90000"/>
<circle cx="189.4" cy="661.2" r="1.25" fill="#a90000"/>
<circle cx="185.7" cy="658.8" r="1.25" fill="#940000"/>
<circle cx="181.9" cy="656.8" r="1.25" fill="#a90000"/>
<circle cx="177.9" cy="655.1" r="1.25" fill="#c20000"/>
<circle cx="173.7" cy="653.7" r="1.25" fill="#a90000"/>
<circle cx="169.4" cy="652.7" r="1.25" fill="#a90000"/>
<circle cx="165.1" cy="652.0" r="1.25" fill="#a90000"/>
<circle cx="160.8" cy="651.7" r="1.25" fill="#a90000"/>
<circle cx="156.4" cy="651.8" r="1.25" fill="#c20000"/>
<circle cx="152.0" cy="652.2" r="1.25" fill="#a90000"/>
<circle cx="147.7" cy="653.0" r="1.25" fill="#a90000"/>
<circle cx="143.5" cy="654.2" r="1.25" fill="#a90000"/>
<circle cx="139.4" cy="655.7" r="1.25" fill="#c20000"/>
<circle cx="135.4" cy="657.5" r="1.25" fill="#a90000"/>
<circle cx="131.6" cy="659.7" r="1.25" fill="#a90000"/>
<circle cx="128.0" cy="662.2" r="1.25" fill="#a90000"/>
<circle cx="124.6" cy="665.0" r="1.25" fill="#c20000"/>
<circle cx="121.5" cy="668.0" r="1.25" fill="#c20000"/>
<circle cx="118.6" cy="671.3" r="1.25" fill="#a90000"/>
<circle cx="116.0" cy="674.8" r="1.25" fill="#a90000"/>
<circle cx="113.8" cy="678.6" r="1.25" fill="#940000"/>
<circle cx="111.8" cy="682.5" r="1.25" fill="#c20000"/>
<circle cx="110.2" cy="686.5" r="1.25" fill="#c20000"/>
<circle cx="108.9" cy="690.7" r="1.25" fill="#a90000"/>
<circle cx="107.9" cy="695.0" r="1.25" fill="#c20000"/>
<circle cx="107.4" cy="699.3" r="1.25" fill="#c20000"/>
<circle cx="107.2" cy="703.7" r="1.25" fill="#a90000"/>
<circle cx="107.3" cy="708.1" r="1.25" fill="#a90000"/>
<circle cx="107.9" cy="712.4" r="1.25" fill="#a90000"/>
<circle cx="108.7" cy="716.7" r="1.25" fill="#a90000"/>
<circle cx="110.0" cy="720.9" r="1.25" fill="#a90000"/>
<circle cx="111.6" cy="725.0" r="1.25" fill="#a90000"/>
<circle cx="113.5" cy="728.9" r="1.25" fill="#a90000"/>
<circle cx="115.7" cy="732.6" r="1.25" fill="#c20000"/>
<circle cx="118.3" cy="736.2" r="1.25" fill="#a90000"/>
<circle cx="121.1" cy="739.5" r="1.25" fill="#a90000"/>
<circle cx="124.3" cy="742.6" r="1.25" fill="#c20000"/>
<circle cx="127.6" cy="745.4" r="1.25" fill="#a90000"/>
<circle cx="131.2" cy="747.9" r="1.25" fill="#c20000"/>
<circle cx="135.0" cy="750.1" r="1.25" fill="#940000"/>
<circle cx="138.9" cy="752.0" r="1.25" fill="#c20000"/>
<circle cx="143.0" cy="753.5" r="1.25" fill="#c20000"/>
<circle cx="147.2" cy="754.7" r="1.25" fill="#c20000"/>
<circle cx="151.5" cy="755.6" r="1.25" fill="#a90000"/>
<circle cx="155.9" cy="756.1" r="1.25" fill="#940000"/>
<circle cx="160.2" cy="756.2" r="1.25" fill="#a90000"/>
<circle cx="164.6" cy="755.9" r="1.25" fill="#a90000"/>
<circle cx="168.9" cy="755.3" r="1.25" fill="#c20000"/>
<circle cx="173.2" cy="754.3" r="1.25" fill="#a90000"/>
<circle cx="177.4" cy="753.0" r="1.25" fill="#a90000"/>
<circle cx="181.4" cy="751.3" r="1.25" fill="#c20000"/>
<circle cx="185.3" cy="749.3" r="1.25" fill="#a90000"/>
<circle cx="189.0" cy="747.0" r="1.25" fill="#a90000"/>
<circle cx="192.5" cy="744.4" r="1.25" fill="#a90000"/>
<circle cx="195.8" cy="741.5" r="1.25" fill="#a90000"/>
<circle cx="198.8" cy="738.3" r="1.25" fill="#c20000"/>
<circle cx="201.5" cy="734.9" r="1.25" fill="#940000"/>
<circle cx="203.9" cy="731.2" r="1.25" fill="#c20000"/>
<circle cx="206.1" cy="727.4" r="1.25" fill="#a90000"/>
<circle cx="207.9" cy="723.4" r="1.25" fill="#940000"/>
<circle cx="209.3" cy="719.3" r="1.25" fill="#c20000"/>
<circle cx="210.4" cy="715.1" r="1.25" fill="#a90000"/>
<circle cx="211.2" cy="710.8" r="1.25" fill="#940000"/>
<circle cx="211.6" cy="706.4" r="1.25" fill="#a90000"/>
<circle cx="215.9" cy="700.4" r="1.25" fill="#c00000"/>
<circle cx="215.4" cy="696.1" r="1.25" fill="#a60000"/>
<circle cx="214.7" cy="691.9" r="1.25" fill="#c00000"/>
<circle cx="213.6" cy="687.7" r="1.25" fill="#c00000"/>
<circle cx="212.2" cy="683.6" r="1.25" fill="#a60000"/>
<circle cx="210.5" cy="679.6" r="1.25" fill="#c00000"/>
<circle cx="208.5" cy="675.7" r="1.25" fill="#a60000"/>
<circle cx="206.2" cy="672.1" r="1.25" fill="#a60000"/>
<circle cx="203.6" cy="668.6" r="1.25" fill="#a60000"/>
<circle cx="200.7" cy="665.3" r="1.25" fill="#a60000"/>
<circle cx="197.7" cy="662.3" r="1.25" fill="#c00000"/>
<circle cx="194.4" cy="659.4" r="1.25" fill="#a60000"/>
<circle cx="190.8" cy="656.9" r="1.25" fill="#920000"/>
<circle cx="187.2" cy="654.6" r="1.25" fill="#a60000"/>
<circle cx="183.3" cy="652.7" r="1.25" fill="#a60000"/>
<circle cx="179.3" cy="651.0" r="1.25" fill="#920000"/>
<circle cx="175.2" cy="649.6" r="1.25" fill="#920000"/>
<circle cx="171.0" cy="648.6" r="1.25" fill="#a60000"/>
<circle cx="166.7" cy="647.8" r="1.25" fill="#a60000"/>
<circle cx="162.4" cy="647.4" r="1.25" fill="#a60000"/>
<circle cx="158.1" cy="647.4" r="1.25" fill="#a60000"/>
<circle cx="153.7" cy="647.6" r="1.25" fill="#a60000"/>
<circle cx="149.4" cy="648.2" r="1.25" fill="#a60000"/>
<circle cx="145.2" cy="649.2" r="1.25" fill="#c00000"/>
<circle cx="141.0" cy="650.4" r="1.25" fill="#920000"/>
<circle cx="137.0" cy="652.0" r="1.25" fill="#a60000"/>
<circle cx="133.1" cy="653.8" r="1.25" fill="#a60000"/>
<circle cx="129.3" cy="656.0" r="1.25" fill="#a60000"/>
<circle cx="125.8" cy="658.5" r="1.25" fill="#920000"/>
<circle cx="122.4" cy="661.2" r="1.25" fill="#a60000"/>
<circle cx="119.2" cy="664.1" r="1.25" fill="#a60000"/>
<circle cx="116.3" cy="667.3" r="1.25" fill="#a60000"/>
<circle cx="113.6" cy="670.7" r="1.25" fill="#a60000"/>
<circle cx="111.2" cy="674.3" r="1.25" fill="#920000"/>
<circle cx="109.1" cy="678.1" r="1.25" fill="#920000"/>
<circle cx="107.2" cy="682.0" r="1.25" fill="#c00000"/>
<circle cx="105.7" cy="686.1" r="1.25" fill="#a60000"/>
<circle cx="104.5" cy="690.3" r="1.25" fill="#a60000"/>
<circle cx="103.6" cy="694.5" r="1.25" fill="#a60000"/>
<circle cx="103.0" cy="698.8" r="1.25" fill="#a60000"/>
<circle cx="102.8" cy="703.1" r="1.25" fill="#920000"/>
<circle cx="102.9" cy="707.5" r="1.25" fill="#920000"/>
<circle cx="103.4" cy="711.8" r="1.25" fill="#a60000"/>
<circle cx="104.1" cy="716.0" r="1.25" fill="#920000"/>
<circle cx="105.2" cy="720.2" r="1.25" fill="#920000"/>
<circle cx="106.6" cy="724.3" r="1.25" fill="#a60000"/>
<circle cx="108.3" cy="728.3" r="1.25" fill="#a60000"/>
<circle cx="110.3" cy="732.2" r="1.25" fill="#a60000"/>
<circle cx="112.6" cy="735.8" r="1.25" fill="#a60000"/>
<circle cx="115.2" cy="739.3" r="1.25" fill="#a60000"/>
<circle cx="118.1" cy="742.6" r="1.25" fill="#a60000"/>
<circle cx="121.1" cy="745.6" r="1.25" fill="#920000"/>
<circle cx="124.4" cy="748.5" r="1.25" fill="#a60000"/>
<circle cx="128.0" cy="751.0" r="1.25" fill="#c00000"/>
<circle cx="131.6" cy="753.3" r="1.25" fill="#a60000"/>
<circle cx="135.5" cy="755.2" r="1.25" fill="#a60000"/>
<circle cx="139.5" cy="756.9" r="1.25" fill="#c00000"/>
<circle cx="143.6" cy="758.3" r="1.25" fill="#c00000"/>
<circle cx="147.8" cy="759.3" r="1.25" fill="#a60000"/>
<circle cx="152.1" cy="760.1" r="1.25" fill="#a60000"/>
<circle cx="156.4" cy="760.5" r="1.25" fill="#a60000"/>
<circle cx="160.7" cy="760.5" r="1.25" fill="#a60000"/>
<circle cx="165.1" cy="760.3" r="1.25" fill="#a60000"/>
<circle cx="169.4" cy="759.7" r="1.25" fill="#a60000"/>
<circle cx="173.6" cy="758.7" r="1.25" fill="#a60000"/>
<circle cx="177.8" cy="757.5" r="1.25" fill="#c00000"/>
<circle cx="181.8" cy="755.9" r="1.25" fill="#a60000"/>
<circle cx="185.7" cy="754.1" r="1.25" fill="#a60000"/>
<circle cx="189.5" cy="751.9" r="1.25" fill="#a60000"/>
<circle cx="193.0" cy="749.4" r="1.25" fill="#c00000"/>
<circle cx="196.4" cy="746.7" r="1.25" fill="#a60000"/>
<circle cx="199.6" cy="743.8" r="1.25" fill="#a60000"/>
<circle cx="202.5" cy="740.6" r="1.25" fill="#a60000"/>
<circle cx="205.2" cy="737.2" r="1.25" fill="#a60000"/>
<circle cx="207.6" cy="733.6" r="1.25" fill="#c00000"/>
<circle cx="209.7" cy="729.8" r="1.25" fill="#c00000"/>
<circle cx="211.6" cy="725.9" r="1.25" fill="#920000"/>
<circle cx="213.1" cy="721.8" r="1.25" fill="#a60000"/>
<circle cx="214.3" cy="717.6" r="1.25" fill="#a60000"/>
<circle cx="215.2" cy="713.4" r="1.25" fill="#a60000"/>
<circle cx="215.8" cy="709.1" r="1.25" fill="#a60000"/>
<circle cx="216.0" cy="704.8" r="1.25" fill="#c00000"/>
<circle cx="220.3" cy="703.2" r="1.25" fill="#a40000"/>
<circle cx="220.1" cy="698.8" r="1.25" fill="#be0000"/>
<circle cx="219.6" cy="694.5" r="1.25" fill="#be0000"/>
<circle cx="218.8" cy="690.2" r="1.25" fill="#a40000"/>
<circle cx="217.6" cy="686.0" r="1.25" fill="#900000"/>
<circle cx="216.2" cy="681.9" r="1.25" fill="#be0000"/>
<circle cx="214.5" cy="677.9" r="1.25" fill="#a40000"/>
<circle cx="212.5" cy="674.1" r="1.25" fill="#a40000"/>
<circle cx="210.2" cy="670.3" r="1.25" fill="#a40000"/>
<circle cx="207.7" cy="666.8" r="1.25" fill="#900000"/>
<circle cx="204.9" cy="663.5" r="1.25" fill="#900000"/>
<circle cx="201.9" cy="660.3" r="1.25" fill="#a40000"/>
<circle cx="198.7" cy="657.4" r="1.25" fill="#a40000"/>
<circle cx="195.3" cy="654.7" r="1.25" fill="#a40000"/>
<circle cx="191.7" cy="652.3" r="1.25" fill="#a40000"/>
<circle cx="187.9" cy="650.1" r="1.25" fill="#a40000"/>
<circle cx="184.0" cy="648.2" r="1.25" fill="#a40000"/>
<circle cx="180.0" cy="646.6" r="1.25" fill="#a40000"/>
<circle cx="175.8" cy="645.3" r="1.25" fill="#a40000"/>
<circle cx="171.6" cy="644.2" r="1.25" fill="#be0000"/>
<circle cx="167.3" cy="643.5" r="1.25" fill="#a40000"/>
<circle cx="163.0" cy="643.1" r="1.25" fill="#be0000"/>
<circle cx="158.6" cy="643.0" r="1.25" fill="#a40000"/>
<circle cx="154.3" cy="643.2" r="1.25" fill="#a40000"/>
<circle cx="150.0" cy="643.7" r="1.25" fill="#a40000"/>
<circle cx="145.7" cy="644.6" r="1.25" fill="#a40000"/>
<circle cx="141.5" cy="645.7" r="1.25" fill="#a40000"/>
<circle cx="137.4" cy="647.1" r="1.25" fill="#a40000"/>
<circle cx="133.4" cy="648.8" r="1.25" fill="#a40000"/>
<circle cx="129.5" cy="650.8" r="1.25" fill="#a40000"/>
<circle cx="125.8" cy="653.1" r="1.25" fill="#a40000"/>
<circle cx="122.3" cy="655.6" r="1.25" fill="#a40000"/>
<circle cx="118.9" cy="658.4" r="1.25" fill="#a40000"/>
<circle cx="115.8" cy="661.4" r="1.25" fill="#a40000"/>
<circle cx="112.8" cy="664.6" r="1.25" fill="#900000"/>
<circle cx="110.1" cy="668.1" r="1.25" fill="#a40000"/>
<circle cx="107.7" cy="671.7" r="1.25" fill="#a40000"/>
<circle cx="105.5" cy="675.4" r="1.25" fill="#a40000"/>
<circle cx="103.6" cy="679.3" r="1.25" fill="#a40000"/>
<circle cx="102.0" cy="683.4" r="1.25" fill="#a40000"/>
<circle cx="100.7" cy="687.5" r="1.25" fill="#be0000"/>
<circle cx="99.7" cy="691.8" r="1.25" fill="#be0000"/>
<circle cx="99.0" cy="696.1" r="1.25" fill="#be0000"/>
<circle cx="98.6" cy="700.4" r="1.25" fill="#a40000"/>
<circle cx="98.5" cy="704.7" r="1.25" fill="#a40000"/>
<circle cx="98.7" cy="709.1" r="1.25" fill="#900000"/>
<circle cx="99.2" cy="713.4" r="1.25" fill="#900000"/>
<circle cx="100.0" cy="717.7" r="1.25" fill="#a40000"/>
<circle cx="101.2" cy="721.9" r="1.25" fill="#be0000"/>
<circle cx="102.6" cy="726.0" r="1.25" fill="#900000"/>
<circle cx="104.3" cy="730.0" r="1.25" fill="#a40000"/>
<circle cx="106.3" cy="733.8" r="1.25" fill="#a40000"/>
<circle cx="108.6" cy="737.6" r="1.25" fill="#a40000"/>
<circle cx="111.1" cy="741.1" r="1.25" fill="#be0000"/>
<circle cx="113.9" cy="744.4" r="1.25" fill="#be0000"/>
<circle cx="116.9" cy="747.6" r="1.25" fill="#a40000"/>
<circle cx="120.1" cy="750.5" r="1.25" fill="#a40000"/>
<circle cx="123.5" cy="753.2" r="1.25" fill="#a40000"/>
<circle cx="127.1" cy="755.6" r="1.25" fill="#a40000"/>
<circle cx="130.9" cy="757.8" r="1.25" fill="#be0000"/>
<circle cx="134.8" cy="759.7" r="1.25" fill="#a40000"/>
<circle cx="138.8" cy="761.3" r="1.25" fill="#a40000"/>
<circle cx="143.0" cy="762.6" r="1.25" fill="#a40000"/>
<circle cx="147.2" cy="763.7" r="1.25" fill="#900000"/>
<circle cx="151.5" cy="764.4" r="1.25" fill="#a40000"/>
<circle cx="155.8" cy="764.8" r="1.25" fill="#900000"/>
<circle cx="160.2" cy="764.9" r="1.25" fill="#a40000"/>
<circle cx="164.5" cy="764.7" r="1.25" fill="#a40000"/>
<circle cx="168.8" cy="764.2" r="1.25" fill="#a40000"/>
<circle cx="173.1" cy="763.3" r="1.25" fill="#a40000"/>
<circle cx="177.3" cy="762.2" r="1.25" fill="#a40000"/>
<circle cx="181.4" cy="760.8" r="1.25" fill="#a40000"/>
<circle cx="185.4" cy="759.1" r="1.25" fill="#a40000"/>
<circle cx="189.3" cy="757.1" r="1.25" fill="#a40000"/>
<circle cx="193.0" cy="754.8" r="1.25" fill="#a40000"/>
<circle cx="196.5" cy="752.3" r="1.25" fill="#a40000"/>
<circle cx="199.9" cy="749.5" r="1.25" fill="#be0000"/>
<circle cx="203.0" cy="746.5" r="1.25" fill="#a40000"/>
<circle cx="206.0" cy="743.3" r="1.25" fill="#be0000"/>
<circle cx="208.7" cy="739.8" r="1.25" fill="#a40000"/>
<circle cx="211.1" cy="736.2" r="1.25" fill="#a40000"/>
<circle cx="213.3" cy="732.5" r="1.25" fill="#a40000"/>
<circle cx="215.2" cy="728.6" r="1.25" fill="#be0000"/>
<circle cx="216.8" cy="724.5" r="1.25" fill="#a40000"/>
<circle cx="218.1" cy="720.4" r="1.25" fill="#a40000"/>
<circle cx="219.1" cy="716.1" r="1.25" fill="#900000"/>
<circle cx="219.8" cy="711.8" r="1.25" fill="#900000"/>
<circle cx="220.2" cy="707.5" r="1.25" fill="#a40000"/>
<circle cx="224.6" cy="701.6" r="1.25" fill="#a20000"/>
<circle cx="224.3" cy="697.2" r="1.25" fill="#a20000"/>
<circle cx="223.7" cy="692.9" r="1.25" fill="#a20000"/>
<circle cx="222.9" cy="688.6" r="1.25" fill="#a20000"/>
<circle cx="221.7" cy="684.4" r="1.25" fill="#bc0000"/>
<circle cx="220.3" cy="680.3" r="1.25" fill="#8e0000"/>
<circle cx="218.5" cy="676.3" r="1.25" fill="#bc0000"/>
<circle cx="216.6" cy="672.4" r="1.25" fill="#a20000"/>
<circle cx="214.3" cy="668.6" r="1.25" fill="#a20000"/>
<circle cx="211.8" cy="665.0" r="1.25" fill="#a20000"/>
<circle cx="209.1" cy="661.6" r="1.25" fill="#8e0000"/>
<circle cx="206.2" cy="658.4" r="1.25" fill="#a20000"/>
<circle cx="203.0" cy="655.4" r="1.25" fill="#a20000"/>
<circle cx="199.7" cy="652.6" r="1.25" fill="#bc0000"/>
<circle cx="196.2" cy="650.0" r="1.25" fill="#8e0000"/>
<circle cx="192.5" cy="647.7" r="1.25" fill="#a20000"/>
<circle cx="188.7" cy="645.6" r="1.25" fill="#a20000"/>
<circle cx="184.7" cy="643.8" r="1.25" fill="#8e0000"/>
<circle cx="180.6" cy="642.2" r="1.25" fill="#8e0000"/>
<circle cx="176.4" cy="640.9" r="1.25" fill="#a20000"/>
<circle cx="172.2" cy="639.9" r="1.25" fill="#a20000"/>
<circle cx="167.9" cy="639.2" r="1.25" fill="#a20000"/>
<circle cx="163.5" cy="638.8" r="1.25" fill="#a20000"/>
<circle cx="159.2" cy="638.7" r="1.25" fill="#bc0000"/>
<circle cx="154.8" cy="638.8" r="1.25" fill="#bc0000"/>
<circle cx="150.5" cy="639.3" r="1.25" fill="#a20000"/>
<circle cx="146.2" cy="640.0" r="1.25" fill="#a20000"/>
<circle cx="141.9" cy="641.0" r="1.25" fill="#a20000"/>
<circle cx="137.8" cy="642.3" r="1.25" fill="#bc0000"/>
<circle cx="133.7" cy="643.9" r="1.25" fill="#a20000"/>
<circle cx="129.8" cy="645.8" r="1.25" fill="#a20000"/>
<circle cx="125.9" cy="647.9" r="1.25" fill="#a20000"/>
<circle cx="122.3" cy="650.2" r="1.25" fill="#a20000"/>
<circle cx="118.8" cy="652.8" r="1.25" fill="#bc0000"/>
<circle cx="115.4" cy="655.7" r="1.25" fill="#8e0000"/>
<circle cx="112.3" cy="658.7" r="1.25" fill="#a20000"/>
<circle cx="109.4" cy="662.0" r="1.25" fill="#bc0000"/>
<circle cx="106.7" cy="665.4" r="1.25" fill="#a20000"/>
<circle cx="104.2" cy="669.0" r="1.25" fill="#bc0000"/>
<circle cx="102.0" cy="672.8" r="1.25" fill="#a20000"/>
<circle cx="100.1" cy="676.7" r="1.25" fill="#8e0000"/>
<circle cx="98.4" cy="680.7" r="1.25" fill="#bc0000"/>
<circle cx="97.0" cy="684.8" r="1.25" fill="#a20000"/>
<circle cx="95.8" cy="689.0" r="1.25" fill="#a20000"/>
<circle cx="95.0" cy="693.3" r="1.25" fill="#a20000"/>
<circle cx="94.4" cy="697.6" r="1.25" fill="#a20000"/>
<circle cx="94.1" cy="702.0" r="1.25" fill="#a20000"/>
<circle cx="94.2" cy="706.3" r="1.25" fill="#a20000"/>
<circle cx="94.5" cy="710.7" r="1.25" fill="#a20000"/>
<circle cx="95.1" cy="715.0" r="1.25" fill="#a20000"/>
<circle cx="95.9" cy="719.3" r="1.25" fill="#a20000"/>
<circle cx="97.1" cy="723.5" r="1.25" fill="#8e0000"/>
<circle cx="98.5" cy="727.6" r="1.25" fill="#bc0000"/>
<circle cx="100.3" cy="731.6" r="1.25" fill="#8e0000"/>
<circle cx="102.2" cy="735.5" r="1.25" fill="#a20000"/>
<circle cx="104.5" cy="739.3" r="1.25" fill="#bc0000"/>
<circle cx="107.0" cy="742.9" r="1.25" fill="#a20000"/>
<circle cx="109.7" cy="746.3" r="1.25" fill="#bc0000"/>
<circle cx="112.6" cy="749.5" r="1.25" fill="#a20000"/>
<circle cx="115.8" cy="752.5" r="1.25" fill="#a20000"/>
<circle cx="119.1" cy="755.3" r="1.25" fill="#8e0000"/>
<circle cx="122.6" cy="757.9" r="1.25" fill="#bc0000"/>
<circle cx="126.3" cy="760.2" r="1.25" fill="#a20000"/>
<circle cx="130.1" cy="762.3" r="1.25" fill="#a20000"/>
<circle cx="134.1" cy="764.1" r="1.25" fill="#bc0000"/>
<circle cx="138.2" cy="765.7" r="1.25" fill="#bc0000"/>
<circle cx="142.4" cy="767.0" r="1.25" fill="#bc0000"/>
<circle cx="146.6" cy="768.0" r="1.25" fill="#a20000"/>
<circle cx="150.9" cy="768.7" r="1.25" fill="#a20000"/>
<circle cx="155.3" cy="769.1" r="1.25" fill="#a20000"/>
<circle cx="159.6" cy="769.2" r="1.25" fill="#a20000"/>
<circle cx="164.0" cy="769.1" r="1.25" fill="#8e0000"/>
<circle cx="168.3" cy="768.6" r="1.25" fill="#a20000"/>
<circle cx="172.6" cy="767.9" r="1.25" fill="#a20000"/>
<circle cx="176.9" cy="766.9" r="1.25" fill="#a20000"/>
<circle cx="181.0" cy="765.6" r="1.25" fill="#8e0000"/>
<circle cx="185.1" cy="764.0" r="1.25" fill="#a20000"/>
<circle cx="189.0" cy="762.1" r="1.25" fill="#a20000"/>
<circle cx="192.9" cy="760.0" r="1.25" fill="#a20000"/>
<circle cx="196.5" cy="757.7" r="1.25" fill="#a20000"/>
<circle cx="200.0" cy="755.1" r="1.25" fill="#8e0000"/>
<circle cx="203.4" cy="752.2" r="1.25" fill="#bc0000"/>
<circle cx="206.5" cy="749.2" r="1.25" fill="#a20000"/>
<circle cx="209.4" cy="745.9" r="1.25" fill="#8e0000"/>
<circle cx="212.1" cy="742.5" r="1.25" fill="#a20000"/>
<circle cx="214.6" cy="738.9" r="1.25" fill="#8e0000"/>
<circle cx="216.8" cy="735.1" r="1.25" fill="#a20000"/>
<circle cx="218.7" cy="731.2" r="1.25" fill="#bc0000"/>
<circle cx="220.4" cy="727.2" r="1.25" fill="#8e0000"/>
<circle cx="221.8" cy="723.1" r="1.25" fill="#a20000"/>
<circle cx="223.0" cy="718.9" r="1.25" fill="#a20000"/>
<circle cx="223.8" cy="714.6" r="1.25" fill="#a20000"/>
<circle cx="224.4" cy="710.3" r="1.25" fill="#a20000"/>
<circle cx="224.7" cy="705.9" r="1.25" fill="#a20000"/>
<circle cx="228.9" cy="700.0" r="1.25" fill="#a00000"/>
<circle cx="228.6" cy="695.7" r="1.25" fill="#8c0000"/>
<circle cx="227.9" cy="691.4" r="1.25" fill="#a00000"/>
<circle cx="227.0" cy="687.1" r="1.25" fill="#ba0000"/>
<circle cx="225.8" cy="683.0" r="1.25" fill="#ba0000"/>
<circle cx="224.4" cy="678.9" r="1.25" fill="#a00000"/>
<circle cx="222.7" cy="674.9" r="1.25" fill="#a00000"/>
<circle cx="220.8" cy="671.0" r="1.25" fill="#8c0000"/>
<circle cx="218.6" cy="667.3" r="1.25" fill="#a00000"/>
<circle cx="216.2" cy="663.6" r="1.25" fill="#a00000"/>
<circle cx="213.6" cy="660.2" r="1.25" fill="#a00000"/>
<circle cx="210.8" cy="656.9" r="1.25" fill="#a00000"/>
<circle cx="207.7" cy="653.8" r="1.25" fill="#a00000"/>
<circle cx="204.5" cy="650.9" r="1.25" fill="#8c0000"/>
<circle cx="201.1" cy="648.2" r="1.25" fill="#a00000"/>
<circle cx="197.6" cy="645.7" r="1.25" fill="#a00000"/>
<circle cx="193.9" cy="643.4" r="1.25" fill="#8c0000"/>
<circle cx="190.1" cy="641.4" r="1.25" fill="#a00000"/>
<circle cx="186.1" cy="639.6" r="1.25" fill="#a00000"/>
<circle cx="182.1" cy="638.1" r="1.25" fill="#ba0000"/>
<circle cx="177.9" cy="636.8" r="1.25" fill="#a00000"/>
<circle cx="173.7" cy="635.8" r="1.25" fill="#a00000"/>
<circle cx="169.5" cy="635.0" r="1.25" fill="#a00000"/>
<circle cx="165.2" cy="634.5" r="1.25" fill="#ba0000"/>
<circle cx="160.8" cy="634.3" r="1.25" fill="#a00000"/>
<circle cx="156.5" cy="634.4" r="1.25" fill="#a00000"/>
<circle cx="152.2" cy="634.7" r="1.25" fill="#a00000"/>
<circle cx="147.9" cy="635.3" r="1.25" fill="#a00000"/>
<circle cx="143.6" cy="636.1" r="1.25" fill="#ba0000"/>
<circle cx="139.4" cy="637.2" r="1.25" fill="#ba0000"/>
<circle cx="135.3" cy="638.6" r="1.25" fill="#8c0000"/>
<circle cx="131.3" cy="640.2" r="1.25" fill="#ba0000"/>
<circle cx="127.4" cy="642.1" r="1.25" fill="#a00000"/>
<circle cx="123.6" cy="644.2" r="1.25" fill="#a00000"/>
<circle cx="120.0" cy="646.5" r="1.25" fill="#a00000"/>
<circle cx="116.5" cy="649.1" r="1.25" fill="#a00000"/>
<circle cx="113.2" cy="651.9" r="1.25" fill="#ba0000"/>
<circle cx="110.0" cy="654.8" r="1.25" fill="#ba0000"/>
<circle cx="107.1" cy="658.0" r="1.25" fill="#a00000"/>
<circle cx="104.3" cy="661.3" r="1.25" fill="#ba0000"/>
<circle cx="101.8" cy="664.9" r="1.25" fill="#8c0000"/>
<circle cx="99.4" cy="668.5" r="1.25" fill="#a00000"/>
<circle cx="97.4" cy="672.3" r="1.25" fill="#a00000"/>
<circle cx="95.5" cy="676.2" r="1.25" fill="#8c0000"/>
<circle cx="93.9" cy="680.3" r="1.25" fill="#a00000"/>
<circle cx="92.6" cy="684.4" r="1.25" fill="#8c0000"/>
<circle cx="91.5" cy="688.6" r="1.25" fill="#8c0000"/>
<circle cx="90.6" cy="692.8" r="1.25" fill="#a00000"/>
<circle cx="90.1" cy="697.1" r="1.25" fill="#8c0000"/>
<circle cx="89.8" cy="701.4" r="1.25" fill="#a00000"/>
<circle cx="89.8" cy="705.8" r="1.25" fill="#a00000"/>
<circle cx="90.0" cy="710.1" r="1.25" fill="#a00000"/>
<circle cx="90.5" cy="714.4" r="1.25" fill="#ba0000"/>
<circle cx="91.3" cy="718.7" r="1.25" fill="#a00000"/>
<circle cx="92.4" cy="722.9" r="1.25" fill="#a00000"/>
<circle cx="93.7" cy="727.0" r="1.25" fill="#8c0000"/>
<circle cx="95.2" cy="731.0" r="1.25" fill="#8c0000"/>
<circle cx="97.0" cy="735.0" r="1.25" fill="#a00000"/>
<circle cx="99.1" cy="738.8" r="1.25" fill="#8c0000"/>
<circle cx="101.4" cy="742.5" r="1.25" fill="#ba0000"/>
<circle cx="103.9" cy="746.0" r="1.25" fill="#a00000"/>
<circle cx="106.6" cy="749.4" r="1.25" fill="#a00000"/>
<circle cx="109.5" cy="752.6" r="1.25" fill="#a00000"/>
<circle cx="112.6" cy="755.6" r="1.25" fill="#ba0000"/>
<circle cx="115.9" cy="758.4" r="1.25" fill="#a00000"/>
<circle cx="119.4" cy="761.0" r="1.25" fill="#a00000"/>
<circle cx="123.0" cy="763.4" r="1.25" fill="#a00000"/>
<circle cx="126.8" cy="765.5" r="1.25" fill="#a00000"/>
<circle cx="130.7" cy="767.4" r="1.25" fill="#a00000"/>
<circle cx="134.7" cy="769.1" r="1.25" fill="#a00000"/>
<circle cx="138.8" cy="770.5" r="1.25" fill="#a00000"/>
<circle cx="143.0" cy="771.6" r="1.25" fill="#ba0000"/>
<circle cx="147.2" cy="772.5" r="1.25" fill="#a00000"/>
<circle cx="151.5" cy="773.1" r="1.25" fill="#a00000"/>
<circle cx="155.8" cy="773.5" r="1.25" fill="#8c0000"/>
<circle cx="160.1" cy="773.6" r="1.25" fill="#a00000"/>
<circle cx="164.5" cy="773.4" r="1.25" fill="#a00000"/>
<circle cx="168.8" cy="773.0" r="1.25" fill="#ba0000"/>
<circle cx="173.0" cy="772.2" r="1.25" fill="#8c0000"/>
<circle cx="177.3" cy="771.3" r="1.25" fill="#8c0000"/>
<circle cx="181.4" cy="770.0" r="1.25" fill="#a00000"/>
<circle cx="185.5" cy="768.5" r="1.25" fill="#a00000"/>
<circle cx="189.4" cy="766.8" r="1.25" fill="#8c0000"/>
<circle cx="193.3" cy="764.8" r="1.25" fill="#8c0000"/>
<circle cx="197.0" cy="762.6" r="1.25" fill="#a00000"/>
<circle cx="200.6" cy="760.1" r="1.25" fill="#ba0000"/>
<circle cx="204.0" cy="757.4" r="1.25" fill="#a00000"/>
<circle cx="207.2" cy="754.6" r="1.25" fill="#a00000"/>
<circle cx="210.3" cy="751.5" r="1.25" fill="#a00000"/>
<circle cx="213.1" cy="748.2" r="1.25" fill="#a00000"/>
<circle cx="215.8" cy="744.8" r="1.25" fill="#a00000"/>
<circle cx="218.2" cy="741.2" r="1.25" fill="#a00000"/>
<circle cx="220.4" cy="737.5" r="1.25" fill="#ba0000"/>
<circle cx="222.4" cy="733.6" r="1.25" fill="#8c0000"/>
<circle cx="224.1" cy="729.7" r="1.25" fill="#a00000"/>
<circle cx="225.6" cy="725.6" r="1.25" fill="#8c0000"/>
<circle cx="226.8" cy="721.4" r="1.25" fill="#a00000"/>
<circle cx="227.8" cy="717.2" r="1.25" fill="#a00000"/>
<circle cx="228.5" cy="712.9" r="1.25" fill="#a00000"/>
<circle cx="228.9" cy="708.6" r="1.25" fill="#a00000"/>
<circle cx="229.0" cy="704.3" r="1.25" fill="#8c0000"/>
<circle cx="233.4" cy="702.7" r="1.25" fill="#9e0000"/>
<circle cx="233.2" cy="698.3" r="1.25" fill="#9e0000"/>
<circle cx="232.7" cy="694.0" r="1.25" fill="#9e0000"/>
<circle cx="232.0" cy="689.7" r="1.25" fill="#9e0000"/>
<circle cx="231.1" cy="685.5" r="1.25" fill="#9e0000"/>
<circle cx="229.9" cy="681.3" r="1.25" fill="#b80000"/>
<circle cx="228.4" cy="677.2" r="1.25" fill="#9e0000"/>
<circle cx="226.7" cy="673.2" r="1.25" fill="#b80000"/>
<circle cx="224.8" cy="669.3" r="1.25" fill="#9e0000"/>
<circle cx="222.7" cy="665.6" r="1.25" fill="#9e0000"/>
<circle cx="220.3" cy="661.9" r="1.25" fill="#9e0000"/>
<circle cx="217.7" cy="658.4" r="1.25" fill="#b80000"/>
<circle cx="215.0" cy="655.1" r="1.25" fill="#9e0000"/>
<circle cx="212.0" cy="651.9" r="1.25" fill="#9e0000"/>
<circle cx="208.8" cy="648.9" r="1.25" fill="#9e0000"/>
<circle cx="205.5" cy="646.1" r="1.25" fill="#9e0000"/>
<circle cx="202.0" cy="643.5" r="1.25" fill="#b80000"/>
<circle cx="198.4" cy="641.1" r="1.25" fill="#9e0000"/>
<circle cx="194.7" cy="638.9" r="1.25" fill="#9e0000"/>
<circle cx="190.8" cy="636.9" r="1.25" fill="#9e0000"/>
<circle cx="186.8" cy="635.2" r="1.25" fill="#9e0000"/>
<circle cx="182.7" cy="633.7" r="1.25" fill="#8a0000"/>
<circle cx="178.6" cy="632.5" r="1.25" fill="#8a0000"/>
<circle cx="174.3" cy="631.5" r="1.25" fill="#9e0000"/>
<circle cx="170.1" cy="630.7" r="1.25" fill="#b80000"/>
<circle cx="165.7" cy="630.2" r="1.25" fill="#b80000"/>
<circle cx="161.4" cy="630.0" r="1.25" fill="#9e0000"/>
<circle cx="157.1" cy="630.0" r="1.25" fill="#9e0000"/>
<circle cx="152.7" cy="630.3" r="1.25" fill="#b80000"/>
<circle cx="148.4" cy="630.8" r="1.25" fill="#9e0000"/>
<circle cx="144.1" cy="631.5" r="1.25" fill="#b80000"/>
<circle cx="139.9" cy="632.6" r="1.25" fill="#9e0000"/>
<circle cx="135.7" cy="633.8" r="1.25" fill="#9e0000"/>
<circle cx="131.7" cy="635.3" r="1.25" fill="#9e0000"/>
<circle cx="127.7" cy="637.1" r="1.25" fill="#9e0000"/>
<circle cx="123.8" cy="639.1" r="1.25" fill="#9e0000"/>
<circle cx="120.1" cy="641.3" r="1.25" fill="#9e0000"/>
<circle cx="116.5" cy="643.7" r="1.25" fill="#9e0000"/>
<circle cx="113.0" cy="646.3" r="1.25" fill="#9e0000"/>
<circle cx="109.7" cy="649.1" r="1.25" fill="#b80000"/>
<circle cx="106.6" cy="652.1" r="1.25" fill="#b80000"/>
<circle cx="103.6" cy="655.3" r="1.25" fill="#8a0000"/>
<circle cx="100.9" cy="658.7" r="1.25" fill="#9e0000"/>
<circle cx="98.3" cy="662.2" r="1.25" fill="#8a0000"/>
<circle cx="96.0" cy="665.9" r="1.25" fill="#9e0000"/>
<circle cx="93.8" cy="669.6" r="1.25" fill="#9e0000"/>
<circle cx="91.9" cy="673.5" r="1.25" fill="#8a0000"/>
<circle cx="90.3" cy="677.6" r="1.25" fill="#8a0000"/>
<circle cx="88.8" cy="681.7" r="1.25" fill="#8a0000"/>
<circle cx="87.6" cy="685.8" r="1.25" fill="#9e0000"/>
<circle cx="86.7" cy="690.1" r="1.25" fill="#9e0000"/>
<circle cx="86.0" cy="694.4" r="1.25" fill="#9e0000"/>
<circle cx="85.6" cy="698.7" r="1.25" fill="#9e0000"/>
<circle cx="85.4" cy="703.0" r="1.25" fill="#b80000"/>
<circle cx="85.5" cy="707.4" r="1.25" fill="#9e0000"/>
<circle cx="85.8" cy="711.7" r="1.25" fill="#8a0000"/>
<circle cx="86.4" cy="716.0" r="1.25" fill="#ff4c00"/>
<circle cx="87.2" cy="720.3" r="1.25" fill="#ff4c00"/>
<circle cx="88.3" cy="724.5" r="1.25" fill="#ff4c00"/>
<circle cx="89.6" cy="728.6" r="1.25" fill="#ff4c00"/>
<circle cx="91.2" cy="732.7" r="1.25" fill="#ff4c00"/>
<circle cx="93.0" cy="736.6" r="1.25" fill="#ff4c00"/>
<circle cx="95.0" cy="740.5" r="1.25" fill="#ff4c00"/>
<circle cx="97.3" cy="744.2" r="1.25" fill="#ff4c00"/>
<circle cx="99.8" cy="747.8" r="1.25" fill="#ff4c00"/>
<circle cx="102.4" cy="751.2" r="1.25" fill="#ff4c00"/>
<circle cx="105.3" cy="754.4" r="1.25" fill="#ff4c00"/>
<circle cx="108.4" cy="757.5" r="1.25" fill="#ff4c00"/>
<circle cx="111.6" cy="760.4" r="1.25" fill="#ff4c00"/>
<circle cx="115.0" cy="763.1" r="1.25" fill="#ff4c00"/>
<circle cx="118.5" cy="765.7" r="1.25" fill="#ff4c00"/>
<circle cx="122.2" cy="767.9" r="1.25" fill="#ff4c00"/>
<circle cx="126.1" cy="770.0" r="1.25" fill="#ff4c00"/>
<circle cx="130.0" cy="771.9" r="1.25" fill="#9e0000"/>
<circle cx="134.0" cy="773.5" r="1.25" fill="#b80000"/>
<circle cx="138.2" cy="774.8" r="1.25" fill="#9e0000"/>
<circle cx="142.3" cy="776.0" r="1.25" fill="#9e0000"/>
<circle cx="146.6" cy="776.8" r="1.25" fill="#8a0000"/>
<circle cx="150.9" cy="777.5" r="1.25" fill="#9e0000"/>
<circle cx="155.2" cy="777.8" r="1.25" fill="#9e0000"/>
<circle cx="159.6" cy="777.9" r="1.25" fill="#8a0000"/>
<circle cx="163.9" cy="777.8" r="1.25" fill="#9e0000"/>
<circle cx="168.2" cy="777.4" r="1.25" fill="#b80000"/>
<circle cx="172.5" cy="776.8" r="1.25" fill="#b80000"/>
<circle cx="176.8" cy="775.9" r="1.25" fill="#b80000"/>
<circle cx="181.0" cy="774.7" r="1.25" fill="#9e0000"/>
<circle cx="185.1" cy="773.3" r="1.25" fill="#9e0000"/>
<circle cx="189.1" cy="771.7" r="1.25" fill="#9e0000"/>
<circle cx="193.1" cy="769.9" r="1.25" fill="#8a0000"/>
<circle cx="196.9" cy="767.8" r="1.25" fill="#9e0000"/>
<circle cx="200.5" cy="765.5" r="1.25" fill="#8a0000"/>
<circle cx="204.1" cy="762.9" r="1.25" fill="#9e0000"/>
<circle cx="207.5" cy="760.2" r="1.25" fill="#b80000"/>
<circle cx="210.7" cy="757.3" r="1.25" fill="#b80000"/>
<circle cx="213.7" cy="754.2" r="1.25" fill="#9e0000"/>
<circle cx="216.6" cy="750.9" r="1.25" fill="#9e0000"/>
<circle cx="219.2" cy="747.5" r="1.25" fill="#9e0000"/>
<circle cx="221.7" cy="743.9" r="1.25" fill="#9e0000"/>
<circle cx="223.9" cy="740.2" r="1.25" fill="#9e0000"/>
<circle cx="225.9" cy="736.3" r="1.25" fill="#9e0000"/>
<circle cx="227.7" cy="732.4" r="1.25" fill="#8a0000"/>
<circle cx="229.3" cy="728.3" r="1.25" fill="#9e0000"/>
<circle cx="230.6" cy="724.2" r="1.25" fill="#9e0000"/>
<circle cx="231.7" cy="719.9" r="1.25" fill="#9e0000"/>
<circle cx="232.5" cy="715.7" r="1.25" fill="#b80000"/>
<circle cx="233.0" cy="711.4" r="1.25" fill="#8a0000"/>
<circle cx="233.3" cy="707.0" r="1.25" fill="#9e0000"/>
<rect x="48.4" y="593.2" width="222.0" height="221.5" fill="none" stroke="#111" stroke-width="1.8"/>
<text x="44.0" y="638.0" font-size="17" text-anchor="end" textLength="25.64" lengthAdjust="spacingAndGlyphs" font-family="Liberation Sans, sans-serif">1.0</text>
<text x="235.1" y="835.5" font-size="17" text-anchor="middle" textLength="25.64" lengthAdjust="spacingAndGlyphs" font-family="Liberation Sans, sans-serif">1.0</text>
<text x="44.0" y="712.0" font-size="17" text-anchor="end" textLength="25.64" lengthAdjust="spacingAndGlyphs" font-family="Liberation Sans, sans-serif">0.0</text>
<text x="161.1" y="835.5" font-size="17" text-anchor="middle" textLength="25.64" lengthAdjust="spacingAndGlyphs" font-family="Liberation Sans, sans-serif">0.0</text>
<text x="44.0" y="786.0" font-size="17" text-anchor="end" textLength="31.78" lengthAdjust="spacingAndGlyphs" font-family="Liberation Sans, sans-serif">-1.0</text>
<text x="87.1" y="835.5" font-size="17" text-anchor="middle" textLength="31.78" lengthAdjust="spacingAndGlyphs" font-family="Liberation Sans, sans-serif">-1.0</text>
<text x="162.0" y="859.5" font-size="19.5" text-anchor="middle" font-family="Liberation Sans, sans-serif">NA<tspan font-size="13" dy="4">obj</tspan></text>
<text transform="translate(16.2,701.5) rotate(-90)" font-size="19.5" text-anchor="middle" font-family="Liberation Sans, sans-serif">NA<tspan font-size="13" dy="5">obj</tspan></text>
<rect x="278.4" y="593.2" width="17" height="221.5" fill="url(#jetv)"/>
<text x="304.2" y="602.0" font-size="18.2" font-family="Liberation Sans, sans-serif">1</text>
<line x1="293.4" y1="704.0" x2="295.4" y2="704.0" stroke="#333" stroke-width="0.9"/>
<text x="297.0" y="710.8" font-size="18.2" font-family="Liberation Sans, sans-serif">0.5</text>
<text x="304.2" y="821.9" font-size="18.2" font-family="Liberation Sans, sans-serif">0</text>
<line x1="293.4" y1="648.6" x2="295.4" y2="648.6" stroke="#333" stroke-width="0.9"/>
<text x="295.4" y="655.4" font-size="18.2" font-family="Liberation Sans, sans-serif"></text>
<line x1="293.4" y1="759.3" x2="295.4" y2="759.3" stroke="#333" stroke-width="0.9"/>
<text x="295.4" y="766.1" font-size="18.2" font-family="Liberation Sans, sans-serif"></text>
<text x="401.2" y="578.4" font-size="23" font-family="Liberation Sans, sans-serif">(e)</text>
<line x1="417.0" y1="596.0" x2="417.0" y2="817.6" stroke="#cfcfcf" stroke-width="0.9" stroke-dasharray="1.5 2"/>
<line x1="406.5" y1="807.6" x2="628.3" y2="807.6" stroke="#cfcfcf" stroke-width="0.9" stroke-dasharray="1.5 2"/>
<line x1="457.3" y1="596.0" x2="457.3" y2="817.6" stroke="#cfcfcf" stroke-width="0.9" stroke-dasharray="1.5 2"/>
<line x1="406.5" y1="767.3" x2="628.3" y2="767.3" stroke="#cfcfcf" stroke-width="0.9" stroke-dasharray="1.5 2"/>
<line x1="497.5" y1="596.0" x2="497.5" y2="817.6" stroke="#cfcfcf" stroke-width="0.9" stroke-dasharray="1.5 2"/>
<line x1="406.5" y1="727.0" x2="628.3" y2="727.0" stroke="#cfcfcf" stroke-width="0.9" stroke-dasharray="1.5 2"/>
<line x1="537.8" y1="596.0" x2="537.8" y2="817.6" stroke="#cfcfcf" stroke-width="0.9" stroke-dasharray="1.5 2"/>
<line x1="406.5" y1="686.7" x2="628.3" y2="686.7" stroke="#cfcfcf" stroke-width="0.9" stroke-dasharray="1.5 2"/>
<line x1="578.0" y1="596.0" x2="578.0" y2="817.6" stroke="#cfcfcf" stroke-width="0.9" stroke-dasharray="1.5 2"/>
<line x1="406.5" y1="646.4" x2="628.3" y2="646.4" stroke="#cfcfcf" stroke-width="0.9" stroke-dasharray="1.5 2"/>
<line x1="618.3" y1="596.0" x2="618.3" y2="817.6" stroke="#cfcfcf" stroke-width="0.9" stroke-dasharray="1.5 2"/>
<line x1="406.5" y1="606.1" x2="628.3" y2="606.1" stroke="#cfcfcf" stroke-width="0.9" stroke-dasharray="1.5 2"/>
<g clip-path="url(#c_ins1)"><circle cx="460.3" cy="685.5" r="39" fill="url(#ins1o)"/><g filter="url(#blur3)"><ellipse cx="494" cy="675" rx="10" ry="30" fill="#40f0e0" opacity="0.9"/><ellipse cx="470" cy="650" rx="22" ry="6" fill="#40f0e0" opacity="0.8"/><ellipse cx="440" cy="714" rx="14" ry="6" fill="#40f0e0" opacity="0.7"/></g><g filter="url(#blur2)"><ellipse cx="433" cy="663" rx="6" ry="5" fill="#ff9800" opacity="0.95"/><ellipse cx="474" cy="718" rx="16" ry="3.5" fill="#ff9000" opacity="0.95"/><ellipse cx="428" cy="690" rx="4" ry="12" fill="#d8ff30" opacity="0.9"/></g><circle cx="463.5" cy="684.8" r="28" fill="url(#ins1)"/><ellipse cx="468" cy="692" rx="12" ry="10" fill="#700000" opacity="0.5" filter="url(#blur3)"/></g>
<g clip-path="url(#c_ins2)"><rect x="420" y="730" width="82" height="84" fill="url(#ins2)"/><path d="M424,780 A38,38 0 0 0 470,809" fill="none" stroke="#ff3000" stroke-width="2.5" opacity="0.8" filter="url(#blur2)"/><ellipse cx="450" cy="765" rx="18" ry="22" fill="#d00000" opacity="0.45" filter="url(#blur3)"/><ellipse cx="470" cy="742" rx="16" ry="6" fill="#900000" opacity="0.45" filter="url(#blur3)"/></g>
<g transform="translate(460.8,683.0) rotate(-44.8)"><path d="M0,-2.2 L24.8,-2.2 L24.8,-7 L34.8,0 L24.8,7 L24.8,2.2 L0,2.2 Z" fill="#000" stroke="#000" stroke-width="3.5" filter="url(#blur1)" opacity="0.7"/><path d="M0,-2.2 L24.8,-2.2 L24.8,-7 L34.8,0 L24.8,7 L24.8,2.2 L0,2.2 Z" fill="#fff" stroke="#000" stroke-width="2" stroke-linejoin="miter"/></g>
<g transform="translate(460.8,769.6) rotate(-44.0)"><path d="M0,-2.2 L23.7,-2.2 L23.7,-7 L33.7,0 L23.7,7 L23.7,2.2 L0,2.2 Z" fill="#000" stroke="#000" stroke-width="3.5" filter="url(#blur1)" opacity="0.7"/><path d="M0,-2.2 L23.7,-2.2 L23.7,-7 L33.7,0 L23.7,7 L23.7,2.2 L0,2.2 Z" fill="#fff" stroke="#000" stroke-width="2" stroke-linejoin="miter"/></g>
<polyline points="417.0,615.2 429.1,616.2 440.8,617.6 460.1,613.4 477.4,613.8 488.1,614.6 501.5,612.1 519.7,612.1 537.8,613.8 559.9,612.1 570.0,610.1 584.1,608.1 594.1,611.1 608.2,615.6" fill="none" stroke="#ff0000" stroke-width="3" stroke-linejoin="round"/>
<polyline points="417.0,624.2 429.3,622.2 440.8,624.2 454.6,631.3 467.3,630.7 475.6,630.3 491.5,637.9 500.3,639.5 511.6,643.4 524.7,651.4 535.8,664.5 549.9,684.7 559.9,704.8 572.0,721.0 585.1,729.0 596.2,729.0 608.2,736.1" fill="none" stroke="#000" stroke-width="3.2" stroke-linejoin="round"/>
<line x1="535" y1="761" x2="564" y2="761" stroke="#000" stroke-width="3"/>
<line x1="535" y1="782.6" x2="564" y2="782.6" stroke="#ff0000" stroke-width="3"/>
<text x="566.8" y="765" font-size="17" textLength="31.34" lengthAdjust="spacingAndGlyphs" font-family="Liberation Sans, sans-serif">Top</text>
<text x="567" y="787" font-size="17" textLength="57.63" lengthAdjust="spacingAndGlyphs" font-family="Liberation Sans, sans-serif">Bottom</text>
<rect x="406.5" y="596.0" width="221.8" height="221.6" fill="none" stroke="#111" stroke-width="1.8"/>
<line x1="417.0" y1="817.6" x2="417.0" y2="813.6" stroke="#000" stroke-width="1.8"/>
<line x1="406.5" y1="807.6" x2="410.5" y2="807.6" stroke="#000" stroke-width="1.8"/>
<text x="418.2" y="840.0" font-size="17" text-anchor="middle" textLength="25.64" lengthAdjust="spacingAndGlyphs" font-family="Liberation Sans, sans-serif">0.0</text>
<text x="401.9" y="813.6" font-size="17" text-anchor="end" textLength="25.64" lengthAdjust="spacingAndGlyphs" font-family="Liberation Sans, sans-serif">0.0</text>
<line x1="457.3" y1="817.6" x2="457.3" y2="813.6" stroke="#000" stroke-width="1.8"/>
<line x1="406.5" y1="767.3" x2="410.5" y2="767.3" stroke="#000" stroke-width="1.8"/>
<text x="458.5" y="840.0" font-size="17" text-anchor="middle" textLength="25.64" lengthAdjust="spacingAndGlyphs" font-family="Liberation Sans, sans-serif">0.2</text>
<text x="401.9" y="773.3" font-size="17" text-anchor="end" textLength="25.64" lengthAdjust="spacingAndGlyphs" font-family="Liberation Sans, sans-serif">0.2</text>
<line x1="497.5" y1="817.6" x2="497.5" y2="813.6" stroke="#000" stroke-width="1.8"/>
<line x1="406.5" y1="727.0" x2="410.5" y2="727.0" stroke="#000" stroke-width="1.8"/>
<text x="498.7" y="840.0" font-size="17" text-anchor="middle" textLength="25.64" lengthAdjust="spacingAndGlyphs" font-family="Liberation Sans, sans-serif">0.4</text>
<text x="401.9" y="733.0" font-size="17" text-anchor="end" textLength="25.64" lengthAdjust="spacingAndGlyphs" font-family="Liberation Sans, sans-serif">0.4</text>
<line x1="537.8" y1="817.6" x2="537.8" y2="813.6" stroke="#000" stroke-width="1.8"/>
<line x1="406.5" y1="686.7" x2="410.5" y2="686.7" stroke="#000" stroke-width="1.8"/>
<text x="539.0" y="840.0" font-size="17" text-anchor="middle" textLength="25.64" lengthAdjust="spacingAndGlyphs" font-family="Liberation Sans, sans-serif">0.6</text>
<text x="401.9" y="692.7" font-size="17" text-anchor="end" textLength="25.64" lengthAdjust="spacingAndGlyphs" font-family="Liberation Sans, sans-serif">0.6</text>
<line x1="578.0" y1="817.6" x2="578.0" y2="813.6" stroke="#000" stroke-width="1.8"/>
<line x1="406.5" y1="646.4" x2="410.5" y2="646.4" stroke="#000" stroke-width="1.8"/>
<text x="579.2" y="840.0" font-size="17" text-anchor="middle" textLength="25.64" lengthAdjust="spacingAndGlyphs" font-family="Liberation Sans, sans-serif">0.8</text>
<text x="401.9" y="652.4" font-size="17" text-anchor="end" textLength="25.64" lengthAdjust="spacingAndGlyphs" font-family="Liberation Sans, sans-serif">0.8</text>
<line x1="618.3" y1="817.6" x2="618.3" y2="813.6" stroke="#000" stroke-width="1.8"/>
<line x1="406.5" y1="606.1" x2="410.5" y2="606.1" stroke="#000" stroke-width="1.8"/>
<text x="619.5" y="840.0" font-size="17" text-anchor="middle" textLength="25.64" lengthAdjust="spacingAndGlyphs" font-family="Liberation Sans, sans-serif">1.0</text>
<text x="401.9" y="612.1" font-size="17" text-anchor="end" textLength="25.64" lengthAdjust="spacingAndGlyphs" font-family="Liberation Sans, sans-serif">1.0</text>
<text x="520.4" y="863.5" font-size="19.5" text-anchor="middle" font-family="Liberation Sans, sans-serif">NA<tspan font-size="13" dy="4">obj</tspan></text>
<text transform="translate(370.3,707.5) rotate(-90)" font-size="19.8" text-anchor="middle" font-family="Liberation Sans, sans-serif">Normalized Intensity (a.u.)</text>
</svg>
</body></html>
